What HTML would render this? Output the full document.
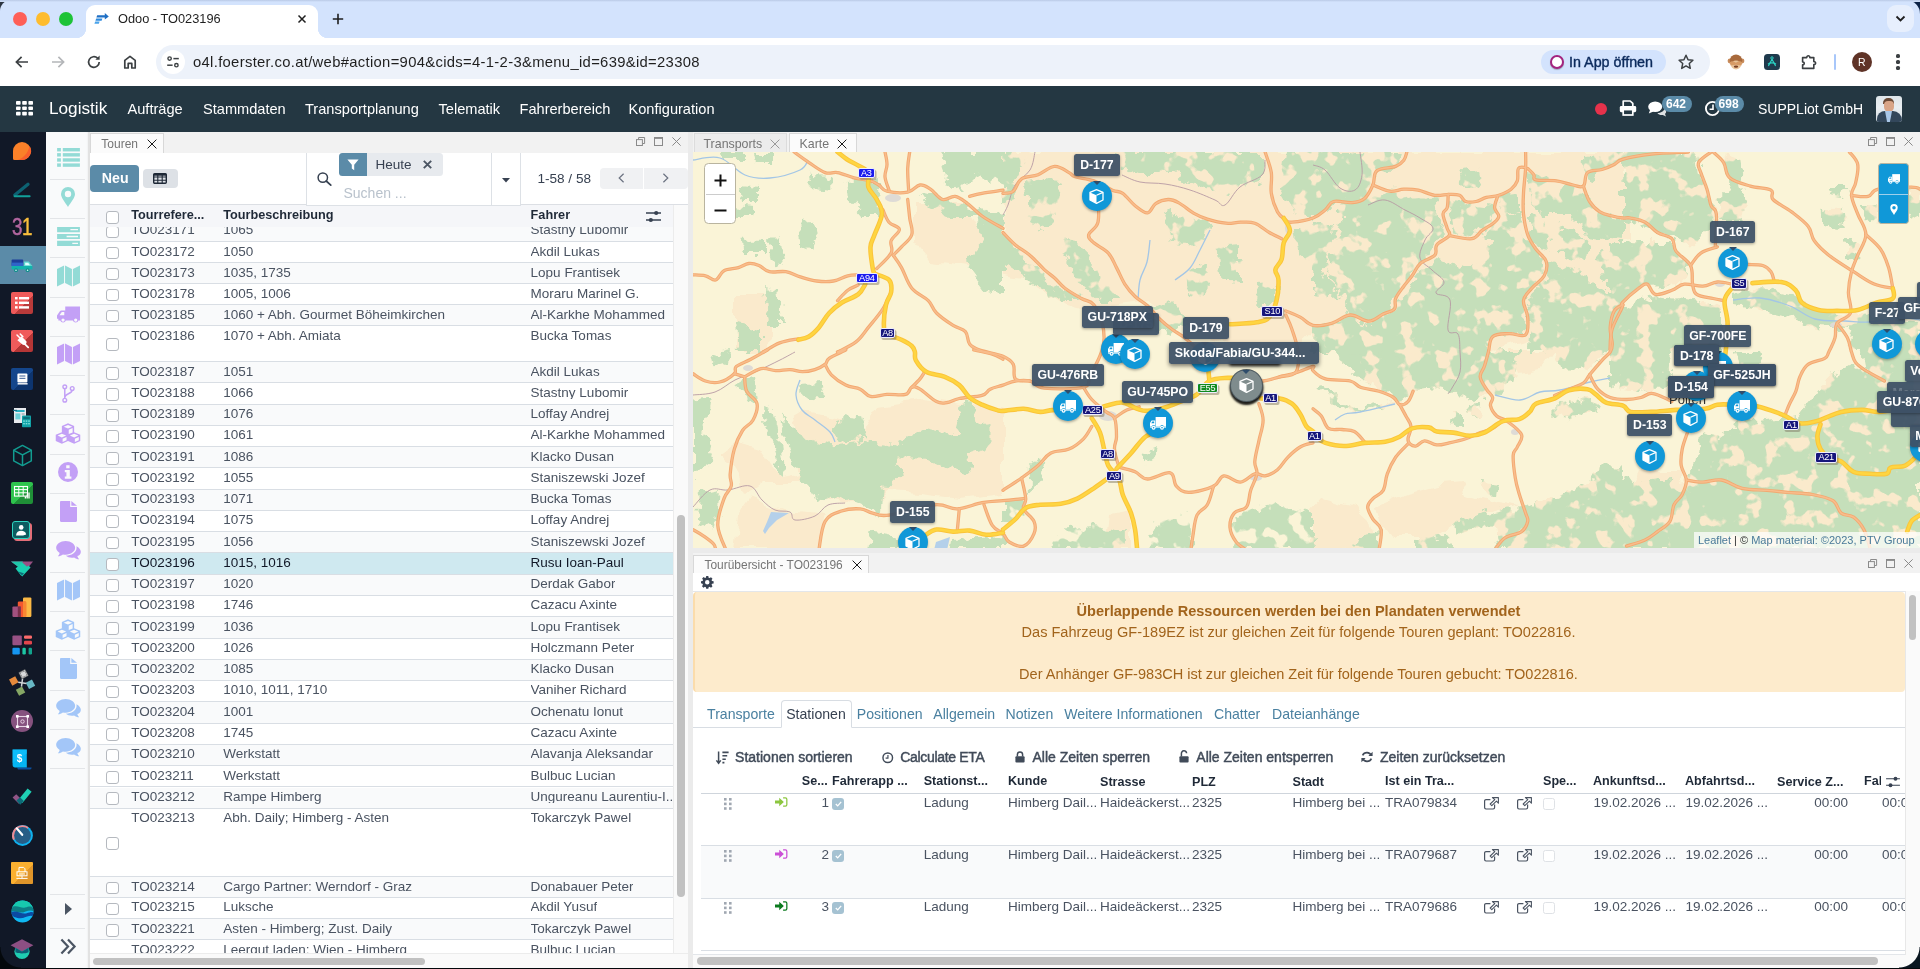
<!DOCTYPE html>
<html lang="de"><head><meta charset="utf-8"><title>Odoo - TO023196</title>
<style>
*{box-sizing:border-box;margin:0;padding:0}
body{will-change:transform}html,body{width:1920px;height:969px;overflow:hidden;background:#fff;font-family:"Liberation Sans",sans-serif;color:#374151}
.a{position:absolute}
.t{position:absolute;white-space:nowrap;line-height:1}
svg{position:absolute;overflow:visible}
/* chrome */
#tabstrip{left:0;top:0;width:1920px;height:38px;background:#d3e3fd}
#toolbar{left:0;top:38px;width:1920px;height:48px;background:#fff}
#tab{left:86px;top:5px;width:232px;height:33px;background:#fff;border-radius:9px 9px 0 0}
#pill{left:155.600px;top:45px;width:1554.400px;height:34px;border-radius:17px;background:#edf2fa}
/* odoo nav */
#nav{left:0;top:86px;width:1920px;height:46px;background:#243742}
#nav .t{color:#fff;font-size:14.6px;top:15.600px}
#apps{left:0;top:132px;width:46px;height:837px;background:#111827}
#sub{left:46px;top:132px;width:44px;height:837px;background:#f9fafb;box-shadow:inset -3px 0 3px -2px rgba(0,0,0,.18)}
#sub .sep{position:absolute;left:4px;width:35px;height:1px;background:#e3e5e8}
</style></head><body>
<!-- ===== browser chrome ===== -->
<div class="a" id="tabstrip">
  <div class="a" style="left:0;top:0;width:12px;height:12px;background:#2b3440"></div>
  <div class="a" style="left:0;top:0;width:24px;height:24px;background:#d3e3fd;border-radius:11px 0 0 0"></div>
  <div class="a" style="right:0;top:0;width:15px;height:15px;background:#0b2347"></div>
  <div class="a" style="right:0;top:0;width:30px;height:30px;background:#d3e3fd;border-radius:0 14px 0 0"></div>
  <div class="a" style="left:0;top:0;width:1920px;height:2px;background:linear-gradient(#b9c9e6,#d3e3fd)"></div>
  <div class="a" style="left:13px;top:12px;width:14px;height:14px;border-radius:50%;background:#fe5f57"></div>
  <div class="a" style="left:36px;top:12px;width:14px;height:14px;border-radius:50%;background:#febc2e"></div>
  <div class="a" style="left:59px;top:12px;width:14px;height:14px;border-radius:50%;background:#1ec337"></div>
  <div class="a" id="tab"></div>
  <div class="a" style="left:76px;top:28px;width:10px;height:10px;background:radial-gradient(circle at 0 0,#d3e3fd 10px,#fff 10.5px)"></div>
  <div class="a" style="left:318px;top:28px;width:10px;height:10px;background:radial-gradient(circle at 100% 0,#d3e3fd 10px,#fff 10.5px)"></div>
  <svg style="left:94px;top:12px" width="16" height="14" viewBox="0 0 16 14"><path d="M3.2 3.2h7.6V1l4 3.4-4 3.2V5.6H2.4z" fill="#1f6fc4"/><path d="M2.2 6.6h6.2l-.8 2.2H1.4z" fill="#2e8be0"/><path d="M1.2 9.6h4.4l-.8 2.2H.4z" fill="#4aa3ea"/></svg>
  <div class="t" style="left:118px;top:12.5px;font-size:12.8px;color:#1f1f1f">Odoo - TO023196</div>
  <svg style="left:297px;top:14px" width="10" height="10" viewBox="0 0 10 10"><path d="M1.5 1.5l7 7M8.5 1.5l-7 7" stroke="#1f1f1f" stroke-width="1.5" fill="none"/></svg>
  <svg style="left:332px;top:13px" width="12" height="12" viewBox="0 0 12 12"><path d="M6 .8v10.4M.8 6h10.4" stroke="#1f1f1f" stroke-width="1.6" fill="none"/></svg>
  <div class="a" style="left:1887px;top:5px;width:27px;height:27px;border-radius:9px;background:#e7effd"></div>
  <svg style="left:1895px;top:15px" width="11" height="8" viewBox="0 0 11 8"><path d="M1.5 1.5l4 4 4-4" stroke="#1f1f1f" stroke-width="1.8" fill="none"/></svg>
</div>
<div class="a" id="toolbar"></div>
<svg style="left:14px;top:54px" width="16" height="16" viewBox="0 0 16 16"><path d="M14 8H2.6M7.6 2.8L2.4 8l5.2 5.2" stroke="#3c4043" stroke-width="1.7" fill="none"/></svg>
<svg style="left:50px;top:54px" width="16" height="16" viewBox="0 0 16 16"><path d="M2 8h11.4M8.4 2.8L13.6 8l-5.2 5.2" stroke="#b4b6b9" stroke-width="1.7" fill="none"/></svg>
<svg style="left:86px;top:54px" width="16" height="16" viewBox="0 0 16 16"><path d="M13.2 8a5.3 5.3 0 1 1-1.6-3.8" stroke="#3c4043" stroke-width="1.7" fill="none"/><path d="M13.6 1.6v4.2H9.4z" fill="#3c4043"/></svg>
<svg style="left:122px;top:54px" width="16" height="16" viewBox="0 0 16 16"><path d="M2.8 14V6.4L8 2.4l5.2 4V14H9.8V9.4H6.2V14z" stroke="#3c4043" stroke-width="1.7" fill="none" stroke-linejoin="round"/></svg>
<div class="a" id="pill"></div>
<div class="a" style="left:161px;top:50px;width:24px;height:24px;border-radius:50%;background:#fff"></div>
<svg style="left:166px;top:55px" width="14" height="14" viewBox="0 0 14 14"><circle cx="3.6" cy="3.6" r="1.7" stroke="#3c4043" stroke-width="1.4" fill="none"/><path d="M7.4 3.6h5.4" stroke="#3c4043" stroke-width="1.5"/><circle cx="10.4" cy="10.2" r="1.7" stroke="#3c4043" stroke-width="1.4" fill="none"/><path d="M1.2 10.2h5.4" stroke="#3c4043" stroke-width="1.5"/></svg>
<div class="t" style="left:193px;top:54.5px;font-size:14.800px;letter-spacing:.320px;color:#1f1f1f">o4l.foerster.co.at/web#action=904&amp;cids=4-1-2-3&amp;menu_id=639&amp;id=23308</div>
<div class="a" style="left:1541px;top:50px;width:125px;height:24px;border-radius:12px;background:#d3e3fd"></div>
<div class="a" style="left:1550px;top:55px;width:14px;height:14px;border-radius:50%;border:2.6px solid #a3247f;background:#fff;box-shadow:0 1px 1px rgba(0,0,0,.25)"></div>
<div class="t" style="left:1569px;top:55px;font-size:14.300px;color:#0b2a5c;-webkit-text-stroke:.400px #0b2a5c">In App öffnen</div>
<svg style="left:1677px;top:53px" width="18" height="18" viewBox="0 0 18 18"><path d="M9 2.2l2.05 4.5 4.85.55-3.6 3.3.98 4.8L9 12.9l-4.28 2.45.98-4.8-3.6-3.3 4.85-.55z" stroke="#3c4043" stroke-width="1.5" fill="none" stroke-linejoin="round"/></svg>
<!-- monkey -->
<svg style="left:1727px;top:53px" width="18" height="18" viewBox="0 0 18 18"><circle cx="3" cy="8" r="2.4" fill="#c68a5a"/><circle cx="15" cy="8" r="2.4" fill="#c68a5a"/><ellipse cx="9" cy="7.6" rx="6.2" ry="6" fill="#a86a3c"/><ellipse cx="9" cy="12" rx="5" ry="4.4" fill="#e9c49a"/><path d="M2.6 9.4c2-1.6 4-1.4 6.4.4 2.4-1.8 4.4-2 6.4-.4l-1 3-5.4-.6-5.4.6z" fill="#d79b66"/><ellipse cx="9" cy="13.6" rx="2.2" ry="1.2" fill="#7a3f22"/></svg>
<div class="a" style="left:1764px;top:54px;width:16px;height:16px;border-radius:3.5px;background:#1f3a4d"></div>
<svg style="left:1766px;top:56px" width="12" height="12" viewBox="0 0 12 12"><circle cx="6" cy="2" r="1.2" stroke="#2bd4c6" stroke-width="1" fill="none"/><path d="M6 3.2L2.4 10M6 3.2L9.6 10M2 8.2c2-1.8 6-1.8 8 0" stroke="#2bd4c6" stroke-width="1.1" fill="none"/></svg>
<svg style="left:1800px;top:53px" width="18" height="18" viewBox="0 0 18 18"><path d="M2.6 4.6h4.2c-.2-2.4 3.2-2.4 3 0h4v4c2.4-.2 2.4 3.2 0 3v3.8H2.6v-3.6c2.2.2 2.2-3 0-2.8z" stroke="#3c4043" stroke-width="1.6" fill="none" stroke-linejoin="round"/></svg>
<div class="a" style="left:1834px;top:54px;width:2px;height:16px;border-radius:1px;background:#a8c7fa"></div>
<div class="a" style="left:1852px;top:52px;width:20px;height:20px;border-radius:50%;background:#5f3327"></div>
<div class="t" style="left:1858px;top:57px;font-size:10.5px;color:#fff">R</div>
<div class="a" style="left:1896.4px;top:54.4px;width:3.2px;height:3.2px;border-radius:50%;background:#3c4043;box-shadow:0 6px 0 #3c4043,0 12px 0 #3c4043"></div>
<!-- ===== odoo navbar ===== -->
<div class="a" id="nav">
  <svg style="left:16px;top:15px" width="17" height="15" viewBox="0 0 17 15"><g fill="#fff"><rect x="0" y="0" width="4.6" height="3.7" rx=".8"/><rect x="6.2" y="0" width="4.6" height="3.7" rx=".8"/><rect x="12.4" y="0" width="4.6" height="3.7" rx=".8"/><rect x="0" y="5.4" width="4.6" height="3.7" rx=".8"/><rect x="6.2" y="5.4" width="4.6" height="3.7" rx=".8"/><rect x="12.4" y="5.4" width="4.6" height="3.7" rx=".8"/><rect x="0" y="10.8" width="4.6" height="3.7" rx=".8"/><rect x="6.2" y="10.8" width="4.6" height="3.7" rx=".8"/><rect x="12.4" y="10.8" width="4.6" height="3.7" rx=".8"/></g></svg>
  <div class="t" style="left:49px;top:14px;font-size:17.2px">Logistik</div>
  <div class="t" style="left:127.5px">Aufträge</div>
  <div class="t" style="left:203px">Stammdaten</div>
  <div class="t" style="left:305px">Transportplanung</div>
  <div class="t" style="left:438.5px">Telematik</div>
  <div class="t" style="left:519.5px">Fahrerbereich</div>
  <div class="t" style="left:628.5px">Konfiguration</div>
  <div class="a" style="left:1594.5px;top:16.5px;width:12.5px;height:12.5px;border-radius:50%;background:#e6324b"></div>
  <svg style="left:1619px;top:13px" width="18" height="18" viewBox="0 0 18 18"><path d="M4.2 7V2h7l2.6 2.4V7" fill="none" stroke="#fff" stroke-width="1.7" stroke-linejoin="round"/><rect x=".8" y="7" width="16.4" height="6.2" rx="1.4" fill="#fff"/><rect x="4.2" y="10.6" width="9.6" height="5.4" fill="#243742" stroke="#fff" stroke-width="1.7"/></svg>
  <svg style="left:1648px;top:15px" width="19" height="16" viewBox="0 0 19 16"><ellipse cx="7.2" cy="5.8" rx="7" ry="5.2" fill="#fff"/><path d="M2.2 8.6L.8 12.6l4.6-2z" fill="#fff"/><path d="M9.4 12c3.6 0 6.4-1.6 7-4.2 1 .6 1.8 1.6 1.8 2.8 0 1-.4 1.8-1.2 2.4l1 2.4-3.2-1.4c-2.2.4-4.2-.4-5.4-2z" fill="#fff" opacity=".85"/></svg>
  <div class="a" style="left:1661.5px;top:10.3px;width:30px;height:16px;border-radius:8px;background:#5b8ba8"></div>
  <div class="t" style="left:1666px;top:12.3px;font-size:12px;font-weight:700;color:#fff">642</div>
  <svg style="left:1704px;top:14px" width="17" height="17" viewBox="0 0 17 17"><circle cx="8.5" cy="8.5" r="6.6" fill="none" stroke="#fff" stroke-width="1.9"/><path d="M9 4.6v4.6H5.6" fill="none" stroke="#fff" stroke-width="1.6"/></svg>
  <div class="a" style="left:1714.5px;top:10.3px;width:29px;height:16px;border-radius:8px;background:#5b8ba8"></div>
  <div class="t" style="left:1718.6px;top:12.3px;font-size:12px;font-weight:700;color:#fff">698</div>
  <div class="t" style="left:1758px;font-size:14px;top:16.200px">SUPPLiot GmbH</div>
  <div class="a" style="left:1876px;top:10px;width:26px;height:26px;border-radius:3px;overflow:hidden;background:linear-gradient(180deg,#dfe6ea 0,#e9eef1 45%,#cfd8de 100%)">
    <div class="a" style="left:7px;top:2px;width:11px;height:6px;border-radius:5px 5px 0 0;background:#6b4a36"></div>
    <div class="a" style="left:7.5px;top:5px;width:10px;height:11px;border-radius:4px 4px 5px 5px;background:#d9a587"></div>
    <div class="a" style="left:1px;top:15px;width:25px;height:12px;border-radius:8px 9px 0 0;background:#33475b"></div>
    <div class="a" style="left:9px;top:15px;width:7px;height:11px;background:#a9c7e8;clip-path:polygon(0 0,100% 0,70% 100%,30% 100%)"></div>
  </div>
</div>
<!-- ===== app sidebar ===== -->
<div class="a" id="apps">
  <div class="a" style="left:0;top:114px;width:46px;height:38px;background:#5b8ba8"></div>
  <!-- 1 discuss y=19 -->
  <svg style="left:12px;top:9px" width="20" height="20" viewBox="0 0 20 20"><path d="M1 10a9 9 0 1 1 9 9H2.6A1.6 1.6 0 0 1 1 17.4z" fill="#fb8129"/><path d="M17.5 5A9 9 0 0 1 10 19H5.6C11 17.6 16.2 12 17.5 5z" fill="#f9602c"/></svg>
  <!-- 2 angle y=57 -->
  <svg style="left:12px;top:47px" width="20" height="20" viewBox="0 0 20 20"><path d="M2.800 16L16 5.200" stroke="#0d6272" stroke-width="3.300" stroke-linecap="round"/><path d="M2.600 17.200H17.600" stroke="#12a19b" stroke-width="2" stroke-linecap="round"/></svg>
  <!-- 3 calendar 31 y=95 -->
  <div class="t" style="left:12px;top:83.500px;font-size:23.500px;color:#b366a0;-webkit-text-stroke:.500px #b366a0;transform:scaleX(.800);transform-origin:0 0">3</div>
  <div class="t" style="left:22px;top:83.500px;font-size:23.500px;color:#fbbf3c;-webkit-text-stroke:.500px #fbbf3c;transform:scaleX(.800);transform-origin:0 0">1</div>
  <!-- 4 truck y=133 -->
  <svg style="left:11px;top:127px" width="22" height="14" viewBox="0 0 22 14"><rect x=".6" y=".6" width="11.6" height="6.4" rx=".8" fill="#1d3f99"/><rect x=".6" y="3.6" width="11.6" height="3.4" fill="#2f65c8"/><path d="M.6 7h20.8v3.4H.6z" fill="#12b3ad"/><path d="M12.8 2.6h5l3.6 4.4h-8.6z" fill="#5fd7cf"/><path d="M14.2 3.8h3l1.8 2.4h-4.8z" fill="#dff" /><circle cx="5" cy="11.2" r="1.9" fill="#0e8f8a"/><circle cx="16.6" cy="11.2" r="1.9" fill="#0e8f8a"/><circle cx="5" cy="11.2" r=".8" fill="#dff"/><circle cx="16.6" cy="11.2" r=".8" fill="#dff"/></svg>
  <!-- 5 red list y=171 -->
  <div class="a" style="left:11px;top:160px;width:22px;height:22px;border-radius:2px;background:linear-gradient(135deg,#ef5a5a 0 58%,#b93a3a 58%)"></div>
  <svg style="left:15px;top:165px" width="14" height="12" viewBox="0 0 14 12"><g fill="#fff"><rect x="0" y="0" width="2.6" height="2.4"/><rect x="4" y="0" width="10" height="2.4"/><rect x="0" y="4.6" width="2.6" height="2.4"/><rect x="4" y="4.6" width="10" height="2.4"/><rect x="0" y="9.2" width="2.6" height="2.4"/><rect x="4" y="9.2" width="10" height="2.4"/></g></svg>
  <!-- 6 red plug y=209 -->
  <div class="a" style="left:11px;top:198px;width:22px;height:22px;border-radius:2px;background:linear-gradient(135deg,#f05b5b 0 56%,#b53636 56%)"></div>
  <svg style="left:14px;top:201px" width="16" height="16" viewBox="0 0 16 16"><path d="M3 2l3 3M6.2 1l2.6 2.6" stroke="#fff" stroke-width="1.5" stroke-linecap="round"/><path d="M3.4 7.2l4-4 5 5c.8 2-1.4 4.4-3.6 3.6z" fill="#fff"/><path d="M10.6 10.8l3.6 3.6" stroke="#fff" stroke-width="1.8" stroke-linecap="round"/></svg>
  <!-- 7 blue book y=247 -->
  <div class="a" style="left:11px;top:236px;width:22px;height:22px;border-radius:2px;background:linear-gradient(135deg,#14468c 0 55%,#0d346e 55%)"></div>
  <svg style="left:17px;top:241px" width="11" height="12" viewBox="0 0 11 12"><rect x=".4" y=".4" width="10" height="9" rx="1" fill="#fff"/><rect x="2.4" y="2.4" width="6" height="1.2" fill="#5b7aa8"/><rect x="2.4" y="4.8" width="6" height="1.2" fill="#5b7aa8"/><path d="M.6 10.8h10" stroke="#fff" stroke-width="1.4"/></svg>
  <!-- 8 invoice+calc y=285 -->
  <svg style="left:12px;top:275px" width="22" height="22" viewBox="0 0 22 22"><rect x="2" y="1" width="12" height="15" fill="#e8eaee"/><rect x="3.4" y="3" width="9.2" height="2" fill="#2ab0c2"/><rect x="3.4" y="6.4" width="5" height="6" fill="#6fd0d8"/><rect x="9.6" y="6.4" width="3" height="1.2" fill="#9aa3ad"/><path d="M1 3.4h4" stroke="#1b6f86" stroke-width="1.2"/><rect x="10" y="8.6" width="9" height="11.6" rx=".8" fill="#12a3a8"/><rect x="11.2" y="9.8" width="6.6" height="2.4" fill="#0b6f7c"/><g fill="#7fe0dc"><rect x="11.2" y="13.4" width="1.6" height="1.4"/><rect x="13.7" y="13.4" width="1.6" height="1.4"/><rect x="16.2" y="13.4" width="1.6" height="1.4"/><rect x="11.2" y="16" width="1.6" height="1.4"/><rect x="13.7" y="16" width="1.6" height="1.4"/><rect x="16.2" y="16" width="1.6" height="1.4"/></g></svg>
  <!-- 9 cube outline y=323 -->
  <svg style="left:12px;top:312px" width="21" height="23" viewBox="0 0 21 23"><path d="M10.5 1.4l8.8 4.8v10.6l-8.8 4.8-8.8-4.8V6.200z" fill="none" stroke="#129c90" stroke-width="1.5" stroke-linejoin="round"/><path d="M1.9 6.4l8.6 4.6 8.6-4.6M10.5 11v10.400" fill="none" stroke="#129c90" stroke-width="1.5"/></svg>
  <!-- 10 green sheet y=361 -->
  <div class="a" style="left:11px;top:350px;width:22px;height:22px;border-radius:2px;background:linear-gradient(135deg,#2fc44e 0 55%,#1f8f37 55%)"></div>
  <svg style="left:14px;top:354px" width="16" height="13" viewBox="0 0 16 13"><rect x=".5" y=".5" width="13" height="9.6" fill="none" stroke="#fff" stroke-width="1.1"/><path d="M.5 3.6h13M.5 6.800h13M4.800.5v9.600M9.200.5v9.600" stroke="#fff" stroke-width="1"/><path d="M11.4 12.600v-2.200M13.200 12.600V8.400M15 12.600V6.400" stroke="#fff" stroke-width="1.300"/></svg>
  <!-- 11 contacts y=399 -->
  <div class="a" style="left:13.500px;top:390.500px;width:18px;height:18px;border-radius:3px;background:#e46e78"></div>
  <div class="a" style="left:12px;top:389px;width:17.500px;height:17.500px;border-radius:3px;background:#0c5c60;border:1.500px solid #2dd4c0"></div>
  <svg style="left:15px;top:392px" width="12" height="12" viewBox="0 0 12 12"><circle cx="6.200" cy="3.400" r="2.300" fill="#fff"/><path d="M1 11.400c.4-3.200 2.400-4.600 5.200-4.600 2.600 0 4.600 1.400 5 3.600L8 11.400z" fill="#fff"/></svg>
  <!-- 12 handshake y=437 -->
  <svg style="left:10px;top:427px" width="24" height="20" viewBox="0 0 24 20"><path d="M1 2.600h22L15 12.600z" fill="#985184"/><path d="M1 2.600h12l-4 6z" fill="#1fc7a9"/><path d="M5.600 9.400l6.600-6 6 5.400-7 8z" fill="#1ad0b0"/><path d="M9.800 14.400l8.600-8 2.200 2-8.400 9z" fill="#1ad0b0"/><path d="M8 12.400l4 4 2-2.200" fill="#0e6f7a"/></svg>
  <!-- 13 bars y=475 -->
  <svg style="left:11px;top:464px" width="22" height="22" viewBox="0 0 22 22"><rect x="12" y="1.400" width="8.400" height="19.600" rx="1.200" fill="#fbb945"/><rect x="6.800" y="5.600" width="8.400" height="15.400" rx="1.200" fill="#f4572f"/><rect x="1.400" y="10.400" width="8.400" height="10.600" rx="1.200" fill="#a2517f"/><rect x="6.800" y="10.400" width="3" height="10.600" fill="#7a2f4a"/><rect x="12" y="5.600" width="3.200" height="15.400" fill="#f78733"/></svg>
  <!-- 14 dashboard y=513 -->
  <svg style="left:12px;top:503px" width="21" height="20" viewBox="0 0 21 20"><rect x=".4" y=".4" width="9.400" height="9.800" rx="1.200" fill="#985184"/><rect x="12" y=".4" width="8" height="3.400" rx="1.200" fill="#fc6b6b"/><rect x="12" y="5.800" width="8" height="3.600" rx="1.200" fill="#e2454c"/><rect x=".4" y="12.800" width="7.400" height="6.600" rx="1.200" fill="#1596f2"/><rect x="10.400" y="12.800" width="3.400" height="6.600" rx="1.200" fill="#1cc7a4"/><rect x="16.600" y="12.800" width="3.400" height="6.600" rx="1.200" fill="#12a28c"/></svg>
  <!-- 15 pinwheel y=551 -->
  <svg style="left:10px;top:539px" width="24" height="24" viewBox="0 0 24 24"><g transform="rotate(-28 12 12)"><rect x="2.200" y="2.800" width="7" height="7" fill="#e58a3c"/><rect x="14" y="1.400" width="7" height="7" fill="#d9dadc" stroke="#555" stroke-width=".5"/><path d="M15 2.400h5v5h-5z" fill="none" stroke="#444" stroke-width=".6" stroke-dasharray="1 .700"/><rect x="15.400" y="13.600" width="7" height="7" fill="#67b7c4"/><rect x="3.400" y="15" width="7" height="7" fill="#86a765"/><path d="M9 9.600l6.600 5M14.400 8.600L9.800 15" stroke="#cfd3d6" stroke-width="1.500"/></g></svg>
  <!-- 16 purple circle y=589 -->
  <div class="a" style="left:11px;top:578px;width:22px;height:22px;border-radius:50%;background:#86527f"></div>
  <svg style="left:15.500px;top:582.500px" width="13" height="13" viewBox="0 0 13 13"><rect x="1.500" y="1.500" width="10" height="10" fill="none" stroke="#e9d5e6" stroke-width="1.100"/><circle cx="6.500" cy="6.500" r="1.700" fill="none" stroke="#e9d5e6" stroke-width="1"/><g fill="#fff"><rect x="0" y="0" width="2.600" height="2.600"/><rect x="10.400" y="0" width="2.600" height="2.600"/><rect x="0" y="10.400" width="2.600" height="2.600"/><rect x="10.400" y="10.400" width="2.600" height="2.600"/></g></svg>
  <!-- 17 invoice $ y=627 -->
  <svg style="left:11px;top:616px" width="24" height="23" viewBox="0 0 24 23"><path d="M6 19.400h14.600c0 1.400-1 2.200-2.200 2.200H7z" fill="#0a4fa0"/><path d="M1.600 1.400h14.200v18H4c-1.400 0-2.400-1-2.400-2.400z" fill="#05b5f4"/><path d="M1.600 1.400h14.200v4L1.600 15z" fill="#11c3fb" opacity=".6"/><text x="8.600" y="13.600" font-family="Liberation Sans" font-size="10" font-weight="700" fill="#fff" text-anchor="middle">$</text></svg>
  <!-- 18 check y=665 -->
  <svg style="left:11px;top:655px" width="22" height="20" viewBox="0 0 22 20"><path d="M1.600 10.600l3.600-3.400 6.200 6-3.600 3.600z" fill="#915587"/><path d="M7.800 12.200L16.600 1.600l4 3.200L11.400 16z" fill="#1fd0b4"/><path d="M5.400 13.400l3.600-3.200 3.800 3.800-3.600 3.800z" fill="#0d6a78"/></svg>
  <!-- 19 gauge y=703 -->
  <svg style="left:10.500px;top:691.500px" width="23" height="23" viewBox="0 0 23 23"><circle cx="11.500" cy="11.500" r="10.400" fill="#0fb1ef"/><path d="M2 16A10.400 10.400 0 0 1 17.600 3.200L11.500 11.500z" fill="#f08a92"/><circle cx="11.500" cy="11.500" r="8.400" fill="#275d86"/><path d="M11.200 10.800L5.800 4.400" stroke="#fff" stroke-width="2.200" stroke-linecap="round"/></svg>
  <!-- 20 yellow print y=741 -->
  <div class="a" style="left:11px;top:730px;width:22px;height:22px;border-radius:1px;background:linear-gradient(135deg,#fbb030 0 55%,#e0952a 55%)"></div>
  <svg style="left:15px;top:734px" width="14" height="14" viewBox="0 0 14 14"><path d="M4 6V1.400h4.600L10 2.800V6" fill="none" stroke="#fff" stroke-width="1"/><rect x="2" y="5.800" width="10" height="4" fill="none" stroke="#fff" stroke-width="1"/><path d="M4 8h6M7 9.800v2.400M1.400 12.400h11.200" stroke="#fff" stroke-width="1"/></svg>
  <!-- 21 waves y=779 -->
  <svg style="left:10.500px;top:767.500px" width="23" height="23" viewBox="0 0 23 23"><defs><clipPath id="cw"><circle cx="11.500" cy="11.500" r="11"/></clipPath></defs><g clip-path="url(#cw)"><rect width="23" height="23" fill="#0fb8f2"/><path d="M0 0h23v9.400C17 4.800 11 12.400 0 8.400z" fill="#17c9ae"/><path d="M0 7.600c6-3.400 10 1.200 14 0s6-2 9 .6v3.200c-5-3-9 1.600-14 1.200S3 10.400 0 12z" fill="#0d7f86"/><path d="M0 12.400c5-2.800 10 2 15 1s5-2.200 8-.4v3.400c-6-2.400-9 2.400-15 1.800S2 15.200 0 16.400z" fill="#0b4aa2"/></g></svg>
  <!-- 22 grad cap y=817 -->
  <svg style="left:10px;top:806px" width="24" height="22" viewBox="0 0 24 22"><circle cx="12" cy="13.400" r="7.600" fill="#1fcdb1"/><path d="M.6 7.200L12 1.200l11.400 6L12 13.400z" fill="#8d4f83"/><path d="M5.400 9.800v4.400c3.600 1.600 9.600 1.600 13.200 0V9.800L12 13.400z" fill="#0d5f74"/></svg>
</div>
<!-- ===== secondary sidebar ===== -->
<div class="a" id="sub">

<svg width="0" height="0" style="left:-10px;top:-10px"><defs>
<symbol id="i-list" viewBox="0 0 24 20"><rect x="0" y="0" width="4" height="3.600"/><rect x="6" y="0" width="18" height="3.600"/><rect x="0" y="5.400" width="4" height="3.600"/><rect x="6" y="5.400" width="18" height="3.600"/><rect x="0" y="10.800" width="4" height="3.600"/><rect x="6" y="10.800" width="18" height="3.600"/><rect x="0" y="16.200" width="4" height="3.600"/><rect x="6" y="16.200" width="18" height="3.600"/></symbol>
<symbol id="i-pin" viewBox="0 0 14 20"><path fill-rule="evenodd" d="M7 0a7 7 0 0 1 7 7c0 4-4.400 8.600-7 13C4.400 15.600 0 11 0 7a7 7 0 0 1 7-7zm0 3.800a3.200 3.200 0 1 0 0 6.400 3.200 3.200 0 0 0 0-6.400z"/></symbol>
<symbol id="i-server" viewBox="0 0 24 20"><path fill-rule="evenodd" d="M0 0h24v5.400H0zM14 2h8v1.400h-8zM0 7.300h24v5.400H0zM10 9.300h12v1.400H10zM0 14.600h24V20H0zM16 16.600h6V18h-6z"/></symbol>
<symbol id="i-map" viewBox="0 0 24 22"><path d="M0 3.600L7.400 0v18.400L0 22zM8.400 0l7.200 3.600V22l-7.200-3.600zM16.600 3.600L24 0v18.400L16.600 22z"/></symbol>
<symbol id="i-truck" viewBox="0 0 24 19"><path fill-rule="evenodd" d="M8.600 0H24v14.600h-1.600a3 3 0 0 1-5.800 0H9.200a3 3 0 0 1-5.800 0H1.400V13H0V9.600l2.800-4.400c.4-.6 1-1 1.800-1h4zM2.600 9.200h5V5.800H5zM6.300 12.600a1.700 1.700 0 1 0 0 3.400 1.700 1.700 0 0 0 0-3.400zm13.200 0a1.700 1.700 0 1 0 0 3.400 1.700 1.700 0 0 0 0-3.400z"/></symbol>
<symbol id="i-fork" viewBox="0 0 14 20"><path fill="none" stroke="currentColor" stroke-width="1.600" d="M3 4.400v11.200M11 6.200c0 4.600-8 3.600-8 8"/><circle cx="3" cy="2.800" r="2" fill="none" stroke="currentColor" stroke-width="1.500"/><circle cx="11" cy="4.600" r="2" fill="none" stroke="currentColor" stroke-width="1.500"/><circle cx="3" cy="17.200" r="2" fill="none" stroke="currentColor" stroke-width="1.500"/></symbol>
<symbol id="i-cubes" viewBox="0 0 28 22"><path fill-rule="evenodd" d="M14 0l6.600 2.800v6.800l6.600 2.800v6.800L20.600 22 14 19.200 7.400 22 .8 19.200v-6.800l6.600-2.800V2.800zM9.400 3.600L14 5.600l4.600-2L14 1.800zm5.400 3.400v4.600l4.200-1.800V5.200zM2.800 13.200l4.600 2 4.600-2-4.600-1.800zm5.400 3.400v3.600l4.200-1.800v-3.600zm7.800-3.400l4.600 2 4.600-2-4.600-1.800zm5.400 3.400v3.600l4.200-1.800v-3.600z"/></symbol>
<symbol id="i-info" viewBox="0 0 20 20"><path fill-rule="evenodd" d="M10 0a10 10 0 1 1 0 20 10 10 0 0 1 0-20zM8.200 3.200v3h3.400v-3zM6.800 8v2.200h1.600v4.400H6.800v2.200h6.600v-2.200h-1.600V8z"/></symbol>
<symbol id="i-file" viewBox="0 0 18 22"><path d="M1.200 0h9.600v6.200H18v14.600c0 .7-.5 1.200-1.200 1.200H1.200C.5 22 0 21.500 0 20.800V1.200C0 .5.500 0 1.200 0zM12 0l6 5h-6z"/></symbol>
<symbol id="i-comments" viewBox="0 0 26 20"><path d="M10 0c5.500 0 10 3.200 10 7.200s-4.500 7.200-10 7.200c-1 0-2-.1-2.900-.3-1.500 1.100-3.300 1.800-5.300 1.900 1-1 1.700-2.100 1.900-3.400C1.400 11.200 0 9.300 0 7.200 0 3.200 4.500 0 10 0z"/><path d="M22.300 15.900c.3 1.300 1 2.500 1.900 3.400-2-.1-3.800-.8-5.300-1.900-3.300.7-6.700-.1-8.700-1.800 5.900 0 11.300-3.600 11.300-8.400 0-.6-.1-1.100-.2-1.700 2.700 1.300 4.700 3.400 4.700 5.900 0 2.100-1.400 3.900-3.700 4.500z"/></symbol>
</defs></svg>

<svg style="left:10.5px;top:16.4px;color:#93dbd6" width="23" height="19" fill="#93dbd6"><use href="#i-list"/></svg>
<div class="sep" style="top:46.6px"></div>
<svg style="left:15.0px;top:55.2px;color:#93dbd6" width="14" height="20" fill="#93dbd6"><use href="#i-pin"/></svg>
<div class="sep" style="top:85.9px"></div>
<svg style="left:10.5px;top:95.0px;color:#93dbd6" width="23" height="19" fill="#93dbd6"><use href="#i-server"/></svg>
<div class="sep" style="top:125.2px"></div>
<svg style="left:10.5px;top:132.8px;color:#93dbd6" width="23" height="22" fill="#93dbd6"><use href="#i-map"/></svg>
<div class="sep" style="top:164.5px"></div>
<svg style="left:10.5px;top:173.6px;color:#c3a0f6" width="23" height="19" fill="#c3a0f6"><use href="#i-truck"/></svg>
<div class="sep" style="top:203.8px"></div>
<svg style="left:10.5px;top:211.4px;color:#c3a0f6" width="23" height="22" fill="#c3a0f6"><use href="#i-map"/></svg>
<div class="sep" style="top:243.1px"></div>
<svg style="left:15.5px;top:252.2px;color:#c3a0f6" width="13" height="19" fill="#c3a0f6"><use href="#i-fork"/></svg>
<div class="sep" style="top:282.4px"></div>
<svg style="left:9.0px;top:290.5px;color:#c3a0f6" width="26" height="21" fill="#c3a0f6"><use href="#i-cubes"/></svg>
<div class="sep" style="top:321.7px"></div>
<svg style="left:12.0px;top:330.3px;color:#c3a0f6" width="20" height="20" fill="#c3a0f6"><use href="#i-info"/></svg>
<div class="sep" style="top:361.0px"></div>
<svg style="left:13.5px;top:369.1px;color:#c3a0f6" width="17" height="21" fill="#c3a0f6"><use href="#i-file"/></svg>
<div class="sep" style="top:400.3px"></div>
<svg style="left:9.5px;top:409.4px;color:#c3a0f6" width="25" height="19" fill="#c3a0f6"><use href="#i-comments"/></svg>
<div class="sep" style="top:439.6px"></div>
<svg style="left:10.5px;top:447.2px;color:#a3c6f8" width="23" height="22" fill="#a3c6f8"><use href="#i-map"/></svg>
<div class="sep" style="top:478.9px"></div>
<svg style="left:9.0px;top:487.0px;color:#a3c6f8" width="26" height="21" fill="#a3c6f8"><use href="#i-cubes"/></svg>
<div class="sep" style="top:518.2px"></div>
<svg style="left:13.5px;top:526.3px;color:#a3c6f8" width="17" height="21" fill="#a3c6f8"><use href="#i-file"/></svg>
<div class="sep" style="top:557.5px"></div>
<svg style="left:9.5px;top:566.6px;color:#a3c6f8" width="25" height="19" fill="#a3c6f8"><use href="#i-comments"/></svg>
<div class="sep" style="top:596.8px"></div>
<svg style="left:9.5px;top:605.9px;color:#a3c6f8" width="25" height="19" fill="#a3c6f8"><use href="#i-comments"/></svg>
<div class="sep" style="top:636.1px"></div>
<div class="sep" style="top:761.6px"></div>
<div class="sep" style="top:795.5px"></div>
<svg style="left:19px;top:771px" width="7" height="12" viewBox="0 0 7 12"><path d="M0 0l7 6-7 6z" fill="#4b5563"/></svg>
<svg style="left:14px;top:806px" width="16" height="17" viewBox="0 0 16 17"><path d="M1.400 1.400l6.600 7.100-6.600 7.100M8 1.400l6.600 7.100L8 15.600" fill="none" stroke="#4b5563" stroke-width="2.200"/></svg>
</div>
<!-- ===== list panel ===== -->
<style>
#lp{left:90px;top:132px;width:598px;height:837px;background:#fff;overflow:hidden}
#lp .r{position:absolute;left:0;width:582.700px;border-bottom:1px solid #d9dee4}
#lp .r.g{background:#f9fafb}
#lp .r.s{background:#cfe9f0}
#lp .c{position:absolute;white-space:nowrap;font-size:13.500px;line-height:1;color:#4a5361;top:2.400px}
#lp .r.s .c{color:#111827}
#lp .cb{position:absolute;left:16.200px;width:12.800px;height:12.800px;border:1px solid #b5b9bf;border-radius:3px;background:#fff}
.ptabs{position:absolute;background:#f2f2f2}
.ptab{position:absolute;background:#fbfbfb;border:1px solid #d8d8d8;border-bottom:none;font-size:12.400px;color:#757575;white-space:nowrap;line-height:1}
.wbtn{position:absolute}
</style>
<div class="a" style="left:88px;top:132px;width:2px;height:837px;background:#e2e2e2"></div>
<div class="a" id="lp">
<div class="r g" style="top:89.10px;height:21.20px"><div class="cb" style="top:4.50px"></div><div class="c" style="left:41.300px">TO023171</div><div class="c" style="left:133.200px">1065</div><div class="c" style="left:440.600px;max-width:142px;overflow:hidden">Stastny Lubomir</div></div>
<div class="r" style="top:110.30px;height:20.98px"><div class="cb" style="top:4.39px"></div><div class="c" style="left:41.300px">TO023172</div><div class="c" style="left:133.200px">1050</div><div class="c" style="left:440.600px;max-width:142px;overflow:hidden">Akdil Lukas</div></div>
<div class="r g" style="top:131.28px;height:20.98px"><div class="cb" style="top:4.39px"></div><div class="c" style="left:41.300px">TO023173</div><div class="c" style="left:133.200px">1035, 1735</div><div class="c" style="left:440.600px;max-width:142px;overflow:hidden">Lopu Frantisek</div></div>
<div class="r" style="top:152.27px;height:20.98px"><div class="cb" style="top:4.39px"></div><div class="c" style="left:41.300px">TO023178</div><div class="c" style="left:133.200px">1005, 1006</div><div class="c" style="left:440.600px;max-width:142px;overflow:hidden">Moraru Marinel G.</div></div>
<div class="r g" style="top:173.25px;height:21.00px"><div class="cb" style="top:4.40px"></div><div class="c" style="left:41.300px">TO023185</div><div class="c" style="left:133.200px">1060 + Abh. Gourmet Böheimkirchen</div><div class="c" style="left:440.600px;max-width:142px;overflow:hidden">Al-Karkhe Mohammed</div></div>
<div class="r" style="top:194.25px;height:36.00px"><div class="cb" style="top:11.90px"></div><div class="c" style="left:41.300px">TO023186</div><div class="c" style="left:133.200px">1070 + Abh. Amiata</div><div class="c" style="left:440.600px;max-width:142px;overflow:hidden">Bucka Tomas</div></div>
<div class="r g" style="top:230.25px;height:21.24px"><div class="cb" style="top:4.52px"></div><div class="c" style="left:41.300px">TO023187</div><div class="c" style="left:133.200px">1051</div><div class="c" style="left:440.600px;max-width:142px;overflow:hidden">Akdil Lukas</div></div>
<div class="r" style="top:251.49px;height:21.24px"><div class="cb" style="top:4.52px"></div><div class="c" style="left:41.300px">TO023188</div><div class="c" style="left:133.200px">1066</div><div class="c" style="left:440.600px;max-width:142px;overflow:hidden">Stastny Lubomir</div></div>
<div class="r g" style="top:272.73px;height:21.24px"><div class="cb" style="top:4.52px"></div><div class="c" style="left:41.300px">TO023189</div><div class="c" style="left:133.200px">1076</div><div class="c" style="left:440.600px;max-width:142px;overflow:hidden">Loffay Andrej</div></div>
<div class="r" style="top:293.97px;height:21.24px"><div class="cb" style="top:4.52px"></div><div class="c" style="left:41.300px">TO023190</div><div class="c" style="left:133.200px">1061</div><div class="c" style="left:440.600px;max-width:142px;overflow:hidden">Al-Karkhe Mohammed</div></div>
<div class="r g" style="top:315.21px;height:21.24px"><div class="cb" style="top:4.52px"></div><div class="c" style="left:41.300px">TO023191</div><div class="c" style="left:133.200px">1086</div><div class="c" style="left:440.600px;max-width:142px;overflow:hidden">Klacko Dusan</div></div>
<div class="r" style="top:336.44px;height:21.24px"><div class="cb" style="top:4.52px"></div><div class="c" style="left:41.300px">TO023192</div><div class="c" style="left:133.200px">1055</div><div class="c" style="left:440.600px;max-width:142px;overflow:hidden">Staniszewski Jozef</div></div>
<div class="r g" style="top:357.68px;height:21.24px"><div class="cb" style="top:4.52px"></div><div class="c" style="left:41.300px">TO023193</div><div class="c" style="left:133.200px">1071</div><div class="c" style="left:440.600px;max-width:142px;overflow:hidden">Bucka Tomas</div></div>
<div class="r" style="top:378.92px;height:21.24px"><div class="cb" style="top:4.52px"></div><div class="c" style="left:41.300px">TO023194</div><div class="c" style="left:133.200px">1075</div><div class="c" style="left:440.600px;max-width:142px;overflow:hidden">Loffay Andrej</div></div>
<div class="r g" style="top:400.16px;height:21.24px"><div class="cb" style="top:4.52px"></div><div class="c" style="left:41.300px">TO023195</div><div class="c" style="left:133.200px">1056</div><div class="c" style="left:440.600px;max-width:142px;overflow:hidden">Staniszewski Jozef</div></div>
<div class="r s" style="top:421.40px;height:21.28px"><div class="cb" style="top:4.54px"></div><div class="c" style="left:41.300px">TO023196</div><div class="c" style="left:133.200px">1015, 1016</div><div class="c" style="left:440.600px;max-width:142px;overflow:hidden">Rusu Ioan-Paul</div></div>
<div class="r g" style="top:442.68px;height:21.28px"><div class="cb" style="top:4.54px"></div><div class="c" style="left:41.300px">TO023197</div><div class="c" style="left:133.200px">1020</div><div class="c" style="left:440.600px;max-width:142px;overflow:hidden">Derdak Gabor</div></div>
<div class="r" style="top:463.96px;height:21.28px"><div class="cb" style="top:4.54px"></div><div class="c" style="left:41.300px">TO023198</div><div class="c" style="left:133.200px">1746</div><div class="c" style="left:440.600px;max-width:142px;overflow:hidden">Cazacu Axinte</div></div>
<div class="r g" style="top:485.25px;height:21.28px"><div class="cb" style="top:4.54px"></div><div class="c" style="left:41.300px">TO023199</div><div class="c" style="left:133.200px">1036</div><div class="c" style="left:440.600px;max-width:142px;overflow:hidden">Lopu Frantisek</div></div>
<div class="r" style="top:506.53px;height:21.28px"><div class="cb" style="top:4.54px"></div><div class="c" style="left:41.300px">TO023200</div><div class="c" style="left:133.200px">1026</div><div class="c" style="left:440.600px;max-width:142px;overflow:hidden">Holczmann Peter</div></div>
<div class="r g" style="top:527.81px;height:21.28px"><div class="cb" style="top:4.54px"></div><div class="c" style="left:41.300px">TO023202</div><div class="c" style="left:133.200px">1085</div><div class="c" style="left:440.600px;max-width:142px;overflow:hidden">Klacko Dusan</div></div>
<div class="r" style="top:549.09px;height:21.28px"><div class="cb" style="top:4.54px"></div><div class="c" style="left:41.300px">TO023203</div><div class="c" style="left:133.200px">1010, 1011, 1710</div><div class="c" style="left:440.600px;max-width:142px;overflow:hidden">Vaniher Richard</div></div>
<div class="r g" style="top:570.37px;height:21.28px"><div class="cb" style="top:4.54px"></div><div class="c" style="left:41.300px">TO023204</div><div class="c" style="left:133.200px">1001</div><div class="c" style="left:440.600px;max-width:142px;overflow:hidden">Ochenatu Ionut</div></div>
<div class="r" style="top:591.65px;height:21.28px"><div class="cb" style="top:4.54px"></div><div class="c" style="left:41.300px">TO023208</div><div class="c" style="left:133.200px">1745</div><div class="c" style="left:440.600px;max-width:142px;overflow:hidden">Cazacu Axinte</div></div>
<div class="r g" style="top:612.94px;height:21.28px"><div class="cb" style="top:4.54px"></div><div class="c" style="left:41.300px">TO023210</div><div class="c" style="left:133.200px">Werkstatt</div><div class="c" style="left:440.600px;max-width:142px;overflow:hidden">Alavanja Aleksandar</div></div>
<div class="r" style="top:634.22px;height:21.28px"><div class="cb" style="top:4.54px"></div><div class="c" style="left:41.300px">TO023211</div><div class="c" style="left:133.200px">Werkstatt</div><div class="c" style="left:440.600px;max-width:142px;overflow:hidden">Bulbuc Lucian</div></div>
<div class="r g" style="top:655.50px;height:21.00px"><div class="cb" style="top:4.40px"></div><div class="c" style="left:41.300px">TO023212</div><div class="c" style="left:133.200px">Rampe Himberg</div><div class="c" style="left:440.600px;max-width:142px;overflow:hidden">Ungureanu Laurentiu-I...</div></div>
<div class="r" style="top:676.50px;height:68.75px"><div class="cb" style="top:28.28px"></div><div class="c" style="left:41.300px">TO023213</div><div class="c" style="left:133.200px">Abh. Daily; Himberg - Asten</div><div class="c" style="left:440.600px;max-width:142px;overflow:hidden">Tokarczyk Pawel</div></div>
<div class="r g" style="top:745.25px;height:20.85px"><div class="cb" style="top:4.33px"></div><div class="c" style="left:41.300px">TO023214</div><div class="c" style="left:133.200px">Cargo Partner: Werndorf - Graz</div><div class="c" style="left:440.600px;max-width:142px;overflow:hidden">Donabauer Peter</div></div>
<div class="r" style="top:766.10px;height:21.20px"><div class="cb" style="top:4.50px"></div><div class="c" style="left:41.300px">TO023215</div><div class="c" style="left:133.200px">Luksche</div><div class="c" style="left:440.600px;max-width:142px;overflow:hidden">Akdil Yusuf</div></div>
<div class="r g" style="top:787.30px;height:21.20px"><div class="cb" style="top:4.50px"></div><div class="c" style="left:41.300px">TO023221</div><div class="c" style="left:133.200px">Asten - Himberg; Zust. Daily</div><div class="c" style="left:440.600px;max-width:142px;overflow:hidden">Tokarczyk Pawel</div></div>
<div class="r" style="top:808.50px;height:60.00px"><div class="cb" style="top:23.90px"></div><div class="c" style="left:41.300px">TO023222</div><div class="c" style="left:133.200px">Leergut laden: Wien - Himberg</div><div class="c" style="left:440.600px;max-width:142px;overflow:hidden">Bulbuc Lucian</div></div>
<div class="a" style="left:582.700px;top:73.300px;width:15.300px;height:764px;background:#fafafa;border-left:1px solid #ececec"></div>
<div class="a" style="left:587.200px;top:383px;width:7.600px;height:382px;border-radius:4px;background:#c1c1c1"></div>
<div class="a" style="left:0;top:821px;width:598px;height:16px;background:#fafafa;border-top:1px solid #ececec"></div>
<div class="a" style="left:3px;top:825.500px;width:332px;height:7.400px;border-radius:4px;background:#c1c1c1"></div>
<div class="a" style="left:0;top:73.300px;width:582.700px;height:21.700px;background:#f5f6f9"></div>
<div class="cb" style="top:79.200px"></div>
<div class="t" style="left:41.3px;top:77.300px;font-size:12.700px;font-weight:700;color:#1f2937">Tourrefere...</div>
<div class="t" style="left:133.2px;top:77.300px;font-size:12.700px;font-weight:700;color:#1f2937">Tourbeschreibung</div>
<div class="t" style="left:440.6px;top:77.300px;font-size:12.700px;font-weight:700;color:#1f2937">Fahrer</div>
<svg style="left:555.500px;top:78px" width="15" height="13" viewBox="0 0 15 13"><path d="M0 3h15M0 10h15" stroke="#374151" stroke-width="1.300"/><circle cx="10.200" cy="3" r="2.100" fill="#374151"/><circle cx="4.800" cy="10" r="2.100" fill="#374151"/></svg>
<div class="a" style="left:0;top:20.600px;width:598px;height:52.700px;background:#fff;border-bottom:1px solid #dcdfe4"></div>
<div class="a" style="left:.200px;top:33.200px;width:48.800px;height:26.600px;border-radius:4px;background:#5b8ba8"></div>
<div class="t" style="left:11.800px;top:39.400px;font-size:14.200px;font-weight:700;color:#fff">Neu</div>
<div class="a" style="left:53px;top:37px;width:34.800px;height:18.800px;border-radius:4px;background:#dde1e6"></div>
<svg style="left:63.400px;top:41.200px" width="14" height="11" viewBox="0 0 14 11"><rect x=".700" y=".700" width="12.600" height="9.600" rx="1" fill="none" stroke="#1f2937" stroke-width="1.400"/><path d="M.700 4h12.600M.700 7.200h12.600M4.800 2v8.400M9.200 2v8.400" stroke="#1f2937" stroke-width="1.100"/><rect x=".700" y=".700" width="12.600" height="2" fill="#1f2937"/></svg>
<div class="a" style="left:216.400px;top:20.400px;width:214.300px;height:53.400px;border:1px solid #dde1e6;background:#fff"></div>
<div class="a" style="left:401.200px;top:20.400px;width:1px;height:53px;background:#dde1e6"></div>
<svg style="left:226.800px;top:40.400px" width="15" height="14" viewBox="0 0 15 14"><circle cx="5.800" cy="5.600" r="4.700" fill="none" stroke="#374151" stroke-width="1.500"/><path d="M9.200 9l4.600 4.200" stroke="#374151" stroke-width="1.700" stroke-linecap="round"/></svg>
<div class="a" style="left:249.100px;top:21px;width:103.800px;height:22.700px;border-radius:3.500px;background:#e7eaee"></div>
<div class="a" style="left:249.100px;top:21px;width:27.900px;height:22.700px;border-radius:3.500px 0 0 3.500px;background:#5b8ba8"></div>
<svg style="left:257px;top:27px" width="12" height="12" viewBox="0 0 12 12"><path d="M.400.400h11.200L7.200 5.800v5.400L4.800 9.600V5.800z" fill="#fff"/></svg>
<div class="t" style="left:285.600px;top:26px;font-size:13.500px;color:#374151">Heute</div>
<svg style="left:332.600px;top:28.400px" width="9" height="9" viewBox="0 0 9 9"><path d="M.800.800l7.400 7.400M8.200.800L.800 8.200" stroke="#4b5563" stroke-width="1.900"/></svg>
<div class="t" style="left:253.500px;top:54.300px;font-size:14px;color:#b9c2cc">Suchen ...</div>
<svg style="left:412px;top:46px" width="8" height="5" viewBox="0 0 8 5"><path d="M0 0h8L4 4.600z" fill="#374151"/></svg>
<div class="t" style="left:447.400px;top:40px;font-size:13.600px;color:#374151">1-58 / 58</div>
<div class="a" style="left:510.400px;top:36.400px;width:87.600px;height:20.600px;border-radius:4px;background:#f0f1f3"></div>
<div class="a" style="left:553.400px;top:36.400px;width:1px;height:20.600px;background:#fff"></div>
<svg style="left:528px;top:41.400px" width="7" height="10" viewBox="0 0 7 10"><path d="M5.600.800L1.200 5l4.400 4.200" fill="none" stroke="#6b7280" stroke-width="1.200"/></svg>
<svg style="left:572px;top:41.400px" width="7" height="10" viewBox="0 0 7 10"><path d="M1.400.800L5.800 5 1.400 9.200" fill="none" stroke="#6b7280" stroke-width="1.200"/></svg>
<div class="ptabs" style="left:0;top:0;width:598px;height:20.600px"></div>
<div class="ptab" style="left:.300px;top:1.400px;width:73.500px;height:19.200px"></div>
<div class="t" style="left:11.300px;top:6px;font-size:12px;color:#757575">Touren</div>
<svg style="left:57px;top:7px" width="10" height="10" viewBox="0 0 10 10"><path d="M.600.600l8.800 8.800M9.400.600L.600 9.400" stroke="#1a1a1a" stroke-width="1"/></svg>
<svg style="left:546px;top:5px" width="9" height="9" viewBox="0 0 9 9"><path d="M2.600 2.600V.500h6v6H6.400" fill="none" stroke="#8a8a8a" stroke-width="1"/><rect x=".500" y="2.600" width="5.900" height="5.900" fill="none" stroke="#8a8a8a" stroke-width="1"/></svg><svg style="left:564px;top:5px" width="9" height="9" viewBox="0 0 9 9"><rect x=".500" y=".500" width="8" height="8" fill="none" stroke="#8a8a8a" stroke-width="1"/><path d="M.500 1.200h8" stroke="#8a8a8a" stroke-width="1.400"/></svg><svg style="left:582px;top:5px" width="9" height="9" viewBox="0 0 9 9"><path d="M.400.400l8.200 8.200M8.600.400L.400 8.600" stroke="#8a8a8a" stroke-width="1"/></svg>
</div>
<div class="a" style="left:688px;top:132px;width:5px;height:837px;background:#ebebeb"></div>
<!-- ===== map panel ===== -->
<style>
#mp{left:693px;top:132px;width:1227px;height:416px;background:#f2f2f2;overflow:hidden}
#mapc{left:0;top:20px;width:1227px;height:396px;overflow:hidden;background:#faf4d7}
.ml{position:absolute;height:21.500px;border-radius:2.500px;font-size:12.300px;background:rgba(62,81,102,.940);color:#fff;font-weight:700;line-height:23.200px;text-align:center;white-space:nowrap;overflow:hidden;box-shadow:0 1px 3px rgba(0,0,0,.35)}
.mk{position:absolute;width:30px;height:30px;border-radius:50%;background:#1098d8;box-shadow:0 1.500px 2.500px rgba(0,0,0,.3)}
.mk:before{content:"";position:absolute;left:11px;top:-.500px;border:4px solid transparent;border-top:4.300px solid #2f4d6b;border-bottom:none}
.sh{position:absolute;height:10.500px;border-radius:2px;background:#16167c;border:1px solid #eef;color:#fff;font-size:9.200px;line-height:8.800px;text-align:center;box-shadow:1.500px 2px 0 rgba(120,110,90,.45);letter-spacing:-.300px}
</style>
<div class="a" id="mp">
<div class="ptab" style="left:.500px;top:1.400px;width:93px;height:19.200px;background:#ececec;border-color:#dcdcdc"></div>
<div class="t" style="left:10.500px;top:6px;font-size:12.400px;color:#757575">Transports</div>
<svg style="left:76.500px;top:7px" width="10" height="10" viewBox="0 0 10 10"><path d="M.600.600l8.800 8.800M9.400.600L.600 9.400" stroke="#9a9a9a" stroke-width="1"/></svg>
<div class="ptab" style="left:96px;top:1.400px;width:67.500px;height:19.200px"></div>
<div class="t" style="left:106.500px;top:6px;font-size:12.400px;color:#757575">Karte</div>
<svg style="left:144px;top:7px" width="10" height="10" viewBox="0 0 10 10"><path d="M.600.600l8.800 8.800M9.400.600L.600 9.400" stroke="#1a1a1a" stroke-width="1"/></svg>
<svg style="left:1174.500px;top:5px" width="9" height="9" viewBox="0 0 9 9"><path d="M2.600 2.600V.500h6v6H6.400" fill="none" stroke="#8a8a8a" stroke-width="1"/><rect x=".500" y="2.600" width="5.900" height="5.900" fill="none" stroke="#8a8a8a" stroke-width="1"/></svg><svg style="left:1192.500px;top:5px" width="9" height="9" viewBox="0 0 9 9"><rect x=".500" y=".500" width="8" height="8" fill="none" stroke="#8a8a8a" stroke-width="1"/><path d="M.500 1.200h8" stroke="#8a8a8a" stroke-width="1.400"/></svg><svg style="left:1210.500px;top:5px" width="9" height="9" viewBox="0 0 9 9"><path d="M.400.400l8.200 8.200M8.600.400L.400 8.600" stroke="#8a8a8a" stroke-width="1"/></svg>
<div class="a" id="mapc">
<svg style="left:0;top:0" width="1227" height="396" viewBox="693 152 1227 396">
<defs>
<filter id="rg" x="-5%" y="-5%" width="110%" height="110%"><feTurbulence type="fractalNoise" baseFrequency="0.09" numOctaves="3" seed="7" result="n"/><feDisplacementMap in="SourceGraphic" in2="n" scale="16" xChannelSelector="R" yChannelSelector="G"/></filter>
<filter id="rgh" x="-5%" y="-5%" width="110%" height="110%" color-interpolation-filters="sRGB"><feTurbulence type="fractalNoise" baseFrequency="0.09" numOctaves="3" seed="7" result="n"/><feDisplacementMap in="SourceGraphic" in2="n" scale="16" xChannelSelector="R" yChannelSelector="G" result="d"/><feTurbulence type="fractalNoise" baseFrequency="0.055" numOctaves="3" seed="23" result="n2"/><feColorMatrix in="n2" type="matrix" values="0 0 0 0 0 0 0 0 0 0 0 0 0 0 0 14 0 0 0 -5.150" result="m"/><feComposite in="d" in2="m" operator="in"/></filter>
<filter id="rg2" x="-5%" y="-5%" width="110%" height="110%"><feTurbulence type="fractalNoise" baseFrequency="0.05" numOctaves="2" seed="3" result="n"/><feDisplacementMap in="SourceGraphic" in2="n" scale="14" xChannelSelector="R" yChannelSelector="G"/></filter>
</defs>
<rect x="693" y="152" width="1227" height="396" fill="#faf4d7"/>
<g fill="#faeacc" filter="url(#rg2)">
<polygon points="1003.0,152.0 1623.0,152.0 1623.0,300.0 1560.0,330.0 1490.0,352.0 1430.0,352.0 1330.0,352.0 1313.0,330.0 1290.0,352.0 1240.0,345.0 1200.0,335.0 1150.0,300.0 1081.4,308.9 1064.9,304.7 1029.8,280.0 1003.0,275.8"/>
<polygon points="914.0,203.0 965.0,203.0 985.0,240.0 970.0,267.0 930.0,262.0 914.0,240.0"/>
<polygon points="736.0,294.0 775.0,294.0 775.0,338.0 760.0,352.0 736.0,352.0"/>
<polygon points="805.0,412.0 840.0,418.0 864.0,430.0 880.0,405.0 925.0,398.0 960.0,403.0 1003.0,412.0 1003.0,494.0 960.0,499.0 920.0,494.0 888.0,492.0 878.0,507.0 826.0,498.0 808.0,482.0 762.0,482.0 746.0,494.0 734.0,466.0 718.0,453.0 734.0,441.0 761.0,449.0 780.0,478.0 800.0,474.0 792.0,420.0"/>
<polygon points="750.0,498.0 790.0,511.0 826.0,515.0 818.0,550.0 734.0,550.0 738.0,515.0"/>
<polygon points="1110.0,515.0 1131.0,511.0 1131.0,550.0 1106.0,550.0"/>
<polygon points="1590.0,490.0 1623.0,494.0 1623.0,515.0 1585.0,502.0"/>
<polygon points="1321.0,498.0 1354.0,507.0 1367.0,519.0 1375.0,548.0 1313.0,550.0 1313.0,507.0"/>
<polygon points="1375.0,507.0 1404.0,494.0 1441.0,484.0 1462.0,482.0 1466.0,494.0 1499.0,503.0 1519.0,507.0 1495.0,515.0 1457.0,521.0 1437.0,536.0 1396.0,536.0 1381.0,527.0"/>
<polygon points="1445.0,362.0 1462.0,362.0 1466.0,391.0 1449.0,389.0"/>
<polygon points="1511.0,350.0 1554.0,350.0 1540.0,368.0 1519.0,372.0"/>
<polygon points="1610.0,172.0 1639.0,175.0 1643.0,206.0 1622.0,214.0 1610.0,212.0"/>
<polygon points="1657.0,170.0 1680.0,172.0 1678.0,189.0 1659.0,187.0"/>
<polygon points="1610.0,220.0 1631.0,222.0 1631.0,241.0 1610.0,243.0"/>
<polygon points="1725.0,437.0 1775.0,433.0 1792.0,453.0 1759.0,466.0 1725.0,457.0"/>
<polygon points="1709.0,484.0 1759.0,494.0 1754.0,507.0 1709.0,499.0"/>
<polygon points="1843.0,437.0 1876.0,433.0 1880.0,459.0 1851.0,457.0"/>
<polygon points="1792.0,494.0 1829.0,499.0 1816.0,511.0 1792.0,507.0"/>
<polygon points="1640.0,470.0 1680.0,470.0 1680.0,500.0 1650.0,520.0 1625.0,505.0"/>
</g>
<g fill="#faeacc" filter="url(#rg)">
<polygon points="1003.0,152.0 1015.0,152.0 1012.0,200.0 1003.0,203.0"/>
<polygon points="1118.0,152.0 1263.0,152.0 1263.0,180.0 1230.0,193.0 1200.0,186.0 1170.0,172.0 1140.0,172.0 1120.0,168.0"/>
<polygon points="1027.0,179.0 1061.0,181.0 1058.0,215.0 1043.0,230.0 1029.0,222.0"/>
<polygon points="1003.0,152.0 1030.0,152.0 1018.0,175.0 1012.0,200.0 1003.0,205.0"/>
<polygon points="1162.0,210.0 1180.0,214.0 1209.0,222.0 1205.0,245.0 1170.0,243.0"/>
<polygon points="1003.0,232.0 1020.0,250.0 1052.0,285.0 1080.0,300.0 1060.0,300.0 1030.0,280.0 1003.0,262.0"/>
<polygon points="1060.0,240.0 1085.0,245.0 1100.0,275.0 1120.0,300.0 1100.0,300.0 1075.0,280.0"/>
<polygon points="1185.0,268.0 1209.0,266.0 1207.0,298.0 1187.0,296.0"/>
<polygon points="1216.0,246.0 1240.0,244.0 1240.0,280.0 1220.0,278.0"/>
<polygon points="1259.0,284.0 1277.0,282.0 1277.0,304.0 1257.0,304.0"/>
<polygon points="1285.0,152.0 1313.0,152.0 1313.0,215.0 1295.0,215.0 1280.0,190.0"/>
<polygon points="1295.0,225.0 1313.0,225.0 1313.0,260.0 1298.0,255.0"/>
<polygon points="1140.0,310.0 1170.0,300.0 1190.0,320.0 1160.0,335.0"/>
<polygon points="1313.0,152.0 1404.0,152.0 1395.0,166.0 1377.0,172.0 1372.0,187.0 1362.0,200.0 1335.0,203.0 1325.0,212.0 1313.0,218.0"/>
<polygon points="1340.0,205.0 1372.0,190.0 1395.0,192.0 1410.0,195.0 1436.0,197.0 1440.0,215.0 1445.0,232.0 1432.0,247.0 1420.0,262.0 1405.0,284.0 1393.0,300.0 1390.0,312.0 1368.0,322.0 1350.0,316.0 1344.0,296.0 1325.0,278.0 1333.0,251.0 1340.0,222.0"/>
<polygon points="1313.0,222.0 1335.0,224.0 1330.0,250.0 1322.0,278.0 1342.0,296.0 1313.0,298.0"/>
<polygon points="1313.0,327.0 1350.0,318.0 1368.0,324.0 1394.0,312.0 1400.0,300.0 1420.0,275.0 1440.0,258.0 1460.0,268.0 1485.0,260.0 1490.0,240.0 1475.0,240.0 1500.0,220.0 1521.0,215.0 1524.0,235.0 1540.0,256.0 1542.0,276.0 1525.0,296.0 1524.0,333.0 1490.0,336.0 1485.0,352.0 1313.0,352.0"/>
<polygon points="1452.0,200.0 1492.0,205.0 1494.0,222.0 1470.0,237.0 1452.0,233.0 1446.0,215.0"/>
<polygon points="1500.0,195.0 1521.0,192.0 1521.0,214.0 1500.0,218.0"/>
<polygon points="1528.0,170.0 1560.0,183.0 1585.0,190.0 1600.0,214.0 1623.0,220.0 1623.0,240.0 1590.0,235.0 1570.0,215.0 1545.0,215.0 1530.0,200.0"/>
<polygon points="1548.0,262.0 1580.0,270.0 1600.0,290.0 1623.0,297.0 1623.0,352.0 1528.0,352.0 1530.0,318.0 1528.0,300.0 1545.0,284.0"/>
<polygon points="1530.0,215.0 1545.0,220.0 1550.0,250.0 1538.0,248.0 1530.0,235.0"/>
<polygon points="1560.0,225.0 1590.0,240.0 1585.0,262.0 1560.0,255.0"/>
<polygon points="1598.0,250.0 1623.0,255.0 1623.0,285.0 1600.0,280.0"/>
<polygon points="1588.0,156.0 1623.0,152.0 1623.0,160.0 1600.0,170.0 1590.0,185.0 1585.0,172.0"/>
<polygon points="1462.0,170.0 1480.0,168.0 1482.0,186.0 1466.0,188.0"/>
<polygon points="1335.0,350.0 1520.0,350.0 1510.0,385.0 1495.0,397.0 1470.0,400.0 1455.0,392.0 1440.0,388.0 1415.0,390.0 1400.0,402.0 1385.0,392.0 1360.0,380.0 1345.0,365.0"/>
<polygon points="1348.0,354.0 1381.0,356.0 1385.0,377.0 1360.5,377.0"/>
<polygon points="1395.6,352.0 1416.0,356.0 1412.0,372.7 1397.6,372.7"/>
<polygon points="1420.0,356.0 1445.0,352.0 1447.0,377.0 1422.4,387.0 1412.0,385.0"/>
<polygon points="1484.0,352.0 1509.0,352.0 1507.0,385.0 1494.6,397.5 1486.4,374.8"/>
<polygon points="1466.0,405.0 1481.0,404.0 1479.0,416.0 1468.0,416.0"/>
<polygon points="1452.0,411.0 1462.0,413.0 1462.0,425.0 1451.0,424.0"/>
<polygon points="1554.5,403.7 1589.6,397.5 1597.8,409.9 1571.0,420.2 1554.5,418.1"/>
<polygon points="1556.5,350.0 1610.0,350.0 1587.5,370.6 1560.7,370.6"/>
<polygon points="1527.7,506.9 1560.7,494.5 1589.6,482.1 1602.0,465.6 1623.0,465.6 1623.0,550.0 1498.8,550.0 1494.6,525.4 1482.2,525.4 1457.5,535.8 1455.4,521.3 1482.2,515.1 1498.8,511.0"/>
<polygon points="1484.0,482.0 1499.0,484.0 1497.0,496.0 1486.0,494.0"/>
<polygon points="1360.0,536.0 1379.0,532.0 1379.0,550.0 1354.0,550.0"/>
<polygon points="1416.0,540.0 1445.0,536.0 1457.0,550.0 1416.0,550.0"/>
<polygon points="1317.0,387.0 1335.0,403.0 1354.0,412.0 1395.0,404.0 1392.0,400.0 1354.0,408.0 1338.0,399.0 1321.0,385.0"/>
<polygon points="1623.0,152.0 1697.0,152.0 1700.0,172.0 1706.0,190.0 1716.0,214.0 1714.0,222.0 1693.0,247.0 1672.0,238.0 1651.0,230.0 1631.0,222.0 1623.0,220.0"/>
<polygon points="1725.6,156.0 1738.0,160.3 1746.2,203.6 1742.1,220.1 1721.5,220.1 1717.3,199.5 1727.6,189.2"/>
<polygon points="1610.0,243.0 1672.0,243.0 1688.0,268.0 1684.0,284.0 1641.0,286.0 1623.0,300.0 1610.0,317.0"/>
<polygon points="1610.0,317.0 1651.0,296.0 1693.0,300.0 1721.0,305.0 1721.0,352.0 1610.0,352.0"/>
<polygon points="1733.0,291.0 1767.0,289.0 1797.0,297.0 1822.0,311.0 1850.0,314.0 1880.0,317.0 1920.0,321.0 1920.0,333.0 1880.0,331.0 1850.0,329.0 1816.0,327.0 1783.0,315.0 1754.0,308.0 1733.0,305.0"/>
<polygon points="1829.0,187.0 1845.0,187.0 1843.0,199.0 1831.0,197.0"/>
<polygon points="1820.0,210.0 1841.0,208.0 1845.0,228.0 1825.0,224.0"/>
<polygon points="1847.0,239.0 1858.0,239.0 1856.0,259.0 1847.0,255.0"/>
<polygon points="1860.0,204.0 1878.0,204.0 1880.0,222.0 1864.0,220.0"/>
<polygon points="1907.0,189.0 1920.0,189.0 1920.0,220.0 1907.0,214.0"/>
<polygon points="1856.0,320.0 1920.0,325.0 1920.0,352.0 1850.0,352.0"/>
<polygon points="1610.0,350.0 1672.0,350.0 1668.0,387.0 1639.0,391.0 1610.0,387.0"/>
<polygon points="1738.0,422.0 1796.0,418.0 1808.0,404.0 1833.0,375.0 1850.0,365.0 1880.0,380.0 1920.0,395.0 1920.0,550.0 1610.0,550.0 1610.0,474.0 1635.0,482.0 1684.0,478.0 1697.0,466.0 1701.0,433.0 1717.0,437.0"/>
<polygon points="1735.0,350.0 1760.0,350.0 1765.0,372.0 1740.0,375.0"/>
<polygon points="1862.0,350.0 1920.0,350.0 1920.0,395.0 1884.0,383.0 1866.0,372.0"/>
</g>
<g fill="#c5dfba" filter="url(#rg)">
<polygon points="847.8,178.8 878.8,178.8 880.0,213.9 862.0,213.9 850.0,200.0"/>
<polygon points="798.0,224.0 812.0,222.0 817.0,240.0 810.0,249.0 800.0,245.0"/>
<polygon points="742.5,238.7 765.0,238.7 765.0,255.0 745.0,255.0"/>
<polygon points="769.0,236.6 780.0,236.6 784.0,267.6 774.0,266.0 770.0,250.0"/>
<polygon points="765.0,288.0 778.0,290.0 782.0,323.0 770.0,323.0"/>
<polygon points="736.0,323.0 761.0,330.0 761.0,352.0 738.0,352.0"/>
<polygon points="920.0,193.0 940.0,198.0 960.0,205.0 1003.0,215.0 1003.0,296.0 985.0,290.0 965.0,262.0 985.0,240.0 975.0,215.0 950.0,215.0 930.0,205.0"/>
<polygon points="720.0,152.0 745.0,152.0 745.0,160.0 722.0,160.0"/>
<polygon points="753.0,154.0 773.0,154.0 773.0,164.0 755.0,164.0"/>
<polygon points="740.0,185.0 758.0,187.0 758.0,201.0 742.0,201.0"/>
<polygon points="734.0,205.0 755.0,207.0 752.0,218.0 736.0,218.0"/>
<polygon points="808.6,174.7 831.3,176.0 831.3,191.2 812.0,189.0"/>
<polygon points="940.0,152.0 1003.0,152.0 1003.0,185.0 975.0,175.0 960.0,190.0 945.0,180.0"/>
<polygon points="781.5,415.9 799.8,436.9 829.3,446.1 861.1,441.5 895.2,446.1 927.0,427.6 956.4,434.6 965.6,399.8 972.3,399.8 974.6,425.3 990.5,423.0 990.5,446.1 967.8,453.0 970.1,471.5 940.5,466.9 922.3,457.6 897.4,457.6 899.7,476.1 883.8,490.0 881.5,515.4 863.4,506.2 836.1,494.6 818.0,501.5 799.8,476.1 790.7,453.0"/>
<polygon points="693.0,399.5 711.6,397.5 709.5,418.1 701.3,432.6 713.6,449.1 705.4,473.8 693.0,473.8"/>
<polygon points="734.3,383.0 755.0,376.8 757.0,403.7 748.7,401.6 742.5,391.3"/>
<polygon points="763.2,405.7 773.5,411.9 779.7,440.8 783.8,473.8 777.6,473.8 771.4,436.7 763.2,418.1"/>
<polygon points="800.3,384.0 818.9,383.0 825.1,395.4 808.6,401.6 800.3,395.4"/>
<polygon points="841.6,418.1 862.2,420.2 866.4,438.8 837.5,440.8 833.4,432.6"/>
<polygon points="870.5,531.6 899.4,535.8 899.4,550.0 868.4,550.0"/>
<polygon points="951.0,540.0 1003.0,536.0 1003.0,550.0 949.0,550.0"/>
<polygon points="712.0,356.0 730.0,352.0 728.0,362.0 714.0,366.0"/>
<polygon points="700.0,492.0 720.0,488.0 716.0,530.0 698.0,520.0"/>
<polygon points="1029.8,465.6 1044.3,461.5 1040.2,482.1 1029.8,494.5"/>
<polygon points="1140.0,455.0 1158.0,448.0 1156.0,456.0 1142.0,466.0"/>
</g>
<g fill="#c5dfba" filter="url(#rgh)">
<polygon points="1003.0,152.0 1015.0,152.0 1012.0,200.0 1003.0,203.0"/>
<polygon points="1118.0,152.0 1263.0,152.0 1263.0,180.0 1230.0,193.0 1200.0,186.0 1170.0,172.0 1140.0,172.0 1120.0,168.0"/>
<polygon points="1027.0,179.0 1061.0,181.0 1058.0,215.0 1043.0,230.0 1029.0,222.0"/>
<polygon points="1003.0,152.0 1030.0,152.0 1018.0,175.0 1012.0,200.0 1003.0,205.0"/>
<polygon points="1162.0,210.0 1180.0,214.0 1209.0,222.0 1205.0,245.0 1170.0,243.0"/>
<polygon points="1003.0,232.0 1020.0,250.0 1052.0,285.0 1080.0,300.0 1060.0,300.0 1030.0,280.0 1003.0,262.0"/>
<polygon points="1060.0,240.0 1085.0,245.0 1100.0,275.0 1120.0,300.0 1100.0,300.0 1075.0,280.0"/>
<polygon points="1185.0,268.0 1209.0,266.0 1207.0,298.0 1187.0,296.0"/>
<polygon points="1216.0,246.0 1240.0,244.0 1240.0,280.0 1220.0,278.0"/>
<polygon points="1259.0,284.0 1277.0,282.0 1277.0,304.0 1257.0,304.0"/>
<polygon points="1285.0,152.0 1313.0,152.0 1313.0,215.0 1295.0,215.0 1280.0,190.0"/>
<polygon points="1295.0,225.0 1313.0,225.0 1313.0,260.0 1298.0,255.0"/>
<polygon points="1140.0,310.0 1170.0,300.0 1190.0,320.0 1160.0,335.0"/>
<polygon points="1313.0,152.0 1404.0,152.0 1395.0,166.0 1377.0,172.0 1372.0,187.0 1362.0,200.0 1335.0,203.0 1325.0,212.0 1313.0,218.0"/>
<polygon points="1340.0,205.0 1372.0,190.0 1395.0,192.0 1410.0,195.0 1436.0,197.0 1440.0,215.0 1445.0,232.0 1432.0,247.0 1420.0,262.0 1405.0,284.0 1393.0,300.0 1390.0,312.0 1368.0,322.0 1350.0,316.0 1344.0,296.0 1325.0,278.0 1333.0,251.0 1340.0,222.0"/>
<polygon points="1313.0,222.0 1335.0,224.0 1330.0,250.0 1322.0,278.0 1342.0,296.0 1313.0,298.0"/>
<polygon points="1313.0,327.0 1350.0,318.0 1368.0,324.0 1394.0,312.0 1400.0,300.0 1420.0,275.0 1440.0,258.0 1460.0,268.0 1485.0,260.0 1490.0,240.0 1475.0,240.0 1500.0,220.0 1521.0,215.0 1524.0,235.0 1540.0,256.0 1542.0,276.0 1525.0,296.0 1524.0,333.0 1490.0,336.0 1485.0,352.0 1313.0,352.0"/>
<polygon points="1452.0,200.0 1492.0,205.0 1494.0,222.0 1470.0,237.0 1452.0,233.0 1446.0,215.0"/>
<polygon points="1500.0,195.0 1521.0,192.0 1521.0,214.0 1500.0,218.0"/>
<polygon points="1528.0,170.0 1560.0,183.0 1585.0,190.0 1600.0,214.0 1623.0,220.0 1623.0,240.0 1590.0,235.0 1570.0,215.0 1545.0,215.0 1530.0,200.0"/>
<polygon points="1548.0,262.0 1580.0,270.0 1600.0,290.0 1623.0,297.0 1623.0,352.0 1528.0,352.0 1530.0,318.0 1528.0,300.0 1545.0,284.0"/>
<polygon points="1530.0,215.0 1545.0,220.0 1550.0,250.0 1538.0,248.0 1530.0,235.0"/>
<polygon points="1560.0,225.0 1590.0,240.0 1585.0,262.0 1560.0,255.0"/>
<polygon points="1598.0,250.0 1623.0,255.0 1623.0,285.0 1600.0,280.0"/>
<polygon points="1588.0,156.0 1623.0,152.0 1623.0,160.0 1600.0,170.0 1590.0,185.0 1585.0,172.0"/>
<polygon points="1462.0,170.0 1480.0,168.0 1482.0,186.0 1466.0,188.0"/>
<polygon points="1335.0,350.0 1520.0,350.0 1510.0,385.0 1495.0,397.0 1470.0,400.0 1455.0,392.0 1440.0,388.0 1415.0,390.0 1400.0,402.0 1385.0,392.0 1360.0,380.0 1345.0,365.0"/>
<polygon points="1348.0,354.0 1381.0,356.0 1385.0,377.0 1360.5,377.0"/>
<polygon points="1395.6,352.0 1416.0,356.0 1412.0,372.7 1397.6,372.7"/>
<polygon points="1420.0,356.0 1445.0,352.0 1447.0,377.0 1422.4,387.0 1412.0,385.0"/>
<polygon points="1484.0,352.0 1509.0,352.0 1507.0,385.0 1494.6,397.5 1486.4,374.8"/>
<polygon points="1466.0,405.0 1481.0,404.0 1479.0,416.0 1468.0,416.0"/>
<polygon points="1452.0,411.0 1462.0,413.0 1462.0,425.0 1451.0,424.0"/>
<polygon points="1554.5,403.7 1589.6,397.5 1597.8,409.9 1571.0,420.2 1554.5,418.1"/>
<polygon points="1556.5,350.0 1610.0,350.0 1587.5,370.6 1560.7,370.6"/>
<polygon points="1527.7,506.9 1560.7,494.5 1589.6,482.1 1602.0,465.6 1623.0,465.6 1623.0,550.0 1498.8,550.0 1494.6,525.4 1482.2,525.4 1457.5,535.8 1455.4,521.3 1482.2,515.1 1498.8,511.0"/>
<polygon points="1484.0,482.0 1499.0,484.0 1497.0,496.0 1486.0,494.0"/>
<polygon points="1360.0,536.0 1379.0,532.0 1379.0,550.0 1354.0,550.0"/>
<polygon points="1416.0,540.0 1445.0,536.0 1457.0,550.0 1416.0,550.0"/>
<polygon points="1317.0,387.0 1335.0,403.0 1354.0,412.0 1395.0,404.0 1392.0,400.0 1354.0,408.0 1338.0,399.0 1321.0,385.0"/>
<polygon points="1623.0,152.0 1697.0,152.0 1700.0,172.0 1706.0,190.0 1716.0,214.0 1714.0,222.0 1693.0,247.0 1672.0,238.0 1651.0,230.0 1631.0,222.0 1623.0,220.0"/>
<polygon points="1725.6,156.0 1738.0,160.3 1746.2,203.6 1742.1,220.1 1721.5,220.1 1717.3,199.5 1727.6,189.2"/>
<polygon points="1610.0,243.0 1672.0,243.0 1688.0,268.0 1684.0,284.0 1641.0,286.0 1623.0,300.0 1610.0,317.0"/>
<polygon points="1610.0,317.0 1651.0,296.0 1693.0,300.0 1721.0,305.0 1721.0,352.0 1610.0,352.0"/>
<polygon points="1733.0,291.0 1767.0,289.0 1797.0,297.0 1822.0,311.0 1850.0,314.0 1880.0,317.0 1920.0,321.0 1920.0,333.0 1880.0,331.0 1850.0,329.0 1816.0,327.0 1783.0,315.0 1754.0,308.0 1733.0,305.0"/>
<polygon points="1829.0,187.0 1845.0,187.0 1843.0,199.0 1831.0,197.0"/>
<polygon points="1820.0,210.0 1841.0,208.0 1845.0,228.0 1825.0,224.0"/>
<polygon points="1847.0,239.0 1858.0,239.0 1856.0,259.0 1847.0,255.0"/>
<polygon points="1860.0,204.0 1878.0,204.0 1880.0,222.0 1864.0,220.0"/>
<polygon points="1907.0,189.0 1920.0,189.0 1920.0,220.0 1907.0,214.0"/>
<polygon points="1856.0,320.0 1920.0,325.0 1920.0,352.0 1850.0,352.0"/>
<polygon points="1610.0,350.0 1672.0,350.0 1668.0,387.0 1639.0,391.0 1610.0,387.0"/>
<polygon points="1738.0,422.0 1796.0,418.0 1808.0,404.0 1833.0,375.0 1850.0,365.0 1880.0,380.0 1920.0,395.0 1920.0,550.0 1610.0,550.0 1610.0,474.0 1635.0,482.0 1684.0,478.0 1697.0,466.0 1701.0,433.0 1717.0,437.0"/>
<polygon points="1735.0,350.0 1760.0,350.0 1765.0,372.0 1740.0,375.0"/>
<polygon points="1862.0,350.0 1920.0,350.0 1920.0,395.0 1884.0,383.0 1866.0,372.0"/>
<polygon points="1054.6,529.6 1095.9,525.4 1126.8,531.6 1126.8,550.0 1050.5,550.0"/>
<polygon points="1153.7,523.4 1188.8,511.0 1192.9,550.0 1147.5,550.0"/>
<polygon points="1234.2,515.1 1277.5,502.7 1313.0,515.1 1313.0,550.0 1234.2,550.0"/>
<polygon points="1003.0,502.7 1023.6,498.6 1025.7,515.1 1003.0,525.4"/>
</g>
<g fill="#b4d0ea">
<polygon points="771.0,512.0 789.0,513.0 777.0,520.0 769.0,528.0 765.0,534.0 763.0,531.0 767.0,522.0"/>
<polygon points="936.0,542.0 950.0,537.0 947.0,550.0 934.0,550.0"/>
</g>
<g fill="none" stroke="#a3c6e6" stroke-width="1.300">
<path d="M693.0 160.0C697.9 159.6 710.6 155.3 720.0 158.0C729.4 160.7 736.0 171.4 745.0 175.0C754.0 178.6 760.1 178.9 770.0 178.0C779.9 177.1 793.2 173.2 800.0 170.0C806.8 166.8 806.6 161.8 808.0 160.0"/>
<path d="M1495.0 395.0C1499.5 395.9 1511.9 400.5 1520.0 400.0C1528.1 399.5 1532.8 393.8 1540.0 392.0C1547.2 390.2 1551.0 391.8 1560.0 390.0C1569.0 388.2 1581.0 384.2 1590.0 382.0C1599.0 379.8 1606.4 378.7 1610.0 378.0"/>
<path d="M1733.0 300.0C1737.9 299.6 1749.7 296.9 1760.0 298.0C1770.3 299.1 1780.1 302.2 1790.0 306.0C1799.9 309.8 1805.1 316.3 1815.0 319.0C1824.9 321.7 1835.1 320.5 1845.0 321.0C1854.9 321.5 1860.1 322.5 1870.0 322.0C1879.9 321.5 1891.0 318.4 1900.0 318.0C1909.0 317.6 1916.4 319.6 1920.0 320.0"/>
<path d="M1335.0 420.0C1336.8 418.9 1340.5 415.4 1345.0 414.0C1349.5 412.6 1351.0 413.8 1360.0 412.0C1369.0 410.2 1388.7 405.4 1395.0 404.0"/>
<path d="M800.0 380.0C799.3 382.7 795.6 389.6 796.0 395.0C796.4 400.4 798.6 405.5 802.0 410.0C805.4 414.5 810.0 416.0 815.0 420.0C820.0 424.0 826.4 428.0 830.0 432.0C833.6 436.0 834.1 440.2 835.0 442.0"/>
<path d="M1150.0 240.0C1149.5 244.0 1148.8 254.8 1147.0 262.0C1145.2 269.2 1141.6 273.2 1140.0 280.0C1138.4 286.8 1138.4 296.4 1138.0 300.0"/>
<path d="M1210.0 230.0C1208.2 233.6 1203.6 243.2 1200.0 250.0C1196.4 256.8 1194.5 262.6 1190.0 268.0C1185.5 273.4 1177.7 277.8 1175.0 280.0"/>
</g>
<g fill="none" stroke="#b79aa4" stroke-width=".900">
<path d="M1035.0 152.0C1034.1 155.2 1033.6 164.1 1030.0 170.0C1026.4 175.9 1019.0 178.7 1015.0 185.0C1011.0 191.3 1010.2 199.6 1008.0 205.0C1005.8 210.4 1003.9 213.2 1003.0 215.0"/>
<path d="M1122.0 175.0C1125.2 176.3 1132.3 180.4 1140.0 182.0C1147.7 183.6 1156.0 182.6 1165.0 184.0C1174.0 185.4 1181.0 187.1 1190.0 190.0C1199.0 192.9 1208.7 197.3 1215.0 200.0C1221.3 202.7 1220.5 207.3 1225.0 205.0C1229.5 202.7 1233.3 192.4 1240.0 187.0C1246.7 181.6 1257.5 179.9 1262.0 175.0C1266.5 170.1 1264.5 162.7 1265.0 160.0"/>
<path d="M1313.0 165.0C1315.2 165.9 1320.1 165.9 1325.0 170.0C1329.9 174.1 1334.6 184.4 1340.0 188.0C1345.4 191.6 1351.0 192.3 1355.0 190.0C1359.0 187.7 1361.1 181.8 1362.0 175.0C1362.9 168.2 1360.4 156.1 1360.0 152.0"/>
<path d="M1368.0 205.0C1371.1 204.1 1378.3 199.1 1385.0 200.0C1391.7 200.9 1398.7 206.8 1405.0 210.0C1411.3 213.2 1415.0 214.8 1420.0 218.0C1425.0 221.2 1432.1 224.0 1433.0 228.0C1433.9 232.0 1427.3 234.6 1425.0 240.0C1422.7 245.4 1418.7 252.6 1420.0 258.0C1421.3 263.4 1427.7 265.7 1432.0 270.0C1436.3 274.3 1443.3 277.9 1444.0 282.0C1444.7 286.1 1434.9 289.8 1436.0 293.0C1437.1 296.2 1447.8 293.3 1450.0 300.0C1452.2 306.7 1446.6 323.9 1448.0 330.0C1449.4 336.1 1455.8 330.0 1458.0 334.0C1460.2 338.0 1459.6 345.2 1460.0 352.0C1460.4 358.8 1461.4 365.5 1460.0 372.0C1458.6 378.5 1454.2 384.0 1452.0 388.0C1449.8 392.0 1448.7 392.9 1448.0 394.0"/>
<path d="M693.0 507.0C696.1 503.9 703.7 493.1 710.0 490.0C716.3 486.9 720.8 490.7 728.0 490.0C735.2 489.3 743.9 484.2 750.0 486.0C756.1 487.8 757.5 495.7 762.0 500.0C766.5 504.3 770.0 507.8 775.0 510.0C780.0 512.2 786.4 510.2 790.0 512.0C793.6 513.8 790.5 519.3 795.0 520.0C799.5 520.7 809.1 518.7 815.0 516.0C820.9 513.3 822.6 507.3 828.0 505.0C833.4 502.7 841.9 503.4 845.0 503.0"/>
<path d="M693.0 395.0C697.0 394.5 707.4 394.7 715.0 392.0C722.6 389.3 727.8 383.6 735.0 380.0C742.2 376.4 746.9 375.6 755.0 372.0C763.1 368.4 772.8 363.6 780.0 360.0C787.2 356.4 792.3 353.4 795.0 352.0"/>
</g>
<g fill="#dedbd6">
<ellipse cx="893" cy="198" rx="8" ry="4"/>
<ellipse cx="1258" cy="396" rx="10" ry="5"/>
<ellipse cx="1108" cy="416" rx="9" ry="5"/>
<ellipse cx="1720" cy="284" rx="5" ry="3"/>
<ellipse cx="1288" cy="228" rx="3" ry="6"/>
<ellipse cx="1836" cy="325" rx="6" ry="3"/>
<ellipse cx="1256" cy="478" rx="6" ry="3"/>
<ellipse cx="1515" cy="432" rx="4" ry="3"/>
<ellipse cx="748" cy="368" rx="5" ry="3"/>
</g>
<g fill="none" stroke="#f3a971" stroke-width="3.300" stroke-linejoin="round" stroke-linecap="round">
<path d="M794.1 152.0C796.7 153.9 803.0 158.6 808.6 162.3C814.2 166.0 819.9 170.7 825.1 172.6C830.3 174.5 832.3 171.7 837.5 172.6C842.7 173.5 848.1 176.3 854.0 177.8C859.9 179.3 866.0 179.6 870.5 180.9C875.0 182.2 875.8 183.1 878.8 185.0C881.8 186.9 881.8 189.9 887.0 191.2C892.2 192.5 901.8 193.3 907.7 192.2C913.6 191.1 915.9 185.5 920.0 185.0C924.1 184.5 926.3 186.6 930.4 189.2C934.5 191.8 938.3 198.2 942.7 199.5C947.1 200.8 950.6 195.7 955.1 196.4C959.6 197.1 962.7 200.1 967.5 203.6C972.3 207.1 975.6 211.5 982.0 216.0C988.4 220.5 999.2 226.2 1003.0 228.4"/>
<path d="M969.6 196.4C971.8 195.8 976.0 194.4 982.0 193.3C988.0 192.2 999.2 190.8 1003.0 190.2"/>
<path d="M885.0 152.0C885.4 154.2 887.0 159.9 887.0 164.4C887.0 168.9 884.6 172.2 885.0 176.8C885.4 181.4 888.4 187.8 889.1 190.2"/>
<path d="M909.7 152.0C909.3 155.0 907.9 161.4 907.7 168.5C907.5 175.6 908.5 187.1 908.7 191.2"/>
<path d="M907.7 199.5C908.1 202.8 909.0 211.7 909.7 218.0C910.4 224.3 913.3 229.4 911.8 234.6C910.3 239.8 904.8 243.2 901.5 246.9C898.2 250.6 894.7 253.7 893.2 255.2"/>
<path d="M882.9 209.8C884.0 212.0 886.0 218.7 889.0 222.2C892.0 225.7 899.0 226.1 899.4 229.4C899.8 232.7 892.6 236.5 891.1 240.8C889.6 245.1 893.7 248.1 891.1 253.1C888.5 258.1 879.3 265.8 876.7 268.6"/>
<path d="M693.0 274.8C695.2 275.0 701.3 274.9 705.4 275.8C709.5 276.7 712.4 280.9 715.7 280.0C719.0 279.1 719.9 272.9 724.0 270.7C728.1 268.5 734.0 268.9 738.4 267.6C742.8 266.3 745.0 263.9 748.7 263.5C752.4 263.1 755.3 264.0 759.0 265.5C762.7 267.0 764.6 270.6 769.4 271.7C774.2 272.8 780.3 270.8 785.9 271.7C791.5 272.6 794.7 275.2 800.3 276.9C805.9 278.6 810.8 280.3 816.8 281.0C822.8 281.7 827.8 281.9 833.4 281.0C839.0 280.1 843.4 276.9 847.8 275.8C852.2 274.7 856.2 275.0 858.1 274.8"/>
<path d="M893.2 255.2C894.7 257.4 898.2 261.7 901.5 267.6C904.8 273.5 907.0 282.3 911.8 288.2C916.6 294.1 923.9 296.1 928.3 300.6C932.7 305.1 932.0 308.5 936.5 313.0C941.0 317.5 947.9 322.1 953.1 325.4C958.3 328.7 962.4 328.3 965.4 331.6C968.4 334.9 967.0 340.7 969.6 344.0C972.2 347.3 973.9 347.9 979.9 350.1C985.9 352.3 997.0 353.6 1003.0 356.2C1009.0 358.8 1011.1 360.3 1013.3 364.4C1015.5 368.5 1012.4 375.9 1015.4 378.9C1018.4 381.9 1027.2 380.6 1029.8 381.0"/>
<path d="M763.2 352.0C766.2 350.4 773.4 345.3 779.7 342.9C786.0 340.5 795.0 339.5 798.3 338.8"/>
<path d="M837.5 352.0C840.8 350.2 850.4 346.3 856.0 341.9C861.6 337.5 863.6 333.3 868.4 327.4C873.2 321.5 878.8 315.2 882.9 308.9C887.0 302.6 889.6 295.3 891.1 292.3"/>
<path d="M837.5 300.6C839.4 298.7 844.1 293.1 847.8 290.3C851.5 287.5 856.2 286.0 858.1 285.1"/>
<path d="M693.0 373.7C695.2 375.0 700.6 379.5 705.4 381.0C710.2 382.5 714.6 383.3 719.8 382.0C725.0 380.7 731.3 376.5 734.3 373.7C737.3 370.9 733.3 369.1 736.3 366.5C739.3 363.9 745.2 362.3 750.8 359.3C756.4 356.3 765.1 351.3 767.3 350.0C769.5 348.7 763.9 351.6 763.2 352.0"/>
<path d="M744.6 376.8C747.6 375.3 755.5 369.7 761.1 368.6C766.7 367.5 770.4 370.4 775.6 370.6C780.8 370.8 785.2 369.4 790.0 369.6C794.8 369.8 797.9 371.7 802.4 371.7C806.9 371.7 810.7 370.9 814.8 369.6C818.9 368.3 822.5 366.4 825.1 364.4C827.7 362.4 825.5 360.9 829.2 358.3C832.9 355.7 844.2 351.1 845.7 350.0C847.2 348.9 839.0 351.6 837.5 352.0"/>
<path d="M825.1 364.4C826.2 366.3 827.6 371.1 831.3 374.8C835.0 378.5 840.5 382.5 845.7 385.1C850.9 387.7 855.7 387.2 860.2 389.2C864.7 391.2 865.7 395.5 870.5 396.4C875.3 397.3 880.7 394.8 887.0 394.4C893.3 394.0 901.1 395.7 905.6 394.4C910.1 393.1 909.2 388.1 911.8 387.2C914.4 386.3 915.6 386.6 920.0 389.2C924.4 391.8 931.7 399.2 936.5 401.6C941.3 404.0 942.8 403.2 946.9 402.6C951.0 402.0 953.0 399.8 959.3 398.5C965.6 397.2 976.4 397.1 982.0 395.4C987.6 393.7 986.4 391.1 990.2 389.2C994.0 387.3 998.5 386.6 1003.0 385.1C1007.5 383.6 1010.6 381.7 1015.4 381.0C1020.2 380.3 1024.6 379.7 1029.8 381.0C1035.0 382.3 1034.6 387.1 1044.3 388.2C1054.0 389.3 1075.3 389.3 1083.5 387.2C1091.7 385.1 1087.1 381.6 1089.7 376.8C1092.3 372.0 1095.8 365.1 1098.0 360.3C1100.2 355.5 1101.0 354.1 1102.1 350.0C1103.2 345.9 1104.1 342.6 1104.1 337.8C1104.1 333.0 1104.0 329.3 1102.1 323.3C1100.2 317.3 1097.5 309.2 1093.8 304.7C1090.1 300.2 1086.6 301.5 1081.4 298.5C1076.2 295.5 1069.7 291.9 1064.9 288.2C1060.1 284.5 1058.3 281.2 1054.6 277.9C1050.9 274.6 1048.8 273.7 1044.3 269.6C1039.8 265.5 1035.0 259.6 1029.8 255.2C1024.6 250.8 1020.2 249.0 1015.4 244.9C1010.6 240.8 1005.2 234.7 1003.0 232.5"/>
<path d="M911.8 387.2C913.3 385.7 917.8 381.5 920.0 378.9C922.2 376.3 923.4 373.8 924.2 372.7"/>
<path d="M744.6 376.8C745.0 379.4 744.5 386.5 746.7 391.3C748.9 396.1 755.9 398.5 757.0 403.7C758.1 408.9 755.5 415.4 752.9 420.2C750.3 425.0 745.8 425.3 742.5 430.5C739.2 435.7 736.5 441.3 734.3 449.1C732.1 456.9 730.8 467.1 730.2 473.8C729.6 480.5 732.3 481.7 731.2 486.2C730.1 490.7 726.4 491.5 724.0 498.6C721.6 505.7 717.4 516.1 717.8 525.4C718.2 534.7 724.5 545.6 726.0 550.0"/>
<path d="M734.3 373.7 L744.6 376.8"/>
<path d="M818.9 550.0C820.0 544.8 821.0 528.3 825.1 521.3C829.2 514.3 835.3 513.2 841.6 511.0C847.9 508.8 854.6 508.5 860.2 508.9C865.8 509.3 867.4 512.0 872.6 513.1C877.8 514.2 878.0 516.6 889.1 515.1C900.2 513.6 922.2 505.9 934.5 504.8C946.8 503.7 948.7 509.3 957.2 508.9C965.8 508.5 973.8 504.2 982.0 502.7C990.2 501.2 995.5 501.4 1003.0 500.7C1010.5 500.0 1019.9 499.0 1023.6 498.6"/>
<path d="M959.3 508.9 L957.2 531.6"/>
<path d="M984.0 504.8C985.5 508.5 988.9 520.2 992.3 525.4C995.7 530.6 1000.0 530.7 1003.0 533.7C1006.0 536.7 1005.5 539.8 1009.2 542.0C1012.9 544.2 1019.1 547.6 1023.6 546.1C1028.1 544.6 1032.1 538.2 1034.0 533.7C1035.9 529.2 1035.9 525.8 1034.0 521.3C1032.1 516.8 1025.1 513.0 1023.6 508.9C1022.1 504.8 1026.1 504.2 1025.7 498.6C1025.3 493.0 1022.3 481.7 1021.6 478.0"/>
<path d="M693.0 529.6C694.9 530.7 699.6 533.2 703.3 535.8C707.0 538.4 711.4 541.4 713.6 544.0C715.8 546.6 715.3 548.9 715.7 550.0"/>
<path d="M973.7 350.0C977.0 350.7 987.0 352.4 992.3 354.1C997.6 355.8 1001.1 358.4 1003.0 359.3"/>
<path d="M1003.0 193.3C1004.9 192.9 1010.0 193.8 1013.3 191.2C1016.6 188.6 1017.1 181.8 1021.6 178.8C1026.1 175.8 1032.2 176.9 1038.1 174.7C1044.0 172.5 1049.0 166.8 1054.6 166.4C1060.2 166.0 1065.3 170.7 1069.0 172.6C1072.7 174.5 1070.7 175.3 1075.2 176.8C1079.7 178.3 1087.1 178.5 1093.8 180.9C1100.5 183.3 1107.2 188.0 1112.4 190.2C1117.6 192.4 1118.6 190.5 1122.7 193.3C1126.8 196.1 1130.6 202.2 1135.1 205.7C1139.6 209.2 1143.8 213.3 1147.5 212.9C1151.2 212.5 1152.0 206.0 1155.7 203.6C1159.4 201.2 1164.0 199.7 1168.1 199.5C1172.2 199.3 1173.6 200.0 1178.4 202.6C1183.2 205.2 1189.8 210.9 1195.0 213.9C1200.2 216.9 1201.7 217.4 1207.3 219.1C1212.9 220.8 1219.9 222.6 1225.9 223.2C1231.9 223.8 1235.2 222.2 1240.4 222.2C1245.6 222.2 1249.6 221.3 1254.8 223.2C1260.0 225.1 1264.5 229.7 1269.3 232.5C1274.1 235.3 1279.4 237.6 1281.6 238.7"/>
<path d="M1098.0 195.0C1098.0 199.9 1099.7 215.1 1098.0 222.2C1096.3 229.3 1089.5 230.9 1088.7 234.6C1087.9 238.3 1090.3 239.5 1093.8 242.8C1097.3 246.1 1104.2 248.6 1108.3 253.1C1112.4 257.6 1113.5 262.0 1116.5 267.6C1119.5 273.2 1121.5 278.9 1124.8 284.1C1128.1 289.3 1131.0 292.6 1135.1 296.5C1139.2 300.4 1143.0 301.7 1147.5 305.8C1152.0 309.9 1155.5 314.9 1159.9 319.2C1164.3 323.5 1167.8 326.2 1172.2 329.5C1176.6 332.8 1179.6 333.8 1184.6 337.8C1189.6 341.9 1195.6 346.9 1200.0 352.0C1204.4 357.1 1207.4 363.5 1209.0 366.0"/>
<path d="M1265.1 152.0C1266.2 155.7 1270.2 165.2 1271.3 172.6C1272.4 180.0 1270.2 186.2 1271.3 193.3C1272.4 200.4 1274.9 207.1 1277.5 211.9C1280.1 216.7 1283.2 218.2 1285.8 220.1C1288.4 222.0 1287.1 222.6 1292.0 222.2C1296.9 221.8 1307.0 220.2 1313.0 218.0C1319.0 215.8 1321.7 212.8 1325.4 209.8C1329.1 206.8 1328.8 202.8 1333.6 201.5C1338.4 200.2 1346.6 203.2 1352.2 202.6C1357.8 202.0 1360.9 201.6 1364.6 198.4C1368.3 195.2 1370.7 190.0 1372.9 185.0C1375.1 180.0 1372.9 173.9 1377.0 170.6C1381.1 167.3 1390.8 168.3 1395.6 166.4C1400.4 164.5 1401.8 162.9 1403.8 160.3C1405.8 157.7 1406.3 153.5 1406.9 152.0"/>
<path d="M1285.8 310.9C1288.4 312.0 1295.3 314.5 1300.2 317.1C1305.1 319.7 1307.3 324.3 1313.0 325.4C1318.7 326.5 1324.9 325.2 1331.6 323.3C1338.3 321.4 1343.5 315.4 1350.2 315.0C1356.9 314.6 1362.8 321.4 1368.7 321.2C1374.6 321.0 1378.6 316.2 1383.2 314.0C1387.8 311.8 1392.3 311.7 1394.5 308.9C1396.7 306.1 1393.9 302.6 1395.6 298.5C1397.3 294.4 1400.8 290.3 1403.8 286.2C1406.8 282.1 1409.1 279.9 1412.1 275.8C1415.1 271.7 1416.2 267.2 1420.3 263.5C1424.4 259.8 1431.8 258.5 1434.8 255.2C1437.8 251.9 1434.2 248.4 1436.8 244.9C1439.4 241.4 1447.3 238.6 1449.2 235.6C1451.1 232.6 1448.3 232.3 1447.2 228.4C1446.1 224.5 1443.0 217.6 1443.0 213.9C1443.0 210.2 1446.3 211.2 1447.2 207.7C1448.1 204.2 1448.0 196.7 1448.2 194.3"/>
<path d="M1285.8 315.0C1286.9 317.6 1289.8 322.8 1292.0 329.5C1294.2 336.2 1297.4 344.4 1298.1 352.0C1298.8 359.6 1299.3 367.5 1296.0 372.0C1292.7 376.5 1282.6 375.9 1279.6 376.8"/>
<path d="M1083.5 387.2C1085.0 389.4 1087.7 395.1 1091.8 399.5C1095.9 403.9 1102.1 408.6 1106.2 411.9C1110.3 415.2 1112.6 413.6 1114.5 418.1C1116.4 422.6 1116.5 431.1 1116.5 436.7C1116.5 442.3 1114.1 443.9 1114.5 449.1C1114.9 454.3 1117.5 462.3 1118.6 465.6C1119.7 468.9 1117.6 466.5 1120.6 467.6C1123.6 468.7 1130.3 469.7 1135.1 471.8C1139.9 473.9 1141.2 478.8 1147.5 479.0C1153.8 479.2 1165.0 471.5 1170.2 472.8C1175.4 474.1 1173.1 482.7 1176.4 486.2C1179.7 489.7 1182.1 492.4 1188.8 492.4C1195.5 492.4 1207.2 489.2 1213.5 486.2C1219.8 483.2 1219.0 476.6 1223.8 475.9C1228.6 475.2 1234.8 482.5 1240.4 482.1C1246.0 481.7 1250.4 474.9 1254.8 473.8C1259.2 472.7 1261.0 476.6 1265.1 475.9C1269.2 475.2 1273.4 473.0 1277.5 469.7C1281.6 466.4 1283.7 461.4 1287.8 457.3C1291.9 453.2 1295.7 449.6 1300.2 447.0C1304.7 444.4 1310.7 443.6 1313.0 442.9"/>
<path d="M1091.8 426.4C1090.3 428.6 1087.6 434.7 1083.5 438.8C1079.4 442.9 1074.9 446.5 1069.0 449.1C1063.1 451.7 1056.1 450.2 1050.5 453.2C1044.9 456.2 1043.3 461.1 1038.1 465.6C1032.9 470.1 1027.9 473.6 1021.6 478.0C1015.3 482.4 1006.3 488.1 1003.0 490.3"/>
<path d="M1213.5 486.2C1212.4 489.5 1210.3 499.6 1207.3 504.8C1204.3 510.0 1199.6 509.5 1197.0 515.1C1194.4 520.7 1194.0 529.5 1192.9 535.8C1191.8 542.1 1191.2 547.4 1190.8 550.0"/>
<path d="M1258.9 403.7C1259.7 406.7 1263.1 413.5 1263.1 420.2C1263.1 426.9 1260.4 433.4 1258.9 440.8C1257.4 448.2 1255.2 455.6 1254.8 461.5C1254.4 467.4 1257.6 468.6 1256.9 473.8C1256.2 479.0 1252.6 484.3 1250.7 490.3C1248.8 496.3 1249.5 502.8 1246.5 506.9C1243.5 511.0 1237.2 509.4 1234.2 513.1C1231.2 516.8 1229.6 522.3 1230.0 527.5C1230.4 532.7 1233.2 538.0 1236.2 542.0C1239.2 546.0 1244.6 548.6 1246.5 550.0"/>
<path d="M1246.5 378.9C1249.5 379.3 1257.1 381.4 1263.1 381.0C1269.1 380.6 1273.7 378.3 1279.6 376.8C1285.5 375.3 1290.1 374.6 1296.1 372.7C1302.1 370.8 1310.0 366.9 1313.0 366.5C1316.0 366.1 1310.8 368.4 1313.0 370.6C1315.2 372.8 1318.7 377.0 1325.4 378.9C1332.1 380.8 1343.9 379.5 1350.2 381.0C1356.5 382.5 1355.3 385.3 1360.5 387.2C1365.7 389.1 1373.1 389.4 1379.0 391.3C1384.9 393.2 1389.8 395.1 1393.5 397.5C1397.2 399.9 1397.1 404.0 1399.7 404.7C1402.3 405.4 1405.6 404.0 1408.0 401.6C1410.4 399.2 1412.2 393.2 1413.1 391.3"/>
<path d="M1114.5 418.1C1116.7 416.6 1122.4 411.9 1126.8 409.9C1131.2 407.9 1137.0 407.4 1139.2 406.8"/>
<path d="M1372.9 185.0C1375.9 186.1 1383.8 190.4 1389.4 191.2C1395.0 192.0 1398.6 189.4 1403.8 189.2C1409.0 189.0 1412.7 189.1 1418.3 190.2C1423.9 191.3 1429.2 194.6 1434.8 195.3C1440.4 196.0 1444.8 194.3 1449.2 194.3C1453.6 194.3 1456.5 194.0 1459.5 195.3C1462.5 196.6 1462.7 200.4 1465.7 201.5C1468.7 202.6 1472.4 202.2 1476.1 201.5C1479.8 200.8 1482.3 198.5 1486.4 197.4C1490.5 196.3 1494.4 196.8 1498.8 195.3C1503.2 193.8 1507.8 191.8 1511.1 189.2C1514.4 186.6 1516.0 184.6 1517.3 180.9C1518.6 177.2 1516.9 170.9 1518.4 168.5C1519.9 166.1 1524.3 167.7 1525.6 167.5"/>
<path d="M1449.2 235.6C1453.3 236.2 1466.0 239.6 1471.9 238.7C1477.8 237.8 1478.1 233.4 1482.2 230.4C1486.3 227.4 1491.6 224.8 1494.6 222.2C1497.6 219.6 1498.8 218.6 1498.8 216.0C1498.8 213.4 1494.8 211.2 1494.6 207.7C1494.4 204.2 1497.1 198.4 1497.7 196.4"/>
<path d="M1525.6 152.0C1525.6 155.0 1526.0 161.1 1525.6 168.5C1525.2 175.9 1523.9 185.1 1523.5 193.3C1523.1 201.5 1522.7 206.5 1523.5 213.9C1524.3 221.3 1525.5 228.3 1527.7 234.6C1529.9 240.9 1532.6 244.2 1535.9 249.0C1539.2 253.8 1544.7 256.6 1546.2 261.4C1547.7 266.2 1546.8 271.0 1544.2 275.8C1541.6 280.6 1535.5 283.7 1531.8 288.2C1528.1 292.7 1524.2 295.4 1523.5 300.6C1522.8 305.8 1527.3 311.0 1527.7 317.1C1528.1 323.2 1528.9 331.7 1525.6 334.7C1522.3 337.7 1515.0 333.2 1509.1 333.6C1503.2 334.0 1496.3 333.4 1492.6 336.7C1488.9 340.0 1489.9 346.6 1488.4 352.0C1486.9 357.4 1485.8 362.0 1484.3 366.5C1482.8 371.0 1479.8 372.7 1480.2 376.8C1480.6 380.9 1484.2 385.5 1486.4 389.2C1488.6 392.9 1491.9 394.5 1492.6 397.5C1493.3 400.5 1489.8 402.4 1490.5 405.7C1491.2 409.0 1493.7 413.2 1496.7 416.0C1499.7 418.8 1502.5 417.9 1507.0 421.2C1511.5 424.5 1519.6 430.0 1521.5 434.6C1523.4 439.2 1518.8 443.3 1517.3 447.0C1515.8 450.7 1513.6 449.7 1513.2 455.3C1512.8 460.9 1514.2 470.9 1515.3 478.0C1516.4 485.1 1517.5 488.2 1519.4 494.5C1521.3 500.8 1524.1 508.3 1525.6 513.1C1527.1 517.9 1528.4 518.0 1527.7 521.3C1527.0 524.6 1525.6 528.6 1521.5 531.6C1517.4 534.6 1509.8 534.5 1505.0 537.8C1500.2 541.1 1496.5 547.8 1494.6 550.0"/>
<path d="M1527.7 168.5C1528.8 169.6 1532.3 172.6 1533.8 174.7C1535.3 176.8 1531.8 178.8 1535.9 179.9C1540.0 181.0 1549.8 180.0 1556.5 180.9C1563.2 181.8 1568.3 184.1 1573.1 185.0C1577.9 185.9 1580.8 188.3 1583.4 186.1C1586.0 183.9 1584.2 175.6 1587.5 172.6C1590.8 169.6 1597.2 171.0 1602.0 169.5C1606.8 168.0 1610.5 166.3 1614.3 164.4C1618.1 162.5 1616.3 161.1 1623.0 159.2C1629.7 157.3 1639.5 155.4 1651.3 154.1C1663.1 152.8 1681.7 152.4 1688.4 152.0"/>
<path d="M1583.4 186.1C1584.5 188.9 1586.6 196.9 1589.6 201.5C1592.6 206.1 1595.8 209.3 1599.9 211.9C1604.0 214.5 1608.1 214.9 1612.3 216.0C1616.5 217.1 1619.7 217.6 1623.0 218.0C1626.3 218.4 1626.6 217.2 1630.6 218.0C1634.6 218.8 1640.3 219.6 1645.1 222.2C1649.9 224.8 1652.7 229.5 1657.5 232.5C1662.3 235.5 1668.6 235.4 1671.9 238.7C1675.2 242.0 1672.7 246.3 1676.0 251.1C1679.3 255.9 1687.5 259.6 1690.5 265.5C1693.5 271.4 1691.5 278.9 1692.6 284.1C1693.7 289.3 1693.0 291.8 1696.7 294.4C1700.4 297.0 1708.4 297.4 1713.2 298.5C1718.0 299.6 1721.6 300.2 1723.5 300.6"/>
<path d="M1623.0 304.7C1621.4 305.8 1616.6 306.8 1614.3 310.9C1612.0 315.0 1610.6 321.4 1610.2 327.4C1609.8 333.4 1612.3 339.6 1612.3 344.0C1612.3 348.4 1612.1 349.1 1610.2 352.0C1608.3 354.9 1605.7 356.2 1602.0 360.3C1598.3 364.4 1592.9 370.7 1589.6 374.8C1586.3 378.9 1587.1 380.4 1583.4 383.0C1579.7 385.6 1574.1 387.0 1568.9 389.2C1563.7 391.4 1557.1 394.3 1554.5 395.4"/>
<path d="M1589.6 374.8C1591.1 377.4 1594.1 385.1 1597.8 389.2C1601.5 393.3 1605.0 395.6 1610.2 397.5C1615.4 399.4 1621.0 399.5 1626.5 399.5C1632.0 399.5 1636.5 398.6 1641.0 397.5C1645.5 396.4 1647.2 393.3 1651.3 393.3C1655.4 393.3 1660.0 396.0 1663.7 397.5C1667.4 399.0 1670.4 400.9 1671.9 401.6"/>
<path d="M1313.0 408.8C1314.5 410.1 1318.5 412.5 1321.3 416.0C1324.1 419.5 1324.8 426.0 1328.5 428.4C1332.2 430.8 1337.3 428.9 1341.9 429.5C1346.5 430.1 1350.2 429.3 1354.3 431.5C1358.4 433.7 1362.7 439.9 1364.6 441.8"/>
<path d="M1399.7 404.7C1400.8 406.7 1403.9 412.1 1405.9 416.0C1407.9 419.9 1410.6 422.3 1411.0 426.4C1411.4 430.5 1408.2 435.7 1408.0 438.8C1407.8 441.9 1408.5 442.6 1410.0 443.9C1411.5 445.2 1413.6 446.6 1416.2 446.0C1418.8 445.4 1420.8 441.0 1424.5 440.8C1428.2 440.6 1432.4 444.5 1436.8 444.9C1441.2 445.3 1444.0 444.0 1449.2 442.9C1454.4 441.8 1460.5 440.5 1465.7 438.8C1470.9 437.1 1473.3 435.5 1478.1 433.6C1482.9 431.7 1488.1 430.8 1492.6 428.4C1497.1 426.0 1501.0 421.7 1502.9 420.2"/>
<path d="M1408.0 443.9C1405.8 446.3 1399.3 451.9 1395.6 457.3C1391.9 462.7 1389.5 467.9 1387.3 473.8C1385.1 479.7 1385.8 485.8 1383.2 490.3C1380.6 494.8 1375.7 495.6 1372.9 498.6C1370.1 501.6 1367.7 503.2 1367.7 506.9C1367.7 510.6 1370.5 515.1 1372.9 519.2C1375.3 523.3 1380.0 524.1 1381.1 529.6C1382.2 535.1 1379.4 546.3 1379.0 550.0"/>
<path d="M1711.1 152.0C1708.9 153.9 1700.7 158.6 1698.8 162.3C1696.9 166.0 1699.3 167.8 1700.8 172.6C1702.3 177.4 1705.1 183.2 1707.0 189.2C1708.9 195.2 1709.4 201.3 1711.1 205.7C1712.8 210.1 1715.5 206.6 1716.3 213.9C1717.1 221.2 1715.5 240.2 1715.3 246.0"/>
<path d="M1713.2 152.0C1715.1 153.9 1720.5 157.7 1723.5 162.3C1726.5 166.9 1724.9 173.5 1729.7 177.8C1734.5 182.1 1743.0 183.9 1750.4 186.1C1757.8 188.3 1766.9 187.8 1771.0 190.2C1775.1 192.6 1769.4 195.6 1773.1 199.5C1776.8 203.4 1785.3 207.1 1791.6 211.9C1797.9 216.7 1804.0 221.1 1808.1 226.3C1812.2 231.5 1810.6 235.6 1814.3 240.8C1818.0 246.0 1821.7 249.6 1828.8 255.2C1835.9 260.8 1845.4 266.5 1853.6 271.7C1861.8 276.9 1867.1 281.1 1874.2 284.1C1881.3 287.1 1889.5 287.5 1892.8 288.2"/>
<path d="M1717.3 246.9C1714.3 248.0 1705.6 249.8 1700.8 253.1C1696.0 256.4 1692.4 263.3 1690.5 265.5"/>
<path d="M1748.3 264.5C1750.9 264.7 1758.6 264.2 1762.7 265.5C1766.8 266.8 1768.9 268.9 1771.0 271.7C1773.1 274.5 1773.5 279.3 1774.1 281.0"/>
<path d="M1610.0 350.0C1610.4 346.3 1609.8 337.3 1612.0 329.5C1614.2 321.7 1620.5 311.6 1622.4 306.8C1624.3 302.0 1619.4 306.0 1622.4 302.7C1625.4 299.4 1634.4 291.5 1638.9 288.2C1643.4 284.9 1644.2 283.0 1647.2 284.1C1650.2 285.2 1651.0 293.3 1655.4 294.4C1659.8 295.5 1666.7 292.2 1671.9 290.3C1677.1 288.4 1678.7 284.8 1684.3 284.1C1689.9 283.4 1697.0 286.6 1702.9 286.2C1708.8 285.8 1712.1 282.4 1717.3 282.0C1722.5 281.6 1729.2 283.7 1731.8 284.1"/>
<path d="M1849.4 152.0C1850.9 154.2 1856.6 158.8 1857.7 164.4C1858.8 170.0 1856.7 177.4 1855.6 183.0C1854.5 188.6 1851.1 189.7 1851.5 195.3C1851.9 200.9 1855.1 206.8 1857.7 213.9C1860.3 221.0 1865.9 227.2 1865.9 234.6C1865.9 242.0 1860.3 248.5 1857.7 255.2C1855.1 261.9 1853.2 265.0 1851.5 271.7C1849.8 278.4 1848.6 284.9 1848.4 292.3C1848.2 299.7 1852.6 307.4 1850.5 313.0C1848.4 318.6 1839.8 318.8 1837.0 323.3C1834.2 327.8 1836.5 332.6 1835.0 337.8C1833.5 343.0 1830.7 348.3 1828.8 352.0C1826.9 355.7 1828.4 356.1 1824.7 358.3C1821.0 360.5 1812.6 361.1 1808.1 364.4C1803.6 367.7 1802.1 372.0 1799.9 376.8C1797.7 381.6 1797.7 386.5 1795.8 391.3C1793.9 396.1 1791.5 399.6 1789.6 403.7C1787.7 407.8 1786.2 412.1 1785.4 414.0"/>
<path d="M1865.9 234.6C1868.5 237.2 1876.3 243.1 1880.4 249.0C1884.5 254.9 1886.4 260.5 1888.6 267.6C1890.8 274.7 1892.0 284.5 1892.8 288.2"/>
<path d="M1851.5 195.3C1854.5 195.5 1863.2 197.5 1868.0 196.4C1872.8 195.3 1870.5 190.9 1878.3 189.2C1886.1 187.5 1903.9 187.1 1911.4 187.1C1918.9 187.1 1918.5 188.8 1920.0 189.2"/>
<path d="M1837.0 323.3C1838.9 325.9 1844.8 332.6 1847.4 337.8C1850.0 343.0 1850.0 347.6 1851.5 352.0C1853.0 356.4 1853.0 359.1 1855.6 362.4C1858.2 365.7 1860.7 367.3 1865.9 370.6C1871.1 373.9 1881.2 379.1 1884.5 381.0"/>
<path d="M1687.4 432.6C1686.5 435.6 1683.3 443.2 1682.2 449.1C1681.1 455.0 1680.4 460.0 1681.2 465.6C1682.0 471.2 1686.2 474.8 1686.4 480.0C1686.6 485.2 1684.4 490.0 1682.2 494.5C1680.0 499.0 1676.2 500.0 1674.0 504.8C1671.8 509.6 1672.9 516.5 1669.9 521.3C1666.9 526.1 1662.0 528.3 1657.5 531.6C1653.0 534.9 1650.7 537.3 1645.1 539.9C1639.5 542.5 1629.8 545.0 1626.5 546.1"/>
<path d="M1686.4 480.0C1689.4 480.4 1696.6 482.1 1702.9 482.1C1709.2 482.1 1714.4 478.9 1721.5 480.0C1728.6 481.1 1733.9 486.4 1742.1 488.3C1750.3 490.2 1758.7 489.6 1766.9 490.3C1775.1 491.0 1779.3 491.6 1787.5 492.4C1795.7 493.2 1804.1 493.0 1812.3 494.5C1820.5 496.0 1827.7 497.4 1832.9 500.7C1838.1 504.0 1837.5 510.1 1841.2 513.1C1844.9 516.1 1849.5 514.2 1853.6 517.2C1857.7 520.2 1860.9 524.1 1863.9 529.6C1866.9 535.1 1868.9 544.7 1870.0 548.0"/>
</g>
<g fill="none" stroke="#f8bd8c" stroke-width="1.500" stroke-linejoin="round" stroke-linecap="round">
<path d="M794.1 152.0C796.7 153.9 803.0 158.6 808.6 162.3C814.2 166.0 819.9 170.7 825.1 172.6C830.3 174.5 832.3 171.7 837.5 172.6C842.7 173.5 848.1 176.3 854.0 177.8C859.9 179.3 866.0 179.6 870.5 180.9C875.0 182.2 875.8 183.1 878.8 185.0C881.8 186.9 881.8 189.9 887.0 191.2C892.2 192.5 901.8 193.3 907.7 192.2C913.6 191.1 915.9 185.5 920.0 185.0C924.1 184.5 926.3 186.6 930.4 189.2C934.5 191.8 938.3 198.2 942.7 199.5C947.1 200.8 950.6 195.7 955.1 196.4C959.6 197.1 962.7 200.1 967.5 203.6C972.3 207.1 975.6 211.5 982.0 216.0C988.4 220.5 999.2 226.2 1003.0 228.4"/>
<path d="M969.6 196.4C971.8 195.8 976.0 194.4 982.0 193.3C988.0 192.2 999.2 190.8 1003.0 190.2"/>
<path d="M885.0 152.0C885.4 154.2 887.0 159.9 887.0 164.4C887.0 168.9 884.6 172.2 885.0 176.8C885.4 181.4 888.4 187.8 889.1 190.2"/>
<path d="M909.7 152.0C909.3 155.0 907.9 161.4 907.7 168.5C907.5 175.6 908.5 187.1 908.7 191.2"/>
<path d="M907.7 199.5C908.1 202.8 909.0 211.7 909.7 218.0C910.4 224.3 913.3 229.4 911.8 234.6C910.3 239.8 904.8 243.2 901.5 246.9C898.2 250.6 894.7 253.7 893.2 255.2"/>
<path d="M882.9 209.8C884.0 212.0 886.0 218.7 889.0 222.2C892.0 225.7 899.0 226.1 899.4 229.4C899.8 232.7 892.6 236.5 891.1 240.8C889.6 245.1 893.7 248.1 891.1 253.1C888.5 258.1 879.3 265.8 876.7 268.6"/>
<path d="M693.0 274.8C695.2 275.0 701.3 274.9 705.4 275.8C709.5 276.7 712.4 280.9 715.7 280.0C719.0 279.1 719.9 272.9 724.0 270.7C728.1 268.5 734.0 268.9 738.4 267.6C742.8 266.3 745.0 263.9 748.7 263.5C752.4 263.1 755.3 264.0 759.0 265.5C762.7 267.0 764.6 270.6 769.4 271.7C774.2 272.8 780.3 270.8 785.9 271.7C791.5 272.6 794.7 275.2 800.3 276.9C805.9 278.6 810.8 280.3 816.8 281.0C822.8 281.7 827.8 281.9 833.4 281.0C839.0 280.1 843.4 276.9 847.8 275.8C852.2 274.7 856.2 275.0 858.1 274.8"/>
<path d="M893.2 255.2C894.7 257.4 898.2 261.7 901.5 267.6C904.8 273.5 907.0 282.3 911.8 288.2C916.6 294.1 923.9 296.1 928.3 300.6C932.7 305.1 932.0 308.5 936.5 313.0C941.0 317.5 947.9 322.1 953.1 325.4C958.3 328.7 962.4 328.3 965.4 331.6C968.4 334.9 967.0 340.7 969.6 344.0C972.2 347.3 973.9 347.9 979.9 350.1C985.9 352.3 997.0 353.6 1003.0 356.2C1009.0 358.8 1011.1 360.3 1013.3 364.4C1015.5 368.5 1012.4 375.9 1015.4 378.9C1018.4 381.9 1027.2 380.6 1029.8 381.0"/>
<path d="M763.2 352.0C766.2 350.4 773.4 345.3 779.7 342.9C786.0 340.5 795.0 339.5 798.3 338.8"/>
<path d="M837.5 352.0C840.8 350.2 850.4 346.3 856.0 341.9C861.6 337.5 863.6 333.3 868.4 327.4C873.2 321.5 878.8 315.2 882.9 308.9C887.0 302.6 889.6 295.3 891.1 292.3"/>
<path d="M837.5 300.6C839.4 298.7 844.1 293.1 847.8 290.3C851.5 287.5 856.2 286.0 858.1 285.1"/>
<path d="M693.0 373.7C695.2 375.0 700.6 379.5 705.4 381.0C710.2 382.5 714.6 383.3 719.8 382.0C725.0 380.7 731.3 376.5 734.3 373.7C737.3 370.9 733.3 369.1 736.3 366.5C739.3 363.9 745.2 362.3 750.8 359.3C756.4 356.3 765.1 351.3 767.3 350.0C769.5 348.7 763.9 351.6 763.2 352.0"/>
<path d="M744.6 376.8C747.6 375.3 755.5 369.7 761.1 368.6C766.7 367.5 770.4 370.4 775.6 370.6C780.8 370.8 785.2 369.4 790.0 369.6C794.8 369.8 797.9 371.7 802.4 371.7C806.9 371.7 810.7 370.9 814.8 369.6C818.9 368.3 822.5 366.4 825.1 364.4C827.7 362.4 825.5 360.9 829.2 358.3C832.9 355.7 844.2 351.1 845.7 350.0C847.2 348.9 839.0 351.6 837.5 352.0"/>
<path d="M825.1 364.4C826.2 366.3 827.6 371.1 831.3 374.8C835.0 378.5 840.5 382.5 845.7 385.1C850.9 387.7 855.7 387.2 860.2 389.2C864.7 391.2 865.7 395.5 870.5 396.4C875.3 397.3 880.7 394.8 887.0 394.4C893.3 394.0 901.1 395.7 905.6 394.4C910.1 393.1 909.2 388.1 911.8 387.2C914.4 386.3 915.6 386.6 920.0 389.2C924.4 391.8 931.7 399.2 936.5 401.6C941.3 404.0 942.8 403.2 946.9 402.6C951.0 402.0 953.0 399.8 959.3 398.5C965.6 397.2 976.4 397.1 982.0 395.4C987.6 393.7 986.4 391.1 990.2 389.2C994.0 387.3 998.5 386.6 1003.0 385.1C1007.5 383.6 1010.6 381.7 1015.4 381.0C1020.2 380.3 1024.6 379.7 1029.8 381.0C1035.0 382.3 1034.6 387.1 1044.3 388.2C1054.0 389.3 1075.3 389.3 1083.5 387.2C1091.7 385.1 1087.1 381.6 1089.7 376.8C1092.3 372.0 1095.8 365.1 1098.0 360.3C1100.2 355.5 1101.0 354.1 1102.1 350.0C1103.2 345.9 1104.1 342.6 1104.1 337.8C1104.1 333.0 1104.0 329.3 1102.1 323.3C1100.2 317.3 1097.5 309.2 1093.8 304.7C1090.1 300.2 1086.6 301.5 1081.4 298.5C1076.2 295.5 1069.7 291.9 1064.9 288.2C1060.1 284.5 1058.3 281.2 1054.6 277.9C1050.9 274.6 1048.8 273.7 1044.3 269.6C1039.8 265.5 1035.0 259.6 1029.8 255.2C1024.6 250.8 1020.2 249.0 1015.4 244.9C1010.6 240.8 1005.2 234.7 1003.0 232.5"/>
<path d="M911.8 387.2C913.3 385.7 917.8 381.5 920.0 378.9C922.2 376.3 923.4 373.8 924.2 372.7"/>
<path d="M744.6 376.8C745.0 379.4 744.5 386.5 746.7 391.3C748.9 396.1 755.9 398.5 757.0 403.7C758.1 408.9 755.5 415.4 752.9 420.2C750.3 425.0 745.8 425.3 742.5 430.5C739.2 435.7 736.5 441.3 734.3 449.1C732.1 456.9 730.8 467.1 730.2 473.8C729.6 480.5 732.3 481.7 731.2 486.2C730.1 490.7 726.4 491.5 724.0 498.6C721.6 505.7 717.4 516.1 717.8 525.4C718.2 534.7 724.5 545.6 726.0 550.0"/>
<path d="M734.3 373.7 L744.6 376.8"/>
<path d="M818.9 550.0C820.0 544.8 821.0 528.3 825.1 521.3C829.2 514.3 835.3 513.2 841.6 511.0C847.9 508.8 854.6 508.5 860.2 508.9C865.8 509.3 867.4 512.0 872.6 513.1C877.8 514.2 878.0 516.6 889.1 515.1C900.2 513.6 922.2 505.9 934.5 504.8C946.8 503.7 948.7 509.3 957.2 508.9C965.8 508.5 973.8 504.2 982.0 502.7C990.2 501.2 995.5 501.4 1003.0 500.7C1010.5 500.0 1019.9 499.0 1023.6 498.6"/>
<path d="M959.3 508.9 L957.2 531.6"/>
<path d="M984.0 504.8C985.5 508.5 988.9 520.2 992.3 525.4C995.7 530.6 1000.0 530.7 1003.0 533.7C1006.0 536.7 1005.5 539.8 1009.2 542.0C1012.9 544.2 1019.1 547.6 1023.6 546.1C1028.1 544.6 1032.1 538.2 1034.0 533.7C1035.9 529.2 1035.9 525.8 1034.0 521.3C1032.1 516.8 1025.1 513.0 1023.6 508.9C1022.1 504.8 1026.1 504.2 1025.7 498.6C1025.3 493.0 1022.3 481.7 1021.6 478.0"/>
<path d="M693.0 529.6C694.9 530.7 699.6 533.2 703.3 535.8C707.0 538.4 711.4 541.4 713.6 544.0C715.8 546.6 715.3 548.9 715.7 550.0"/>
<path d="M973.7 350.0C977.0 350.7 987.0 352.4 992.3 354.1C997.6 355.8 1001.1 358.4 1003.0 359.3"/>
<path d="M1003.0 193.3C1004.9 192.9 1010.0 193.8 1013.3 191.2C1016.6 188.6 1017.1 181.8 1021.6 178.8C1026.1 175.8 1032.2 176.9 1038.1 174.7C1044.0 172.5 1049.0 166.8 1054.6 166.4C1060.2 166.0 1065.3 170.7 1069.0 172.6C1072.7 174.5 1070.7 175.3 1075.2 176.8C1079.7 178.3 1087.1 178.5 1093.8 180.9C1100.5 183.3 1107.2 188.0 1112.4 190.2C1117.6 192.4 1118.6 190.5 1122.7 193.3C1126.8 196.1 1130.6 202.2 1135.1 205.7C1139.6 209.2 1143.8 213.3 1147.5 212.9C1151.2 212.5 1152.0 206.0 1155.7 203.6C1159.4 201.2 1164.0 199.7 1168.1 199.5C1172.2 199.3 1173.6 200.0 1178.4 202.6C1183.2 205.2 1189.8 210.9 1195.0 213.9C1200.2 216.9 1201.7 217.4 1207.3 219.1C1212.9 220.8 1219.9 222.6 1225.9 223.2C1231.9 223.8 1235.2 222.2 1240.4 222.2C1245.6 222.2 1249.6 221.3 1254.8 223.2C1260.0 225.1 1264.5 229.7 1269.3 232.5C1274.1 235.3 1279.4 237.6 1281.6 238.7"/>
<path d="M1098.0 195.0C1098.0 199.9 1099.7 215.1 1098.0 222.2C1096.3 229.3 1089.5 230.9 1088.7 234.6C1087.9 238.3 1090.3 239.5 1093.8 242.8C1097.3 246.1 1104.2 248.6 1108.3 253.1C1112.4 257.6 1113.5 262.0 1116.5 267.6C1119.5 273.2 1121.5 278.9 1124.8 284.1C1128.1 289.3 1131.0 292.6 1135.1 296.5C1139.2 300.4 1143.0 301.7 1147.5 305.8C1152.0 309.9 1155.5 314.9 1159.9 319.2C1164.3 323.5 1167.8 326.2 1172.2 329.5C1176.6 332.8 1179.6 333.8 1184.6 337.8C1189.6 341.9 1195.6 346.9 1200.0 352.0C1204.4 357.1 1207.4 363.5 1209.0 366.0"/>
<path d="M1265.1 152.0C1266.2 155.7 1270.2 165.2 1271.3 172.6C1272.4 180.0 1270.2 186.2 1271.3 193.3C1272.4 200.4 1274.9 207.1 1277.5 211.9C1280.1 216.7 1283.2 218.2 1285.8 220.1C1288.4 222.0 1287.1 222.6 1292.0 222.2C1296.9 221.8 1307.0 220.2 1313.0 218.0C1319.0 215.8 1321.7 212.8 1325.4 209.8C1329.1 206.8 1328.8 202.8 1333.6 201.5C1338.4 200.2 1346.6 203.2 1352.2 202.6C1357.8 202.0 1360.9 201.6 1364.6 198.4C1368.3 195.2 1370.7 190.0 1372.9 185.0C1375.1 180.0 1372.9 173.9 1377.0 170.6C1381.1 167.3 1390.8 168.3 1395.6 166.4C1400.4 164.5 1401.8 162.9 1403.8 160.3C1405.8 157.7 1406.3 153.5 1406.9 152.0"/>
<path d="M1285.8 310.9C1288.4 312.0 1295.3 314.5 1300.2 317.1C1305.1 319.7 1307.3 324.3 1313.0 325.4C1318.7 326.5 1324.9 325.2 1331.6 323.3C1338.3 321.4 1343.5 315.4 1350.2 315.0C1356.9 314.6 1362.8 321.4 1368.7 321.2C1374.6 321.0 1378.6 316.2 1383.2 314.0C1387.8 311.8 1392.3 311.7 1394.5 308.9C1396.7 306.1 1393.9 302.6 1395.6 298.5C1397.3 294.4 1400.8 290.3 1403.8 286.2C1406.8 282.1 1409.1 279.9 1412.1 275.8C1415.1 271.7 1416.2 267.2 1420.3 263.5C1424.4 259.8 1431.8 258.5 1434.8 255.2C1437.8 251.9 1434.2 248.4 1436.8 244.9C1439.4 241.4 1447.3 238.6 1449.2 235.6C1451.1 232.6 1448.3 232.3 1447.2 228.4C1446.1 224.5 1443.0 217.6 1443.0 213.9C1443.0 210.2 1446.3 211.2 1447.2 207.7C1448.1 204.2 1448.0 196.7 1448.2 194.3"/>
<path d="M1285.8 315.0C1286.9 317.6 1289.8 322.8 1292.0 329.5C1294.2 336.2 1297.4 344.4 1298.1 352.0C1298.8 359.6 1299.3 367.5 1296.0 372.0C1292.7 376.5 1282.6 375.9 1279.6 376.8"/>
<path d="M1083.5 387.2C1085.0 389.4 1087.7 395.1 1091.8 399.5C1095.9 403.9 1102.1 408.6 1106.2 411.9C1110.3 415.2 1112.6 413.6 1114.5 418.1C1116.4 422.6 1116.5 431.1 1116.5 436.7C1116.5 442.3 1114.1 443.9 1114.5 449.1C1114.9 454.3 1117.5 462.3 1118.6 465.6C1119.7 468.9 1117.6 466.5 1120.6 467.6C1123.6 468.7 1130.3 469.7 1135.1 471.8C1139.9 473.9 1141.2 478.8 1147.5 479.0C1153.8 479.2 1165.0 471.5 1170.2 472.8C1175.4 474.1 1173.1 482.7 1176.4 486.2C1179.7 489.7 1182.1 492.4 1188.8 492.4C1195.5 492.4 1207.2 489.2 1213.5 486.2C1219.8 483.2 1219.0 476.6 1223.8 475.9C1228.6 475.2 1234.8 482.5 1240.4 482.1C1246.0 481.7 1250.4 474.9 1254.8 473.8C1259.2 472.7 1261.0 476.6 1265.1 475.9C1269.2 475.2 1273.4 473.0 1277.5 469.7C1281.6 466.4 1283.7 461.4 1287.8 457.3C1291.9 453.2 1295.7 449.6 1300.2 447.0C1304.7 444.4 1310.7 443.6 1313.0 442.9"/>
<path d="M1091.8 426.4C1090.3 428.6 1087.6 434.7 1083.5 438.8C1079.4 442.9 1074.9 446.5 1069.0 449.1C1063.1 451.7 1056.1 450.2 1050.5 453.2C1044.9 456.2 1043.3 461.1 1038.1 465.6C1032.9 470.1 1027.9 473.6 1021.6 478.0C1015.3 482.4 1006.3 488.1 1003.0 490.3"/>
<path d="M1213.5 486.2C1212.4 489.5 1210.3 499.6 1207.3 504.8C1204.3 510.0 1199.6 509.5 1197.0 515.1C1194.4 520.7 1194.0 529.5 1192.9 535.8C1191.8 542.1 1191.2 547.4 1190.8 550.0"/>
<path d="M1258.9 403.7C1259.7 406.7 1263.1 413.5 1263.1 420.2C1263.1 426.9 1260.4 433.4 1258.9 440.8C1257.4 448.2 1255.2 455.6 1254.8 461.5C1254.4 467.4 1257.6 468.6 1256.9 473.8C1256.2 479.0 1252.6 484.3 1250.7 490.3C1248.8 496.3 1249.5 502.8 1246.5 506.9C1243.5 511.0 1237.2 509.4 1234.2 513.1C1231.2 516.8 1229.6 522.3 1230.0 527.5C1230.4 532.7 1233.2 538.0 1236.2 542.0C1239.2 546.0 1244.6 548.6 1246.5 550.0"/>
<path d="M1246.5 378.9C1249.5 379.3 1257.1 381.4 1263.1 381.0C1269.1 380.6 1273.7 378.3 1279.6 376.8C1285.5 375.3 1290.1 374.6 1296.1 372.7C1302.1 370.8 1310.0 366.9 1313.0 366.5C1316.0 366.1 1310.8 368.4 1313.0 370.6C1315.2 372.8 1318.7 377.0 1325.4 378.9C1332.1 380.8 1343.9 379.5 1350.2 381.0C1356.5 382.5 1355.3 385.3 1360.5 387.2C1365.7 389.1 1373.1 389.4 1379.0 391.3C1384.9 393.2 1389.8 395.1 1393.5 397.5C1397.2 399.9 1397.1 404.0 1399.7 404.7C1402.3 405.4 1405.6 404.0 1408.0 401.6C1410.4 399.2 1412.2 393.2 1413.1 391.3"/>
<path d="M1114.5 418.1C1116.7 416.6 1122.4 411.9 1126.8 409.9C1131.2 407.9 1137.0 407.4 1139.2 406.8"/>
<path d="M1372.9 185.0C1375.9 186.1 1383.8 190.4 1389.4 191.2C1395.0 192.0 1398.6 189.4 1403.8 189.2C1409.0 189.0 1412.7 189.1 1418.3 190.2C1423.9 191.3 1429.2 194.6 1434.8 195.3C1440.4 196.0 1444.8 194.3 1449.2 194.3C1453.6 194.3 1456.5 194.0 1459.5 195.3C1462.5 196.6 1462.7 200.4 1465.7 201.5C1468.7 202.6 1472.4 202.2 1476.1 201.5C1479.8 200.8 1482.3 198.5 1486.4 197.4C1490.5 196.3 1494.4 196.8 1498.8 195.3C1503.2 193.8 1507.8 191.8 1511.1 189.2C1514.4 186.6 1516.0 184.6 1517.3 180.9C1518.6 177.2 1516.9 170.9 1518.4 168.5C1519.9 166.1 1524.3 167.7 1525.6 167.5"/>
<path d="M1449.2 235.6C1453.3 236.2 1466.0 239.6 1471.9 238.7C1477.8 237.8 1478.1 233.4 1482.2 230.4C1486.3 227.4 1491.6 224.8 1494.6 222.2C1497.6 219.6 1498.8 218.6 1498.8 216.0C1498.8 213.4 1494.8 211.2 1494.6 207.7C1494.4 204.2 1497.1 198.4 1497.7 196.4"/>
<path d="M1525.6 152.0C1525.6 155.0 1526.0 161.1 1525.6 168.5C1525.2 175.9 1523.9 185.1 1523.5 193.3C1523.1 201.5 1522.7 206.5 1523.5 213.9C1524.3 221.3 1525.5 228.3 1527.7 234.6C1529.9 240.9 1532.6 244.2 1535.9 249.0C1539.2 253.8 1544.7 256.6 1546.2 261.4C1547.7 266.2 1546.8 271.0 1544.2 275.8C1541.6 280.6 1535.5 283.7 1531.8 288.2C1528.1 292.7 1524.2 295.4 1523.5 300.6C1522.8 305.8 1527.3 311.0 1527.7 317.1C1528.1 323.2 1528.9 331.7 1525.6 334.7C1522.3 337.7 1515.0 333.2 1509.1 333.6C1503.2 334.0 1496.3 333.4 1492.6 336.7C1488.9 340.0 1489.9 346.6 1488.4 352.0C1486.9 357.4 1485.8 362.0 1484.3 366.5C1482.8 371.0 1479.8 372.7 1480.2 376.8C1480.6 380.9 1484.2 385.5 1486.4 389.2C1488.6 392.9 1491.9 394.5 1492.6 397.5C1493.3 400.5 1489.8 402.4 1490.5 405.7C1491.2 409.0 1493.7 413.2 1496.7 416.0C1499.7 418.8 1502.5 417.9 1507.0 421.2C1511.5 424.5 1519.6 430.0 1521.5 434.6C1523.4 439.2 1518.8 443.3 1517.3 447.0C1515.8 450.7 1513.6 449.7 1513.2 455.3C1512.8 460.9 1514.2 470.9 1515.3 478.0C1516.4 485.1 1517.5 488.2 1519.4 494.5C1521.3 500.8 1524.1 508.3 1525.6 513.1C1527.1 517.9 1528.4 518.0 1527.7 521.3C1527.0 524.6 1525.6 528.6 1521.5 531.6C1517.4 534.6 1509.8 534.5 1505.0 537.8C1500.2 541.1 1496.5 547.8 1494.6 550.0"/>
<path d="M1527.7 168.5C1528.8 169.6 1532.3 172.6 1533.8 174.7C1535.3 176.8 1531.8 178.8 1535.9 179.9C1540.0 181.0 1549.8 180.0 1556.5 180.9C1563.2 181.8 1568.3 184.1 1573.1 185.0C1577.9 185.9 1580.8 188.3 1583.4 186.1C1586.0 183.9 1584.2 175.6 1587.5 172.6C1590.8 169.6 1597.2 171.0 1602.0 169.5C1606.8 168.0 1610.5 166.3 1614.3 164.4C1618.1 162.5 1616.3 161.1 1623.0 159.2C1629.7 157.3 1639.5 155.4 1651.3 154.1C1663.1 152.8 1681.7 152.4 1688.4 152.0"/>
<path d="M1583.4 186.1C1584.5 188.9 1586.6 196.9 1589.6 201.5C1592.6 206.1 1595.8 209.3 1599.9 211.9C1604.0 214.5 1608.1 214.9 1612.3 216.0C1616.5 217.1 1619.7 217.6 1623.0 218.0C1626.3 218.4 1626.6 217.2 1630.6 218.0C1634.6 218.8 1640.3 219.6 1645.1 222.2C1649.9 224.8 1652.7 229.5 1657.5 232.5C1662.3 235.5 1668.6 235.4 1671.9 238.7C1675.2 242.0 1672.7 246.3 1676.0 251.1C1679.3 255.9 1687.5 259.6 1690.5 265.5C1693.5 271.4 1691.5 278.9 1692.6 284.1C1693.7 289.3 1693.0 291.8 1696.7 294.4C1700.4 297.0 1708.4 297.4 1713.2 298.5C1718.0 299.6 1721.6 300.2 1723.5 300.6"/>
<path d="M1623.0 304.7C1621.4 305.8 1616.6 306.8 1614.3 310.9C1612.0 315.0 1610.6 321.4 1610.2 327.4C1609.8 333.4 1612.3 339.6 1612.3 344.0C1612.3 348.4 1612.1 349.1 1610.2 352.0C1608.3 354.9 1605.7 356.2 1602.0 360.3C1598.3 364.4 1592.9 370.7 1589.6 374.8C1586.3 378.9 1587.1 380.4 1583.4 383.0C1579.7 385.6 1574.1 387.0 1568.9 389.2C1563.7 391.4 1557.1 394.3 1554.5 395.4"/>
<path d="M1589.6 374.8C1591.1 377.4 1594.1 385.1 1597.8 389.2C1601.5 393.3 1605.0 395.6 1610.2 397.5C1615.4 399.4 1621.0 399.5 1626.5 399.5C1632.0 399.5 1636.5 398.6 1641.0 397.5C1645.5 396.4 1647.2 393.3 1651.3 393.3C1655.4 393.3 1660.0 396.0 1663.7 397.5C1667.4 399.0 1670.4 400.9 1671.9 401.6"/>
<path d="M1313.0 408.8C1314.5 410.1 1318.5 412.5 1321.3 416.0C1324.1 419.5 1324.8 426.0 1328.5 428.4C1332.2 430.8 1337.3 428.9 1341.9 429.5C1346.5 430.1 1350.2 429.3 1354.3 431.5C1358.4 433.7 1362.7 439.9 1364.6 441.8"/>
<path d="M1399.7 404.7C1400.8 406.7 1403.9 412.1 1405.9 416.0C1407.9 419.9 1410.6 422.3 1411.0 426.4C1411.4 430.5 1408.2 435.7 1408.0 438.8C1407.8 441.9 1408.5 442.6 1410.0 443.9C1411.5 445.2 1413.6 446.6 1416.2 446.0C1418.8 445.4 1420.8 441.0 1424.5 440.8C1428.2 440.6 1432.4 444.5 1436.8 444.9C1441.2 445.3 1444.0 444.0 1449.2 442.9C1454.4 441.8 1460.5 440.5 1465.7 438.8C1470.9 437.1 1473.3 435.5 1478.1 433.6C1482.9 431.7 1488.1 430.8 1492.6 428.4C1497.1 426.0 1501.0 421.7 1502.9 420.2"/>
<path d="M1408.0 443.9C1405.8 446.3 1399.3 451.9 1395.6 457.3C1391.9 462.7 1389.5 467.9 1387.3 473.8C1385.1 479.7 1385.8 485.8 1383.2 490.3C1380.6 494.8 1375.7 495.6 1372.9 498.6C1370.1 501.6 1367.7 503.2 1367.7 506.9C1367.7 510.6 1370.5 515.1 1372.9 519.2C1375.3 523.3 1380.0 524.1 1381.1 529.6C1382.2 535.1 1379.4 546.3 1379.0 550.0"/>
<path d="M1711.1 152.0C1708.9 153.9 1700.7 158.6 1698.8 162.3C1696.9 166.0 1699.3 167.8 1700.8 172.6C1702.3 177.4 1705.1 183.2 1707.0 189.2C1708.9 195.2 1709.4 201.3 1711.1 205.7C1712.8 210.1 1715.5 206.6 1716.3 213.9C1717.1 221.2 1715.5 240.2 1715.3 246.0"/>
<path d="M1713.2 152.0C1715.1 153.9 1720.5 157.7 1723.5 162.3C1726.5 166.9 1724.9 173.5 1729.7 177.8C1734.5 182.1 1743.0 183.9 1750.4 186.1C1757.8 188.3 1766.9 187.8 1771.0 190.2C1775.1 192.6 1769.4 195.6 1773.1 199.5C1776.8 203.4 1785.3 207.1 1791.6 211.9C1797.9 216.7 1804.0 221.1 1808.1 226.3C1812.2 231.5 1810.6 235.6 1814.3 240.8C1818.0 246.0 1821.7 249.6 1828.8 255.2C1835.9 260.8 1845.4 266.5 1853.6 271.7C1861.8 276.9 1867.1 281.1 1874.2 284.1C1881.3 287.1 1889.5 287.5 1892.8 288.2"/>
<path d="M1717.3 246.9C1714.3 248.0 1705.6 249.8 1700.8 253.1C1696.0 256.4 1692.4 263.3 1690.5 265.5"/>
<path d="M1748.3 264.5C1750.9 264.7 1758.6 264.2 1762.7 265.5C1766.8 266.8 1768.9 268.9 1771.0 271.7C1773.1 274.5 1773.5 279.3 1774.1 281.0"/>
<path d="M1610.0 350.0C1610.4 346.3 1609.8 337.3 1612.0 329.5C1614.2 321.7 1620.5 311.6 1622.4 306.8C1624.3 302.0 1619.4 306.0 1622.4 302.7C1625.4 299.4 1634.4 291.5 1638.9 288.2C1643.4 284.9 1644.2 283.0 1647.2 284.1C1650.2 285.2 1651.0 293.3 1655.4 294.4C1659.8 295.5 1666.7 292.2 1671.9 290.3C1677.1 288.4 1678.7 284.8 1684.3 284.1C1689.9 283.4 1697.0 286.6 1702.9 286.2C1708.8 285.8 1712.1 282.4 1717.3 282.0C1722.5 281.6 1729.2 283.7 1731.8 284.1"/>
<path d="M1849.4 152.0C1850.9 154.2 1856.6 158.8 1857.7 164.4C1858.8 170.0 1856.7 177.4 1855.6 183.0C1854.5 188.6 1851.1 189.7 1851.5 195.3C1851.9 200.9 1855.1 206.8 1857.7 213.9C1860.3 221.0 1865.9 227.2 1865.9 234.6C1865.9 242.0 1860.3 248.5 1857.7 255.2C1855.1 261.9 1853.2 265.0 1851.5 271.7C1849.8 278.4 1848.6 284.9 1848.4 292.3C1848.2 299.7 1852.6 307.4 1850.5 313.0C1848.4 318.6 1839.8 318.8 1837.0 323.3C1834.2 327.8 1836.5 332.6 1835.0 337.8C1833.5 343.0 1830.7 348.3 1828.8 352.0C1826.9 355.7 1828.4 356.1 1824.7 358.3C1821.0 360.5 1812.6 361.1 1808.1 364.4C1803.6 367.7 1802.1 372.0 1799.9 376.8C1797.7 381.6 1797.7 386.5 1795.8 391.3C1793.9 396.1 1791.5 399.6 1789.6 403.7C1787.7 407.8 1786.2 412.1 1785.4 414.0"/>
<path d="M1865.9 234.6C1868.5 237.2 1876.3 243.1 1880.4 249.0C1884.5 254.9 1886.4 260.5 1888.6 267.6C1890.8 274.7 1892.0 284.5 1892.8 288.2"/>
<path d="M1851.5 195.3C1854.5 195.5 1863.2 197.5 1868.0 196.4C1872.8 195.3 1870.5 190.9 1878.3 189.2C1886.1 187.5 1903.9 187.1 1911.4 187.1C1918.9 187.1 1918.5 188.8 1920.0 189.2"/>
<path d="M1837.0 323.3C1838.9 325.9 1844.8 332.6 1847.4 337.8C1850.0 343.0 1850.0 347.6 1851.5 352.0C1853.0 356.4 1853.0 359.1 1855.6 362.4C1858.2 365.7 1860.7 367.3 1865.9 370.6C1871.1 373.9 1881.2 379.1 1884.5 381.0"/>
<path d="M1687.4 432.6C1686.5 435.6 1683.3 443.2 1682.2 449.1C1681.1 455.0 1680.4 460.0 1681.2 465.6C1682.0 471.2 1686.2 474.8 1686.4 480.0C1686.6 485.2 1684.4 490.0 1682.2 494.5C1680.0 499.0 1676.2 500.0 1674.0 504.8C1671.8 509.6 1672.9 516.5 1669.9 521.3C1666.9 526.1 1662.0 528.3 1657.5 531.6C1653.0 534.9 1650.7 537.3 1645.1 539.9C1639.5 542.5 1629.8 545.0 1626.5 546.1"/>
<path d="M1686.4 480.0C1689.4 480.4 1696.6 482.1 1702.9 482.1C1709.2 482.1 1714.4 478.9 1721.5 480.0C1728.6 481.1 1733.9 486.4 1742.1 488.3C1750.3 490.2 1758.7 489.6 1766.9 490.3C1775.1 491.0 1779.3 491.6 1787.5 492.4C1795.7 493.2 1804.1 493.0 1812.3 494.5C1820.5 496.0 1827.7 497.4 1832.9 500.7C1838.1 504.0 1837.5 510.1 1841.2 513.1C1844.9 516.1 1849.5 514.2 1853.6 517.2C1857.7 520.2 1860.9 524.1 1863.9 529.6C1866.9 535.1 1868.9 544.7 1870.0 548.0"/>
</g>
<g fill="none" stroke="#fbc43a" stroke-width="4.600" stroke-linejoin="round" stroke-linecap="round">
<path d="M837.5 152.0C839.2 153.3 843.1 156.8 846.8 159.2C850.5 161.6 854.1 163.0 858.0 165.4C861.9 167.8 866.5 168.7 868.4 172.6C870.3 176.5 866.9 182.2 868.4 187.0C869.9 191.8 874.3 194.7 876.7 199.5C879.1 204.3 882.3 207.6 881.9 213.9C881.5 220.2 876.7 228.6 874.6 234.6C872.5 240.6 870.9 241.1 870.5 247.0C870.1 252.9 871.9 262.8 872.6 267.6C873.3 272.4 874.2 272.7 874.6 273.8"/>
<path d="M865.3 284.1C864.0 286.0 862.4 291.1 858.1 294.4C853.8 297.7 846.8 299.4 841.6 302.7C836.4 306.0 833.3 308.6 829.2 313.0C825.1 317.4 822.6 323.1 818.9 327.4C815.2 331.7 812.3 334.5 808.6 336.7C804.9 338.9 800.2 339.2 798.3 339.8"/>
<path d="M874.6 273.8C877.2 274.9 886.1 276.7 889.1 280.0C892.1 283.3 891.7 287.9 891.1 292.3C890.5 296.7 887.3 298.7 886.0 304.7C884.7 310.7 883.7 320.2 883.9 325.4C884.1 330.6 883.8 331.0 887.0 333.6C890.2 336.2 897.0 337.6 901.5 339.8C906.0 342.0 909.4 343.8 911.8 346.0C914.2 348.2 914.2 349.4 914.9 352.0C915.6 354.6 913.9 356.8 915.9 360.3C917.9 363.8 921.0 368.7 926.2 371.7C931.4 374.7 938.8 374.4 944.8 376.8C950.8 379.2 954.8 381.4 959.3 385.1C963.8 388.8 965.5 394.0 969.6 397.5C973.7 401.0 977.2 402.5 982.0 404.7C986.8 406.9 992.6 408.8 996.4 409.9C1000.2 411.0 998.1 411.1 1003.0 410.9C1007.9 410.7 1016.9 408.6 1023.6 408.8C1030.3 409.0 1034.6 411.7 1040.2 411.9C1045.8 412.1 1045.3 410.3 1054.6 409.9C1063.9 409.5 1082.5 410.7 1091.8 409.9C1101.1 409.1 1100.6 407.0 1106.2 405.7C1111.8 404.4 1117.1 402.0 1122.7 402.6C1128.3 403.2 1132.7 407.3 1137.2 408.8C1141.7 410.3 1142.7 411.1 1147.5 410.9C1152.3 410.7 1158.1 409.5 1164.0 407.8C1169.9 406.1 1174.6 404.0 1180.5 401.6C1186.4 399.2 1191.8 398.1 1197.0 394.4C1202.2 390.7 1203.8 384.0 1209.4 381.0C1215.0 378.0 1221.3 378.3 1228.0 377.9C1234.7 377.5 1243.2 378.7 1246.5 378.9"/>
<path d="M1209.4 381.0 L1208.4 370.6"/>
<path d="M924.2 535.8C926.4 534.7 931.3 530.4 936.5 529.6C941.7 528.8 947.1 531.4 953.1 531.6C959.1 531.8 963.7 530.0 969.6 530.6C975.5 531.2 980.1 534.3 986.1 534.7C992.1 535.1 1000.0 533.1 1003.0 532.7"/>
<path d="M1283.7 218.0C1284.8 220.2 1289.9 225.9 1289.9 230.4C1289.9 234.9 1285.2 237.6 1283.7 242.8C1282.2 248.0 1283.1 254.5 1281.6 259.3C1280.1 264.1 1276.0 265.9 1275.4 269.6C1274.8 273.3 1278.3 274.4 1278.5 280.0C1278.7 285.6 1278.2 293.9 1276.5 300.6C1274.8 307.3 1272.8 313.2 1269.3 317.1C1265.8 321.0 1264.0 321.0 1256.9 322.3C1249.8 323.6 1234.8 323.9 1230.0 324.3"/>
<path d="M1261.0 398.5C1264.3 398.5 1274.0 397.6 1279.6 398.5C1285.2 399.4 1288.3 400.9 1292.0 403.7C1295.7 406.5 1297.6 409.9 1300.2 414.0C1302.8 418.1 1304.1 423.2 1306.4 426.4C1308.7 429.5 1310.9 429.4 1313.0 431.5C1315.1 433.6 1315.8 435.9 1318.0 438.0C1320.2 440.1 1320.7 441.5 1325.4 442.9C1330.1 444.3 1336.9 446.0 1344.0 446.0C1351.1 446.0 1357.2 443.7 1364.6 442.9C1372.0 442.1 1378.9 442.9 1385.2 441.8C1391.5 440.7 1394.9 439.1 1399.7 436.7C1404.5 434.3 1406.9 430.1 1412.1 428.4C1417.3 426.7 1424.2 426.8 1428.6 427.4C1433.0 428.0 1432.3 430.6 1436.8 431.5C1441.3 432.4 1447.4 431.8 1453.4 432.6C1459.4 433.4 1464.3 435.7 1469.9 435.7C1475.5 435.7 1478.4 435.2 1484.3 432.6C1490.2 430.0 1496.6 423.6 1502.9 421.2C1509.2 418.8 1514.6 420.8 1519.4 419.1C1524.2 417.4 1526.7 414.7 1529.7 411.9C1532.7 409.1 1531.4 406.1 1535.9 403.7C1540.4 401.3 1548.6 400.9 1554.5 398.5C1560.4 396.1 1563.0 391.9 1568.9 390.2C1574.8 388.5 1582.7 388.4 1587.5 389.2C1592.3 390.0 1592.5 392.0 1595.8 394.4C1599.1 396.8 1601.2 400.6 1606.1 402.6C1611.0 404.6 1618.6 404.0 1623.0 405.7C1627.4 407.4 1625.5 410.8 1630.6 411.9C1635.7 413.0 1643.1 412.3 1651.3 411.9C1659.5 411.5 1666.4 410.5 1676.0 409.9C1685.6 409.3 1697.5 409.7 1704.9 408.8C1712.3 407.9 1712.1 405.4 1717.3 404.7C1722.5 404.0 1727.1 404.5 1733.8 404.7C1740.5 404.9 1747.1 404.4 1754.5 405.7C1761.9 407.0 1769.5 410.0 1775.1 411.9C1780.7 413.8 1780.9 413.9 1785.4 416.0C1789.9 418.1 1794.3 422.4 1799.9 423.3C1805.5 424.2 1811.9 422.1 1816.4 421.2C1820.9 420.3 1820.2 419.8 1824.7 418.1C1829.2 416.4 1834.5 413.4 1841.2 411.9C1847.9 410.4 1855.1 409.9 1861.8 409.9C1868.5 409.9 1872.4 411.9 1878.3 411.9C1884.2 411.9 1887.3 410.6 1894.8 409.9C1902.3 409.2 1915.5 408.3 1920.0 408.0"/>
<path d="M1091.8 418.1C1093.3 420.7 1097.8 427.0 1100.0 432.6C1102.2 438.2 1102.6 443.2 1104.1 449.1C1105.6 455.0 1105.7 460.4 1108.3 465.6C1110.9 470.8 1116.0 472.8 1118.6 478.0C1121.2 483.2 1120.5 488.2 1122.7 494.5C1124.9 500.8 1128.8 506.8 1131.0 513.1C1133.2 519.4 1134.0 523.0 1135.1 529.6C1136.2 536.2 1136.8 546.3 1137.2 550.0"/>
<path d="M1157.8 432.6C1155.6 433.3 1150.2 433.0 1145.4 436.7C1140.6 440.4 1136.2 447.4 1131.0 453.2C1125.8 459.0 1119.1 465.9 1116.5 468.7"/>
<path d="M1108.3 478.0C1105.7 479.9 1099.4 484.6 1093.8 488.3C1088.2 492.0 1083.2 495.8 1077.3 498.6C1071.4 501.4 1067.5 502.7 1060.8 503.8C1054.1 504.9 1046.5 504.1 1040.2 504.8C1033.9 505.5 1030.2 505.3 1025.7 507.9C1021.2 510.5 1019.5 515.3 1015.4 519.2C1011.3 523.1 1005.2 527.7 1003.0 529.6"/>
<path d="M1752.4 283.1C1757.6 282.9 1773.5 280.7 1781.3 282.0C1789.1 283.3 1792.1 286.6 1795.8 290.3C1799.5 294.0 1797.9 299.2 1802.0 302.7C1806.1 306.2 1812.2 308.4 1818.5 309.9C1824.8 311.4 1829.9 310.9 1837.0 310.9C1844.1 310.9 1850.6 311.4 1857.7 309.9C1864.8 308.4 1870.0 304.8 1876.3 302.7C1882.6 300.6 1889.8 301.1 1892.8 298.5C1895.8 295.9 1892.8 290.1 1892.8 288.2"/>
<path d="M1731.8 288.2C1730.5 290.4 1725.4 294.3 1724.6 300.6C1723.8 306.9 1727.4 314.0 1727.6 323.3C1727.8 332.6 1726.6 343.2 1725.6 352.0C1724.6 360.8 1722.6 368.4 1722.0 372.0"/>
<path d="M1820.5 424.3C1819.9 426.5 1817.4 432.2 1817.4 436.7C1817.4 441.2 1818.4 445.4 1820.5 449.1C1822.6 452.8 1825.1 455.1 1828.8 457.3C1832.5 459.5 1836.7 458.9 1841.2 461.5C1845.7 464.1 1848.4 469.6 1853.6 471.8C1858.8 474.0 1864.2 473.4 1870.1 473.8C1876.0 474.2 1882.9 474.9 1886.6 473.8C1890.3 472.7 1887.4 469.1 1890.7 467.6C1894.0 466.1 1900.7 467.5 1905.2 465.6C1909.7 463.7 1912.8 459.5 1915.5 457.3C1918.2 455.1 1919.2 453.9 1920.0 453.2"/>
<path d="M1907.2 531.6C1908.0 529.7 1909.1 524.3 1911.4 521.3C1913.7 518.3 1918.5 516.2 1920.0 515.1"/>
</g>
<g fill="none" stroke="#fed541" stroke-width="2.600" stroke-linejoin="round" stroke-linecap="round">
<path d="M837.5 152.0C839.2 153.3 843.1 156.8 846.8 159.2C850.5 161.6 854.1 163.0 858.0 165.4C861.9 167.8 866.5 168.7 868.4 172.6C870.3 176.5 866.9 182.2 868.4 187.0C869.9 191.8 874.3 194.7 876.7 199.5C879.1 204.3 882.3 207.6 881.9 213.9C881.5 220.2 876.7 228.6 874.6 234.6C872.5 240.6 870.9 241.1 870.5 247.0C870.1 252.9 871.9 262.8 872.6 267.6C873.3 272.4 874.2 272.7 874.6 273.8"/>
<path d="M865.3 284.1C864.0 286.0 862.4 291.1 858.1 294.4C853.8 297.7 846.8 299.4 841.6 302.7C836.4 306.0 833.3 308.6 829.2 313.0C825.1 317.4 822.6 323.1 818.9 327.4C815.2 331.7 812.3 334.5 808.6 336.7C804.9 338.9 800.2 339.2 798.3 339.8"/>
<path d="M874.6 273.8C877.2 274.9 886.1 276.7 889.1 280.0C892.1 283.3 891.7 287.9 891.1 292.3C890.5 296.7 887.3 298.7 886.0 304.7C884.7 310.7 883.7 320.2 883.9 325.4C884.1 330.6 883.8 331.0 887.0 333.6C890.2 336.2 897.0 337.6 901.5 339.8C906.0 342.0 909.4 343.8 911.8 346.0C914.2 348.2 914.2 349.4 914.9 352.0C915.6 354.6 913.9 356.8 915.9 360.3C917.9 363.8 921.0 368.7 926.2 371.7C931.4 374.7 938.8 374.4 944.8 376.8C950.8 379.2 954.8 381.4 959.3 385.1C963.8 388.8 965.5 394.0 969.6 397.5C973.7 401.0 977.2 402.5 982.0 404.7C986.8 406.9 992.6 408.8 996.4 409.9C1000.2 411.0 998.1 411.1 1003.0 410.9C1007.9 410.7 1016.9 408.6 1023.6 408.8C1030.3 409.0 1034.6 411.7 1040.2 411.9C1045.8 412.1 1045.3 410.3 1054.6 409.9C1063.9 409.5 1082.5 410.7 1091.8 409.9C1101.1 409.1 1100.6 407.0 1106.2 405.7C1111.8 404.4 1117.1 402.0 1122.7 402.6C1128.3 403.2 1132.7 407.3 1137.2 408.8C1141.7 410.3 1142.7 411.1 1147.5 410.9C1152.3 410.7 1158.1 409.5 1164.0 407.8C1169.9 406.1 1174.6 404.0 1180.5 401.6C1186.4 399.2 1191.8 398.1 1197.0 394.4C1202.2 390.7 1203.8 384.0 1209.4 381.0C1215.0 378.0 1221.3 378.3 1228.0 377.9C1234.7 377.5 1243.2 378.7 1246.5 378.9"/>
<path d="M1209.4 381.0 L1208.4 370.6"/>
<path d="M924.2 535.8C926.4 534.7 931.3 530.4 936.5 529.6C941.7 528.8 947.1 531.4 953.1 531.6C959.1 531.8 963.7 530.0 969.6 530.6C975.5 531.2 980.1 534.3 986.1 534.7C992.1 535.1 1000.0 533.1 1003.0 532.7"/>
<path d="M1283.7 218.0C1284.8 220.2 1289.9 225.9 1289.9 230.4C1289.9 234.9 1285.2 237.6 1283.7 242.8C1282.2 248.0 1283.1 254.5 1281.6 259.3C1280.1 264.1 1276.0 265.9 1275.4 269.6C1274.8 273.3 1278.3 274.4 1278.5 280.0C1278.7 285.6 1278.2 293.9 1276.5 300.6C1274.8 307.3 1272.8 313.2 1269.3 317.1C1265.8 321.0 1264.0 321.0 1256.9 322.3C1249.8 323.6 1234.8 323.9 1230.0 324.3"/>
<path d="M1261.0 398.5C1264.3 398.5 1274.0 397.6 1279.6 398.5C1285.2 399.4 1288.3 400.9 1292.0 403.7C1295.7 406.5 1297.6 409.9 1300.2 414.0C1302.8 418.1 1304.1 423.2 1306.4 426.4C1308.7 429.5 1310.9 429.4 1313.0 431.5C1315.1 433.6 1315.8 435.9 1318.0 438.0C1320.2 440.1 1320.7 441.5 1325.4 442.9C1330.1 444.3 1336.9 446.0 1344.0 446.0C1351.1 446.0 1357.2 443.7 1364.6 442.9C1372.0 442.1 1378.9 442.9 1385.2 441.8C1391.5 440.7 1394.9 439.1 1399.7 436.7C1404.5 434.3 1406.9 430.1 1412.1 428.4C1417.3 426.7 1424.2 426.8 1428.6 427.4C1433.0 428.0 1432.3 430.6 1436.8 431.5C1441.3 432.4 1447.4 431.8 1453.4 432.6C1459.4 433.4 1464.3 435.7 1469.9 435.7C1475.5 435.7 1478.4 435.2 1484.3 432.6C1490.2 430.0 1496.6 423.6 1502.9 421.2C1509.2 418.8 1514.6 420.8 1519.4 419.1C1524.2 417.4 1526.7 414.7 1529.7 411.9C1532.7 409.1 1531.4 406.1 1535.9 403.7C1540.4 401.3 1548.6 400.9 1554.5 398.5C1560.4 396.1 1563.0 391.9 1568.9 390.2C1574.8 388.5 1582.7 388.4 1587.5 389.2C1592.3 390.0 1592.5 392.0 1595.8 394.4C1599.1 396.8 1601.2 400.6 1606.1 402.6C1611.0 404.6 1618.6 404.0 1623.0 405.7C1627.4 407.4 1625.5 410.8 1630.6 411.9C1635.7 413.0 1643.1 412.3 1651.3 411.9C1659.5 411.5 1666.4 410.5 1676.0 409.9C1685.6 409.3 1697.5 409.7 1704.9 408.8C1712.3 407.9 1712.1 405.4 1717.3 404.7C1722.5 404.0 1727.1 404.5 1733.8 404.7C1740.5 404.9 1747.1 404.4 1754.5 405.7C1761.9 407.0 1769.5 410.0 1775.1 411.9C1780.7 413.8 1780.9 413.9 1785.4 416.0C1789.9 418.1 1794.3 422.4 1799.9 423.3C1805.5 424.2 1811.9 422.1 1816.4 421.2C1820.9 420.3 1820.2 419.8 1824.7 418.1C1829.2 416.4 1834.5 413.4 1841.2 411.9C1847.9 410.4 1855.1 409.9 1861.8 409.9C1868.5 409.9 1872.4 411.9 1878.3 411.9C1884.2 411.9 1887.3 410.6 1894.8 409.9C1902.3 409.2 1915.5 408.3 1920.0 408.0"/>
<path d="M1091.8 418.1C1093.3 420.7 1097.8 427.0 1100.0 432.6C1102.2 438.2 1102.6 443.2 1104.1 449.1C1105.6 455.0 1105.7 460.4 1108.3 465.6C1110.9 470.8 1116.0 472.8 1118.6 478.0C1121.2 483.2 1120.5 488.2 1122.7 494.5C1124.9 500.8 1128.8 506.8 1131.0 513.1C1133.2 519.4 1134.0 523.0 1135.1 529.6C1136.2 536.2 1136.8 546.3 1137.2 550.0"/>
<path d="M1157.8 432.6C1155.6 433.3 1150.2 433.0 1145.4 436.7C1140.6 440.4 1136.2 447.4 1131.0 453.2C1125.8 459.0 1119.1 465.9 1116.5 468.7"/>
<path d="M1108.3 478.0C1105.7 479.9 1099.4 484.6 1093.8 488.3C1088.2 492.0 1083.2 495.8 1077.3 498.6C1071.4 501.4 1067.5 502.7 1060.8 503.8C1054.1 504.9 1046.5 504.1 1040.2 504.8C1033.9 505.5 1030.2 505.3 1025.7 507.9C1021.2 510.5 1019.5 515.3 1015.4 519.2C1011.3 523.1 1005.2 527.7 1003.0 529.6"/>
<path d="M1752.4 283.1C1757.6 282.9 1773.5 280.7 1781.3 282.0C1789.1 283.3 1792.1 286.6 1795.8 290.3C1799.5 294.0 1797.9 299.2 1802.0 302.7C1806.1 306.2 1812.2 308.4 1818.5 309.9C1824.8 311.4 1829.9 310.9 1837.0 310.9C1844.1 310.9 1850.6 311.4 1857.7 309.9C1864.8 308.4 1870.0 304.8 1876.3 302.7C1882.6 300.6 1889.8 301.1 1892.8 298.5C1895.8 295.9 1892.8 290.1 1892.8 288.2"/>
<path d="M1731.8 288.2C1730.5 290.4 1725.4 294.3 1724.6 300.6C1723.8 306.9 1727.4 314.0 1727.6 323.3C1727.8 332.6 1726.6 343.2 1725.6 352.0C1724.6 360.8 1722.6 368.4 1722.0 372.0"/>
<path d="M1820.5 424.3C1819.9 426.5 1817.4 432.2 1817.4 436.7C1817.4 441.2 1818.4 445.4 1820.5 449.1C1822.6 452.8 1825.1 455.1 1828.8 457.3C1832.5 459.5 1836.7 458.9 1841.2 461.5C1845.7 464.1 1848.4 469.6 1853.6 471.8C1858.8 474.0 1864.2 473.4 1870.1 473.8C1876.0 474.2 1882.9 474.9 1886.6 473.8C1890.3 472.7 1887.4 469.1 1890.7 467.6C1894.0 466.1 1900.7 467.5 1905.2 465.6C1909.7 463.7 1912.8 459.5 1915.5 457.3C1918.2 455.1 1919.2 453.9 1920.0 453.2"/>
<path d="M1907.2 531.6C1908.0 529.7 1909.1 524.3 1911.4 521.3C1913.7 518.3 1918.5 516.2 1920.0 515.1"/>
</g>
</svg>
<div class="sh" style="left:165.1px;top:15.5px;width:16.5px;background:#1a1aee">A3</div>
<div class="sh" style="left:163.0px;top:120.7px;width:21.7px;background:#1a1aee">A94</div>
<div class="sh" style="left:186.8px;top:175.9px;width:15.5px;background:#16167c">A8</div>
<div class="sh" style="left:389.2px;top:252.7px;width:21.1px;background:#16167c">A25</div>
<div class="sh" style="left:406.6px;top:296.7px;width:15.9px;background:#16167c">A8</div>
<div class="sh" style="left:413.2px;top:318.7px;width:16.1px;background:#16167c">A9</div>
<div class="sh" style="left:503.6px;top:230.7px;width:21.8px;background:#0f8a1f">E55</div>
<div class="sh" style="left:569.6px;top:240.7px;width:15.9px;background:#16167c">A1</div>
<div class="sh" style="left:568.4px;top:154.4px;width:21.9px;background:#16167c">S10</div>
<div class="sh" style="left:613.5px;top:278.5px;width:15.5px;background:#16167c">A1</div>
<div class="sh" style="left:1038.4px;top:126.3px;width:15.2px;background:#16167c">S5</div>
<div class="sh" style="left:1090.4px;top:267.6px;width:16.1px;background:#16167c">A1</div>
<div class="sh" style="left:1122.4px;top:300.2px;width:21.6px;background:#16167c">A21</div>
<div class="t" style="left:976px;top:241px;font-size:13px;color:#333">Pölten</div>
<div class="mk" style="left:1222.0px;top:177.0px;"><svg style="left:7.500px;top:7.500px" width="15" height="15" viewBox="0 0 15 15"><path d="M7.500.700L14 3.400V11l-6.500 3.300L1 11V3.400z" fill="none" stroke="#fff" stroke-width="1.300" stroke-linejoin="round"/><path d="M1 3.400l6.500 2.900v8L1 11z" fill="#fff"/><path d="M7.500 6.300L14 3.400" stroke="#fff" stroke-width="1.200"/></svg></div>
<div class="mk" style="left:1217.0px;top:280.0px;"><svg style="left:7.500px;top:7.500px" width="15" height="15" viewBox="0 0 15 15"><path d="M7.500.700L14 3.400V11l-6.500 3.300L1 11V3.400z" fill="none" stroke="#fff" stroke-width="1.300" stroke-linejoin="round"/><path d="M1 3.400l6.500 2.900v8L1 11z" fill="#fff"/><path d="M7.500 6.300L14 3.400" stroke="#fff" stroke-width="1.200"/></svg></div>
<div class="mk" style="left:388.8px;top:29.1px;"><svg style="left:7.500px;top:7.500px" width="15" height="15" viewBox="0 0 15 15"><path d="M7.500.700L14 3.400V11l-6.500 3.300L1 11V3.400z" fill="none" stroke="#fff" stroke-width="1.300" stroke-linejoin="round"/><path d="M1 3.400l6.500 2.900v8L1 11z" fill="#fff"/><path d="M7.500 6.300L14 3.400" stroke="#fff" stroke-width="1.200"/></svg></div>
<div class="ml" style="left:381.2px;top:2.1px;width:45.4px;">D-177</div>
<div class="mk" style="left:1024.8px;top:95.8px;"><svg style="left:7.500px;top:7.500px" width="15" height="15" viewBox="0 0 15 15"><path d="M7.500.700L14 3.400V11l-6.500 3.300L1 11V3.400z" fill="none" stroke="#fff" stroke-width="1.300" stroke-linejoin="round"/><path d="M1 3.400l6.500 2.900v8L1 11z" fill="#fff"/><path d="M7.500 6.300L14 3.400" stroke="#fff" stroke-width="1.200"/></svg></div>
<div class="ml" style="left:1017.1px;top:69.1px;width:45.4px;">D-167</div>
<div class="mk" style="left:1178.6px;top:177.2px;"><svg style="left:7.500px;top:7.500px" width="15" height="15" viewBox="0 0 15 15"><path d="M7.500.700L14 3.400V11l-6.500 3.300L1 11V3.400z" fill="none" stroke="#fff" stroke-width="1.300" stroke-linejoin="round"/><path d="M1 3.400l6.500 2.900v8L1 11z" fill="#fff"/><path d="M7.500 6.300L14 3.400" stroke="#fff" stroke-width="1.200"/></svg></div>
<div class="mk" style="left:408.0px;top:182.0px;"><svg style="left:7px;top:9px" width="16" height="13" viewBox="0 0 16 13"><path d="M5.600 0H16v9.600H5.600z" fill="#fff"/><path d="M1.600 3.400h3.600v6.200H0V6z" fill="#fff"/><path d="M1.300 6.200l1-1.800h1.900v1.800z" fill="#1098d8"/><circle cx="3.600" cy="10.500" r="2" fill="#fff" stroke="#1098d8" stroke-width=".900"/><circle cx="12" cy="10.500" r="2" fill="#fff" stroke="#1098d8" stroke-width=".900"/><path d="M0 9.600h16v1H0z" fill="#fff"/><circle cx="3.600" cy="10.800" r="1.900" fill="#fff"/><circle cx="12" cy="10.800" r="1.900" fill="#fff"/><circle cx="3.600" cy="10.800" r=".800" fill="#1098d8"/><circle cx="12" cy="10.800" r=".800" fill="#1098d8"/></svg></div>
<div class="mk" style="left:426.5px;top:187.0px;"><svg style="left:7.500px;top:7.500px" width="15" height="15" viewBox="0 0 15 15"><path d="M7.500.700L14 3.400V11l-6.500 3.300L1 11V3.400z" fill="none" stroke="#fff" stroke-width="1.300" stroke-linejoin="round"/><path d="M1 3.400l6.500 2.900v8L1 11z" fill="#fff"/><path d="M7.500 6.300L14 3.400" stroke="#fff" stroke-width="1.200"/></svg></div>
<div class="ml" style="left:420.4px;top:161.0px;width:45.4px;color:#6d7c8c;">D-175</div>
<div class="mk" style="left:497.0px;top:190.0px;"><svg style="left:7.500px;top:7.500px" width="15" height="15" viewBox="0 0 15 15"><path d="M7.500.700L14 3.400V11l-6.500 3.300L1 11V3.400z" fill="none" stroke="#fff" stroke-width="1.300" stroke-linejoin="round"/><path d="M1 3.400l6.500 2.900v8L1 11z" fill="#fff"/><path d="M7.500 6.300L14 3.400" stroke="#fff" stroke-width="1.200"/></svg></div>
<div class="ml" style="left:490.2px;top:165.1px;width:45.4px;">D-179</div>
<div class="mk" style="left:1009.5px;top:199.5px;"><svg style="left:7px;top:9px" width="16" height="13" viewBox="0 0 16 13"><path d="M5.600 0H16v9.600H5.600z" fill="#fff"/><path d="M1.600 3.400h3.600v6.200H0V6z" fill="#fff"/><path d="M1.300 6.200l1-1.800h1.900v1.800z" fill="#1098d8"/><circle cx="3.600" cy="10.500" r="2" fill="#fff" stroke="#1098d8" stroke-width=".900"/><circle cx="12" cy="10.500" r="2" fill="#fff" stroke="#1098d8" stroke-width=".900"/><path d="M0 9.600h16v1H0z" fill="#fff"/><circle cx="3.600" cy="10.800" r="1.900" fill="#fff"/><circle cx="12" cy="10.800" r="1.900" fill="#fff"/><circle cx="3.600" cy="10.800" r=".800" fill="#1098d8"/><circle cx="12" cy="10.800" r=".800" fill="#1098d8"/></svg></div>
<div class="ml" style="left:991.3px;top:173.4px;width:67.1px;">GF-700FE</div>
<div class="mk" style="left:989.0px;top:219.0px;"><svg style="left:7.500px;top:7.500px" width="15" height="15" viewBox="0 0 15 15"><path d="M7.500.700L14 3.400V11l-6.500 3.300L1 11V3.400z" fill="none" stroke="#fff" stroke-width="1.300" stroke-linejoin="round"/><path d="M1 3.400l6.500 2.900v8L1 11z" fill="#fff"/><path d="M7.500 6.300L14 3.400" stroke="#fff" stroke-width="1.200"/></svg></div>
<div class="ml" style="left:981.0px;top:192.7px;width:45.4px;">D-178</div>
<div class="mk" style="left:360.0px;top:238.7px;"><svg style="left:7px;top:9px" width="16" height="13" viewBox="0 0 16 13"><path d="M5.600 0H16v9.600H5.600z" fill="#fff"/><path d="M1.600 3.400h3.600v6.200H0V6z" fill="#fff"/><path d="M1.300 6.200l1-1.800h1.900v1.800z" fill="#1098d8"/><circle cx="3.600" cy="10.500" r="2" fill="#fff" stroke="#1098d8" stroke-width=".900"/><circle cx="12" cy="10.500" r="2" fill="#fff" stroke="#1098d8" stroke-width=".900"/><path d="M0 9.600h16v1H0z" fill="#fff"/><circle cx="3.600" cy="10.800" r="1.900" fill="#fff"/><circle cx="12" cy="10.800" r="1.900" fill="#fff"/><circle cx="3.600" cy="10.800" r=".800" fill="#1098d8"/><circle cx="12" cy="10.800" r=".800" fill="#1098d8"/></svg></div>
<div class="ml" style="left:338.9px;top:212.0px;width:71.8px;">GU-476RB</div>
<div class="mk" style="left:1033.9px;top:239.2px;"><svg style="left:7px;top:9px" width="16" height="13" viewBox="0 0 16 13"><path d="M5.600 0H16v9.600H5.600z" fill="#fff"/><path d="M1.600 3.400h3.600v6.200H0V6z" fill="#fff"/><path d="M1.300 6.200l1-1.800h1.900v1.800z" fill="#1098d8"/><circle cx="3.600" cy="10.500" r="2" fill="#fff" stroke="#1098d8" stroke-width=".900"/><circle cx="12" cy="10.500" r="2" fill="#fff" stroke="#1098d8" stroke-width=".900"/><path d="M0 9.600h16v1H0z" fill="#fff"/><circle cx="3.600" cy="10.800" r="1.900" fill="#fff"/><circle cx="12" cy="10.800" r="1.900" fill="#fff"/><circle cx="3.600" cy="10.800" r=".800" fill="#1098d8"/><circle cx="12" cy="10.800" r=".800" fill="#1098d8"/></svg></div>
<div class="ml" style="left:1014.6px;top:212.0px;width:68.8px;">GF-525JH</div>
<div class="mk" style="left:982.9px;top:251.1px;"><svg style="left:7.500px;top:7.500px" width="15" height="15" viewBox="0 0 15 15"><path d="M7.500.700L14 3.400V11l-6.500 3.300L1 11V3.400z" fill="none" stroke="#fff" stroke-width="1.300" stroke-linejoin="round"/><path d="M1 3.400l6.500 2.900v8L1 11z" fill="#fff"/><path d="M7.500 6.300L14 3.400" stroke="#fff" stroke-width="1.200"/></svg></div>
<div class="ml" style="left:975.4px;top:224.2px;width:45.4px;">D-154</div>
<div class="mk" style="left:449.8px;top:255.6px;"><svg style="left:7px;top:9px" width="16" height="13" viewBox="0 0 16 13"><path d="M5.600 0H16v9.600H5.600z" fill="#fff"/><path d="M1.600 3.400h3.600v6.200H0V6z" fill="#fff"/><path d="M1.300 6.200l1-1.800h1.900v1.800z" fill="#1098d8"/><circle cx="3.600" cy="10.500" r="2" fill="#fff" stroke="#1098d8" stroke-width=".900"/><circle cx="12" cy="10.500" r="2" fill="#fff" stroke="#1098d8" stroke-width=".900"/><path d="M0 9.600h16v1H0z" fill="#fff"/><circle cx="3.600" cy="10.800" r="1.900" fill="#fff"/><circle cx="12" cy="10.800" r="1.900" fill="#fff"/><circle cx="3.600" cy="10.800" r=".800" fill="#1098d8"/><circle cx="12" cy="10.800" r=".800" fill="#1098d8"/></svg></div>
<div class="ml" style="left:429.1px;top:229.4px;width:71.2px;">GU-745PO</div>
<div class="mk" style="left:941.8px;top:289.3px;"><svg style="left:7.500px;top:7.500px" width="15" height="15" viewBox="0 0 15 15"><path d="M7.500.700L14 3.400V11l-6.500 3.300L1 11V3.400z" fill="none" stroke="#fff" stroke-width="1.300" stroke-linejoin="round"/><path d="M1 3.400l6.500 2.900v8L1 11z" fill="#fff"/><path d="M7.500 6.300L14 3.400" stroke="#fff" stroke-width="1.200"/></svg></div>
<div class="ml" style="left:934.1px;top:262.4px;width:45.4px;">D-153</div>
<div class="mk" style="left:204.8px;top:375.0px;"><svg style="left:7.500px;top:7.500px" width="15" height="15" viewBox="0 0 15 15"><path d="M7.500.700L14 3.400V11l-6.500 3.300L1 11V3.400z" fill="none" stroke="#fff" stroke-width="1.300" stroke-linejoin="round"/><path d="M1 3.400l6.500 2.900v8L1 11z" fill="#fff"/><path d="M7.500 6.300L14 3.400" stroke="#fff" stroke-width="1.200"/></svg></div>
<div class="ml" style="left:197.1px;top:349.3px;width:45.4px;">D-155</div>
<div class="ml" style="left:389.0px;top:154.2px;width:70.6px;">GU-718PX</div>
<div class="ml" style="left:981.0px;top:192.7px;width:45.4px;">D-178</div>
<div class="ml" style="left:1014.6px;top:212.0px;width:68.8px;">GF-525JH</div>
<div class="ml" style="left:975.4px;top:224.2px;width:45.4px;">D-154</div>
<div class="ml" style="left:1176.3px;top:150.1px;width:35.7px;text-align:left;padding-left:5.500px;">F-27</div>
<div class="ml" style="left:1204.5px;top:145.1px;width:47.5px;text-align:left;padding-left:6px;">GF-189</div>
<div class="ml" style="left:1223.5px;top:130.0px;width:13.5px;"></div>
<div class="ml" style="left:1212.2px;top:208.3px;width:34.8px;text-align:left;padding-left:5px;">Ve</div>
<div class="ml" style="left:1193.6px;top:230.0px;width:53.4px;color:#6d7c8c;text-align:left;padding-left:6px;">Merc</div>
<div class="ml" style="left:1197.7px;top:253.0px;width:49.3px;color:#6d7c8c;"></div>
<div class="ml" style="left:1184.3px;top:239.3px;width:62.7px;text-align:left;padding-left:5.500px;">GU-876</div>
<div class="ml" style="left:1217.3px;top:273.3px;width:29.7px;text-align:left;padding-left:5px;">M</div>
<div class="mk" style="left:537.9px;top:218.4px;width:31px;height:31px;background:#7f8c8d;box-shadow:0 0 0 1px #4d5a60,0 2.500px 2px 1.500px rgba(0,0,0,.880)"><svg style="left:8px;top:8px" width="15" height="15" viewBox="0 0 15 15"><path d="M7.500.700L14 3.400V11l-6.500 3.300L1 11V3.400z" fill="none" stroke="#fff" stroke-width="1.300" stroke-linejoin="round"/><path d="M1 3.400l6.500 2.900v8L1 11z" fill="#fff"/><path d="M7.500 6.300L14 3.400" stroke="#fff" stroke-width="1.200"/></svg></div>
<div class="a" style="left:536px;top:208px;width:52px;height:6px;border-radius:3px;background:rgba(10,12,15,.850);filter:blur(1.500px)"></div>
<div class="ml" style="left:475.800px;top:189.900px;width:150px;height:21.900px;font-size:12.450px;text-align:left;padding-left:6px;box-shadow:0 2px 4px rgba(0,0,0,.5)">Skoda/Fabia/GU-344...</div>
<div class="a" style="left:11.400px;top:11.400px;width:31.500px;height:60.800px;border-radius:4.500px;background:#fff;border:1.500px solid #b9b49f"></div>
<div class="a" style="left:13px;top:41.500px;width:28.500px;height:1px;background:#ccc"></div>
<svg style="left:21px;top:21.500px" width="13" height="13" viewBox="0 0 13 13"><path d="M6.500.500v12M.500 6.500h12" stroke="#111" stroke-width="2"/></svg>
<svg style="left:21px;top:57px" width="13" height="3" viewBox="0 0 13 3"><path d="M.500 1.500h12" stroke="#111" stroke-width="2"/></svg>
<div class="a" style="left:1184.700px;top:11.400px;width:31px;height:60.800px;border-radius:3.500px;background:#1098d8;border:1.500px solid #b9b49f"></div>
<div class="a" style="left:1186px;top:41.500px;width:28.500px;height:1px;background:#9fd0ec"></div>
<svg style="left:1195px;top:21.500px" width="12" height="10" viewBox="0 0 16 13"><path d="M5.600 0H16v9.600H5.600z" fill="#fff"/><path d="M1.600 3.400h3.600v6.200H0V6z" fill="#fff"/><path d="M1.300 6.200l1-1.800h1.900v1.800z" fill="#1098d8"/><circle cx="3.600" cy="10.500" r="2" fill="#fff" stroke="#1098d8" stroke-width=".900"/><circle cx="12" cy="10.500" r="2" fill="#fff" stroke="#1098d8" stroke-width=".900"/><path d="M0 9.600h16v1H0z" fill="#fff"/><circle cx="3.600" cy="10.800" r="1.900" fill="#fff"/><circle cx="12" cy="10.800" r="1.900" fill="#fff"/><circle cx="3.600" cy="10.800" r=".800" fill="#1098d8"/><circle cx="12" cy="10.800" r=".800" fill="#1098d8"/></svg>
<svg style="left:1197px;top:52px" width="8" height="11" viewBox="0 0 14 20" fill="#fff"><use href="#i-pin"/></svg>
<div class="a" style="left:1000.600px;top:379.600px;width:226.400px;height:16.400px;background:rgba(255,255,255,.720)"></div>
<div class="t" style="left:1005px;top:382.500px;font-size:11px;color:#333"><span style="color:#4a7a99">Leaflet</span> | © <span style="color:#4a7a99">Map material: ©2023, PTV Group</span></div>
</div></div>
<div class="a" style="left:693px;top:548px;width:1227px;height:5px;background:#ebebeb"></div>
<!-- ===== form panel ===== -->
<style>
#fp{left:693px;top:553px;width:1227px;height:416px;background:#fff;overflow:hidden}
#fp .nb{position:absolute;top:154.300px;font-size:14.100px;color:#4a80a0;white-space:nowrap;line-height:1}
#fp .bt{position:absolute;top:197.100px;font-size:14px;font-weight:400;-webkit-text-stroke:.450px #414b59;color:#414b59;white-space:nowrap;line-height:1}
#fp .th{position:absolute;font-size:12.600px;font-weight:700;color:#1f2937;white-space:nowrap;line-height:1}
#fp .td{position:absolute;font-size:13.500px;color:#4a5361;white-space:nowrap;line-height:1}
#fp .al{position:absolute;left:0;width:1211px;text-align:center;font-size:14.550px;color:#a2641c;white-space:nowrap;line-height:1}
</style>
<div class="a" id="fp">
<div class="ptabs" style="left:0;top:0;width:1227px;height:20.200px"></div>
<div class="ptab" style="left:.300px;top:1.600px;width:175.400px;height:18.600px"></div>
<div class="t" style="left:11.500px;top:6.600px;font-size:11.950px;color:#757575">Tourübersicht - TO023196</div>
<svg style="left:159px;top:7px" width="10" height="10" viewBox="0 0 10 10"><path d="M.600.600l8.800 8.800M9.400.600L.600 9.400" stroke="#1a1a1a" stroke-width="1"/></svg>
<svg style="left:1174.500px;top:5.500px" width="9" height="9" viewBox="0 0 9 9"><path d="M2.600 2.600V.500h6v6H6.400" fill="none" stroke="#8a8a8a" stroke-width="1"/><rect x=".500" y="2.600" width="5.900" height="5.900" fill="none" stroke="#8a8a8a" stroke-width="1"/></svg><svg style="left:1192.500px;top:5.500px" width="9" height="9" viewBox="0 0 9 9"><rect x=".500" y=".500" width="8" height="8" fill="none" stroke="#8a8a8a" stroke-width="1"/><path d="M.500 1.200h8" stroke="#8a8a8a" stroke-width="1.400"/></svg><svg style="left:1210.500px;top:5.500px" width="9" height="9" viewBox="0 0 9 9"><path d="M.400.400l8.200 8.200M8.600.400L.400 8.600" stroke="#8a8a8a" stroke-width="1"/></svg>
<div class="a" style="left:0;top:38px;width:1227px;height:1px;background:#e3e6ea"></div>
<svg style="left:7.800px;top:23px" width="12.500" height="12.500" viewBox="0 0 20 20"><path fill="#374151" fill-rule="evenodd" d="M8.300 0h3.400l.5 2.600 1.600.7 2.200-1.500 2.400 2.400-1.500 2.200.7 1.600 2.600.5v3.400l-2.600.5-.7 1.600 1.500 2.200-2.400 2.400-2.200-1.500-1.600.7-.5 2.600H8.300l-.5-2.600-1.600-.7L4 18.600l-2.400-2.400 1.500-2.200-.7-1.600L0 11.700V8.300l2.600-.5.700-1.600L1.800 4 4.200 1.600l2.200 1.500 1.600-.7zM10 6.400a3.600 3.600 0 1 0 0 7.200 3.600 3.600 0 0 0 0-7.200z"/></svg>
<div class="a" style="left:0;top:39.200px;width:1211.500px;height:99.800px;border-radius:4px;background:#fdebcc;border-left:2.500px solid #fbdcab"></div>
<div class="al" style="top:50.500px;font-weight:700">Überlappende Ressourcen werden bei den Plandaten verwendet</div>
<div class="al" style="top:71.700px">Das Fahrzeug GF-189EZ ist zur gleichen Zeit für folgende Touren geplant: TO022816.</div>
<div class="al" style="top:113.700px">Der Anhänger GF-983CH ist zur gleichen Zeit für folgende Touren gebucht: TO022816.</div>
<div class="a" style="left:1212px;top:38px;width:15px;height:378px;background:#fafafa;border-left:1px solid #e8e8e8"></div>
<div class="a" style="left:1215.700px;top:41.500px;width:7.600px;height:45.500px;border-radius:4px;background:#c1c1c1"></div>
<div class="a" style="left:0;top:174px;width:1211.500px;height:1px;background:#d8dde3"></div>
<div class="a" style="left:87.500px;top:147.400px;width:71px;height:27.600px;border:1px solid #d8dde3;border-bottom:1px solid #fff;border-radius:4px 4px 0 0;background:#fff"></div>
<div class="nb" style="left:14.1px">Transporte</div>
<div class="nb" style="left:93.2px;color:#374151">Stationen</div>
<div class="nb" style="left:163.8px">Positionen</div>
<div class="nb" style="left:240.3px">Allgemein</div>
<div class="nb" style="left:312.5px">Notizen</div>
<div class="nb" style="left:371.3px">Weitere Informationen</div>
<div class="nb" style="left:521px">Chatter</div>
<div class="nb" style="left:579px">Dateianhänge</div>
<svg style="left:23px;top:197.500px" width="13" height="14" viewBox="0 0 13 14"><path d="M2.600.400v11.400M.400 9.400l2.200 2.800 2.200-2.800" fill="none" stroke="#414b59" stroke-width="1.500"/><path d="M6.400 1.400h6.200M6.400 4.800h4.800M6.400 8.200h3.400M6.400 11.600h2" stroke="#414b59" stroke-width="1.600"/></svg>
<div class="bt" style="left:42.1px">Stationen sortieren</div>
<svg style="left:188.7px;top:198.500px" width="11.500" height="11.500" viewBox="0 0 12 12"><circle cx="6" cy="6" r="5" fill="none" stroke="#414b59" stroke-width="1.500"/><path d="M6.200 3.200v3.200H3.800" fill="none" stroke="#414b59" stroke-width="1.200"/></svg>
<div class="bt" style="left:207.3px;letter-spacing:-.320px">Calculate ETA</div>
<svg style="left:322px;top:197.500px" width="10" height="12" viewBox="0 0 10 12"><path d="M2.400 5.400V3.600a2.600 2.600 0 0 1 5.200 0v1.800" fill="none" stroke="#414b59" stroke-width="1.500"/><rect x=".400" y="5.200" width="9.200" height="6.400" rx="1" fill="#414b59"/></svg>
<div class="bt" style="left:339.5px">Alle Zeiten sperren</div>
<svg style="left:485.8px;top:196.500px" width="10" height="13" viewBox="0 0 10 13"><path d="M2.400 6.400V3.600a2.600 2.600 0 0 1 5.200-.400" fill="none" stroke="#414b59" stroke-width="1.500"/><rect x=".400" y="6.200" width="9.200" height="6.400" rx="1" fill="#414b59"/></svg>
<div class="bt" style="left:503.3px">Alle Zeiten entsperren</div>
<svg style="left:668.3px;top:198px" width="12" height="12" viewBox="0 0 12 12"><path d="M10.400 4.600A4.800 4.800 0 0 0 1.600 4.400M1.600 7.400a4.800 4.800 0 0 0 8.800.200" fill="none" stroke="#414b59" stroke-width="1.600"/><path d="M11.600.800v4.200H7.400zM.400 11.200V7h4.200z" fill="#414b59"/></svg>
<div class="bt" style="left:687px">Zeiten zurücksetzen</div>
<div class="th" style="left:108.8px;top:221.8px">Se...</div>
<div class="th" style="left:139.1px;top:221.8px">Fahrerapp ...</div>
<div class="th" style="left:230.7px;top:221.8px">Stationst...</div>
<div class="th" style="left:315px;top:221.8px">Kunde</div>
<div class="th" style="left:407px;top:223.0px">Strasse</div>
<div class="th" style="left:499px;top:223.0px">PLZ</div>
<div class="th" style="left:599.5px;top:223.0px">Stadt</div>
<div class="th" style="left:692px;top:221.8px">Ist ein Tra...</div>
<div class="th" style="left:850px;top:221.8px">Spe...</div>
<div class="th" style="left:900px;top:221.8px">Ankunftsd...</div>
<div class="th" style="left:992px;top:221.8px">Abfahrtsd...</div>
<div class="th" style="left:1084px;top:223.0px">Service Z...</div>
<div class="th" style="left:1171px;top:221.8px">Fal</div>
<div class="a" style="left:1188px;top:218px;width:24px;height:20px;background:#fff"></div>
<svg style="left:1193.300px;top:222.500px" width="14" height="12" viewBox="0 0 15 13"><path d="M0 3h15M0 10h15" stroke="#374151" stroke-width="1.300"/><circle cx="10.200" cy="3" r="2.100" fill="#374151"/><circle cx="4.800" cy="10" r="2.100" fill="#374151"/></svg>
<div class="a" style="left:8.100px;top:240px;width:1203.900px;height:1px;background:#cfd5dc"></div>
<div class="a" style="left:8.100px;top:292.1px;width:1203.900px;height:1px;background:#d9dee4"></div>
<svg style="left:31.400px;top:244.6px" width="8" height="12" viewBox="0 0 8 12" fill="#a0a7b1"><rect x="0" y="0" width="2.600" height="2.600"/><rect x="0" y="4.6" width="2.600" height="2.600"/><rect x="0" y="9.2" width="2.600" height="2.600"/><rect x="5" y="0" width="2.600" height="2.600"/><rect x="5" y="4.6" width="2.600" height="2.600"/><rect x="5" y="9.2" width="2.600" height="2.600"/></svg>
<svg style="left:82px;top:244.2px" width="12.500" height="10" viewBox="0 0 13 10"><path d="M0 3.400h4.400V.600L9.200 5l-4.800 4.400V6.600H0z" fill="#8cc63f"/><path d="M8.400.700h2.400a1.500 1.500 0 0 1 1.500 1.500v5.600a1.500 1.500 0 0 1-1.500 1.500H8.400" fill="none" stroke="#8cc63f" stroke-width="1.300"/></svg>
<div class="td" style="left:128.600px;top:243.3px">1</div>
<div class="a" style="left:139px;top:244.6px;width:12.400px;height:12.800px;border-radius:3px;background:#a5c2d2"></div>
<svg style="left:141.800px;top:248.4px" width="7" height="6" viewBox="0 0 7 6"><path d="M.800 3l1.900 1.900L6.200.900" fill="none" stroke="#fff" stroke-width="1.300"/></svg>
<div class="td" style="left:230.7px;top:243.3px">Ladung</div>
<div class="td" style="left:315px;top:243.3px">Himberg Dail...</div>
<div class="td" style="left:407px;top:243.3px">Haideäckerst...</div>
<div class="td" style="left:499px;top:243.3px">2325</div>
<div class="td" style="left:599.5px;top:243.3px">Himberg bei ...</div>
<div class="td" style="left:692px;top:243.3px">TRA079834</div>
<div class="td" style="left:900.5px;top:243.3px">19.02.2026 ...</div>
<div class="td" style="left:992.5px;top:243.3px">19.02.2026 ...</div>
<div class="td" style="left:1121.3px;top:243.3px">00:00</div>
<div class="td" style="left:1189px;top:243.3px">00:00</div>
<svg style="left:791.3px;top:244.0px" width="15" height="13" viewBox="0 0 15 13"><path d="M10.600 7.400v3.200a1.400 1.400 0 0 1-1.400 1.400H2a1.400 1.400 0 0 1-1.400-1.400V4A1.400 1.400 0 0 1 2 2.600h4.400" fill="none" stroke="#4a5361" stroke-width="1.200"/><path d="M8.400.600h6v5.600l-2-2-4.600 4.400-1.600-1.600 4.600-4.400z" fill="none" stroke="#4a5361" stroke-width="1.100" stroke-linejoin="round"/></svg>
<svg style="left:824px;top:244.0px" width="15" height="13" viewBox="0 0 15 13"><path d="M10.600 7.400v3.200a1.400 1.400 0 0 1-1.400 1.400H2a1.400 1.400 0 0 1-1.400-1.400V4A1.400 1.400 0 0 1 2 2.600h4.400" fill="none" stroke="#4a5361" stroke-width="1.200"/><path d="M8.400.600h6v5.600l-2-2-4.600 4.400-1.600-1.600 4.600-4.400z" fill="none" stroke="#4a5361" stroke-width="1.100" stroke-linejoin="round"/></svg>
<div class="a" style="left:850.300px;top:244.8px;width:11.800px;height:11.800px;border-radius:2.500px;background:#fff;border:1px solid #dfe2e6"></div>
<div class="a" style="left:8.100px;top:292.6px;width:1203.900px;height:52.8px;background:#f9fafb"></div>
<div class="a" style="left:8.100px;top:345.4px;width:1203.900px;height:1px;background:#d9dee4"></div>
<svg style="left:31.400px;top:296.6px" width="8" height="12" viewBox="0 0 8 12" fill="#a0a7b1"><rect x="0" y="0" width="2.600" height="2.600"/><rect x="0" y="4.6" width="2.600" height="2.600"/><rect x="0" y="9.2" width="2.600" height="2.600"/><rect x="5" y="0" width="2.600" height="2.600"/><rect x="5" y="4.6" width="2.600" height="2.600"/><rect x="5" y="9.2" width="2.600" height="2.600"/></svg>
<svg style="left:82px;top:296.2px" width="12.500" height="10" viewBox="0 0 13 10"><path d="M0 3.400h4.400V.600L9.200 5l-4.800 4.400V6.600H0z" fill="#cb4fd6"/><path d="M8.400.700h2.400a1.500 1.500 0 0 1 1.500 1.500v5.600a1.500 1.500 0 0 1-1.500 1.500H8.400" fill="none" stroke="#cb4fd6" stroke-width="1.300"/></svg>
<div class="td" style="left:128.600px;top:295.3px">2</div>
<div class="a" style="left:139px;top:296.6px;width:12.400px;height:12.800px;border-radius:3px;background:#a5c2d2"></div>
<svg style="left:141.800px;top:300.4px" width="7" height="6" viewBox="0 0 7 6"><path d="M.800 3l1.900 1.900L6.200.900" fill="none" stroke="#fff" stroke-width="1.300"/></svg>
<div class="td" style="left:230.7px;top:295.3px">Ladung</div>
<div class="td" style="left:315px;top:295.3px">Himberg Dail...</div>
<div class="td" style="left:407px;top:295.3px">Haideäckerst...</div>
<div class="td" style="left:499px;top:295.3px">2325</div>
<div class="td" style="left:599.5px;top:295.3px">Himberg bei ...</div>
<div class="td" style="left:692px;top:295.3px">TRA079687</div>
<div class="td" style="left:900.5px;top:295.3px">19.02.2026 ...</div>
<div class="td" style="left:992.5px;top:295.3px">19.02.2026 ...</div>
<div class="td" style="left:1121.3px;top:295.3px">00:00</div>
<div class="td" style="left:1189px;top:295.3px">00:00</div>
<svg style="left:791.3px;top:296.0px" width="15" height="13" viewBox="0 0 15 13"><path d="M10.600 7.400v3.200a1.400 1.400 0 0 1-1.400 1.400H2a1.400 1.400 0 0 1-1.400-1.400V4A1.400 1.400 0 0 1 2 2.600h4.400" fill="none" stroke="#4a5361" stroke-width="1.200"/><path d="M8.400.600h6v5.600l-2-2-4.600 4.400-1.600-1.600 4.600-4.400z" fill="none" stroke="#4a5361" stroke-width="1.100" stroke-linejoin="round"/></svg>
<svg style="left:824px;top:296.0px" width="15" height="13" viewBox="0 0 15 13"><path d="M10.600 7.400v3.200a1.400 1.400 0 0 1-1.400 1.400H2a1.400 1.400 0 0 1-1.400-1.400V4A1.400 1.400 0 0 1 2 2.600h4.400" fill="none" stroke="#4a5361" stroke-width="1.200"/><path d="M8.400.600h6v5.600l-2-2-4.600 4.400-1.600-1.600 4.600-4.400z" fill="none" stroke="#4a5361" stroke-width="1.100" stroke-linejoin="round"/></svg>
<div class="a" style="left:850.300px;top:296.8px;width:11.800px;height:11.800px;border-radius:2.500px;background:#fff;border:1px solid #dfe2e6"></div>
<div class="a" style="left:8.100px;top:397.0px;width:1203.900px;height:1px;background:#d9dee4"></div>
<svg style="left:31.400px;top:348.6px" width="8" height="12" viewBox="0 0 8 12" fill="#a0a7b1"><rect x="0" y="0" width="2.600" height="2.600"/><rect x="0" y="4.6" width="2.600" height="2.600"/><rect x="0" y="9.2" width="2.600" height="2.600"/><rect x="5" y="0" width="2.600" height="2.600"/><rect x="5" y="4.6" width="2.600" height="2.600"/><rect x="5" y="9.2" width="2.600" height="2.600"/></svg>
<svg style="left:82px;top:348.2px" width="12.500" height="10" viewBox="0 0 13 10"><path d="M0 3.400h4.400V.600L9.200 5l-4.800 4.400V6.600H0z" fill="#0b7a1e"/><path d="M8.400.700h2.400a1.500 1.500 0 0 1 1.500 1.500v5.600a1.500 1.500 0 0 1-1.500 1.500H8.400" fill="none" stroke="#0b7a1e" stroke-width="1.300"/></svg>
<div class="td" style="left:128.600px;top:347.3px">3</div>
<div class="a" style="left:139px;top:348.6px;width:12.400px;height:12.800px;border-radius:3px;background:#a5c2d2"></div>
<svg style="left:141.800px;top:352.4px" width="7" height="6" viewBox="0 0 7 6"><path d="M.800 3l1.900 1.900L6.200.900" fill="none" stroke="#fff" stroke-width="1.300"/></svg>
<div class="td" style="left:230.7px;top:347.3px">Ladung</div>
<div class="td" style="left:315px;top:347.3px">Himberg Dail...</div>
<div class="td" style="left:407px;top:347.3px">Haideäckerst...</div>
<div class="td" style="left:499px;top:347.3px">2325</div>
<div class="td" style="left:599.5px;top:347.3px">Himberg bei ...</div>
<div class="td" style="left:692px;top:347.3px">TRA079686</div>
<div class="td" style="left:900.5px;top:347.3px">19.02.2026 ...</div>
<div class="td" style="left:992.5px;top:347.3px">19.02.2026 ...</div>
<div class="td" style="left:1121.3px;top:347.3px">00:00</div>
<div class="td" style="left:1189px;top:347.3px">00:00</div>
<svg style="left:791.3px;top:348.0px" width="15" height="13" viewBox="0 0 15 13"><path d="M10.600 7.400v3.200a1.400 1.400 0 0 1-1.400 1.400H2a1.400 1.400 0 0 1-1.400-1.400V4A1.400 1.400 0 0 1 2 2.600h4.400" fill="none" stroke="#4a5361" stroke-width="1.200"/><path d="M8.400.600h6v5.600l-2-2-4.600 4.400-1.600-1.600 4.600-4.400z" fill="none" stroke="#4a5361" stroke-width="1.100" stroke-linejoin="round"/></svg>
<svg style="left:824px;top:348.0px" width="15" height="13" viewBox="0 0 15 13"><path d="M10.600 7.400v3.200a1.400 1.400 0 0 1-1.400 1.400H2a1.400 1.400 0 0 1-1.400-1.400V4A1.400 1.400 0 0 1 2 2.600h4.400" fill="none" stroke="#4a5361" stroke-width="1.200"/><path d="M8.400.600h6v5.600l-2-2-4.600 4.400-1.600-1.600 4.600-4.400z" fill="none" stroke="#4a5361" stroke-width="1.100" stroke-linejoin="round"/></svg>
<div class="a" style="left:850.300px;top:348.8px;width:11.800px;height:11.800px;border-radius:2.500px;background:#fff;border:1px solid #dfe2e6"></div>
<div class="a" style="left:0;top:400.700px;width:1212px;height:1px;background:#e3e6ea"></div>
<div class="a" style="left:1212px;top:38px;width:15px;height:378px;background:#fafafa;border-left:1px solid #e8e8e8"></div>
<div class="a" style="left:1215.700px;top:41.500px;width:7.600px;height:45.500px;border-radius:4px;background:#c1c1c1"></div>
<div class="a" style="left:0;top:401.500px;width:1227px;height:14.500px;background:#fafafa"></div>
<div class="a" style="left:3.500px;top:404px;width:1181px;height:7.500px;border-radius:4px;background:#c1c1c1"></div>
</div>
<div class="a" style="left:0;top:967.500px;width:1920px;height:1.500px;background:#04080c"></div>
<div class="a" style="left:1899px;top:947px;width:21px;height:21px;background:radial-gradient(circle at 0 0,rgba(0,0,0,0) 20px,#0a1620 21px)"></div>
<div class="a" style="left:0;top:947px;width:21px;height:21px;background:radial-gradient(circle at 100% 0,rgba(0,0,0,0) 20px,#04080c 21px)"></div>
</body></html>
